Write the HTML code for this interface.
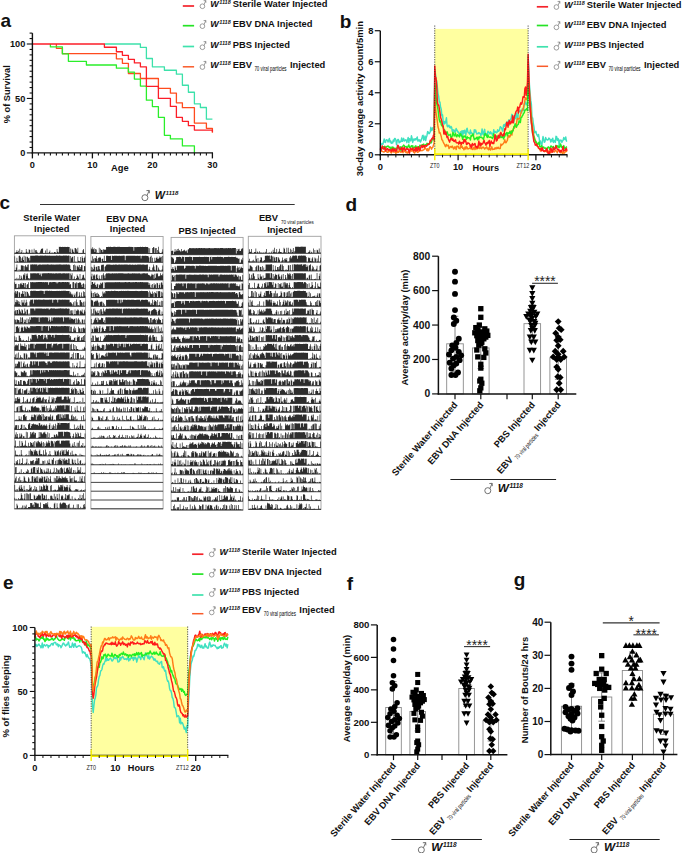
<!DOCTYPE html><html><head><meta charset="utf-8"><style>html,body{margin:0;padding:0;background:#fff;overflow:hidden;}svg{display:block;}text{font-family:"Liberation Sans",sans-serif;}</style></head><body><svg width="685" height="853" viewBox="0 0 685 853" font-family='"Liberation Sans", sans-serif'>
<rect x="0" y="0" width="685" height="853" fill="#fff" stroke="none" stroke-width="1"/>
<text x="0.6" y="26.7" font-size="19" text-anchor="start" font-weight="bold" font-style="normal" fill="#111">a</text>
<polyline fill="none" stroke="#ff4b1e" stroke-width="1.3" stroke-linejoin="round" points="56.4,44 56.4,44 56.4,48.36 62.4,48.36 62.4,53.58 116.4,53.58 116.4,58.81 122.4,58.81 122.4,63.28 128.4,63.28 128.4,73.51 140.4,73.51 140.4,78.52 158.4,78.52 158.4,88.32 170.4,88.32 170.4,93.11 176.4,93.11 176.4,102.81 182.4,102.81 182.4,107.71 194.4,107.71 194.4,123.06 206.4,123.06 206.4,128.29 212.4,128.29 212.4,132.75" stroke-linejoin="miter"/>
<polyline fill="none" stroke="#3ce1aa" stroke-width="1.3" stroke-linejoin="round" points="104.4,44 140.4,44 140.4,47.38 146.4,47.38 146.4,58.48 152.4,58.48 152.4,66.87 164.4,66.87 164.4,70.24 176.4,70.24 176.4,74.17 182.4,74.17 182.4,85.27 188.4,85.27 188.4,92.24 194.4,92.24 194.4,103.79 200.4,103.79 200.4,107.49 206.4,107.49 206.4,119.14 212.4,119.14" stroke-linejoin="miter"/>
<polyline fill="none" stroke="#2aee2a" stroke-width="1.3" stroke-linejoin="round" points="50.4,44 50.4,44 50.4,46.94 62.4,46.94 62.4,53.91 68.4,53.91 68.4,61.32 86.4,61.32 86.4,65.02 116.4,65.02 116.4,68.18 128.4,68.18 128.4,72.1 134.4,72.1 134.4,79.07 140.4,79.07 140.4,86.04 146.4,86.04 146.4,100.19 152.4,100.19 152.4,106.62 158.4,106.62 158.4,117.29 164.4,117.29 164.4,135.37 170.4,135.37 170.4,138.96 182.4,138.96 182.4,145.93 194.4,145.93 194.4,152.9" stroke-linejoin="miter"/>
<polyline fill="none" stroke="#fc1e28" stroke-width="1.3" stroke-linejoin="round" points="32.4,44 104.4,44 104.4,47.27 116.4,47.27 116.4,51.73 122.4,51.73 122.4,55.33 128.4,55.33 128.4,59.35 134.4,59.35 134.4,62.95 140.4,62.95 140.4,66.87 146.4,66.87 146.4,86.47 158.4,86.47 158.4,98.45 170.4,98.45 170.4,106.4 176.4,106.4 176.4,117.4 182.4,117.4 182.4,121.32 188.4,121.32 188.4,125.68 194.4,125.68 194.4,130.03 212.4,130.03 212.4,131.66" stroke-linejoin="miter"/>
<line x1="32.4" y1="33.11" x2="32.4" y2="153.6" stroke="#111" stroke-width="1.4"/>
<line x1="31.7" y1="152.9" x2="213" y2="152.9" stroke="#111" stroke-width="1.4"/>
<line x1="26.8" y1="152.9" x2="32.4" y2="152.9" stroke="#111" stroke-width="1.1"/>
<line x1="29.6" y1="147.46" x2="32.4" y2="147.46" stroke="#111" stroke-width="1.1"/>
<line x1="29.6" y1="142.01" x2="32.4" y2="142.01" stroke="#111" stroke-width="1.1"/>
<line x1="29.6" y1="136.56" x2="32.4" y2="136.56" stroke="#111" stroke-width="1.1"/>
<line x1="29.6" y1="131.12" x2="32.4" y2="131.12" stroke="#111" stroke-width="1.1"/>
<line x1="29.6" y1="125.68" x2="32.4" y2="125.68" stroke="#111" stroke-width="1.1"/>
<line x1="29.6" y1="120.23" x2="32.4" y2="120.23" stroke="#111" stroke-width="1.1"/>
<line x1="29.6" y1="114.78" x2="32.4" y2="114.78" stroke="#111" stroke-width="1.1"/>
<line x1="29.6" y1="109.34" x2="32.4" y2="109.34" stroke="#111" stroke-width="1.1"/>
<line x1="29.6" y1="103.9" x2="32.4" y2="103.9" stroke="#111" stroke-width="1.1"/>
<line x1="26.8" y1="98.45" x2="32.4" y2="98.45" stroke="#111" stroke-width="1.1"/>
<line x1="29.6" y1="93.01" x2="32.4" y2="93.01" stroke="#111" stroke-width="1.1"/>
<line x1="29.6" y1="87.56" x2="32.4" y2="87.56" stroke="#111" stroke-width="1.1"/>
<line x1="29.6" y1="82.12" x2="32.4" y2="82.12" stroke="#111" stroke-width="1.1"/>
<line x1="29.6" y1="76.67" x2="32.4" y2="76.67" stroke="#111" stroke-width="1.1"/>
<line x1="29.6" y1="71.23" x2="32.4" y2="71.23" stroke="#111" stroke-width="1.1"/>
<line x1="29.6" y1="65.78" x2="32.4" y2="65.78" stroke="#111" stroke-width="1.1"/>
<line x1="29.6" y1="60.34" x2="32.4" y2="60.34" stroke="#111" stroke-width="1.1"/>
<line x1="29.6" y1="54.89" x2="32.4" y2="54.89" stroke="#111" stroke-width="1.1"/>
<line x1="29.6" y1="49.45" x2="32.4" y2="49.45" stroke="#111" stroke-width="1.1"/>
<line x1="26.8" y1="44" x2="32.4" y2="44" stroke="#111" stroke-width="1.1"/>
<line x1="29.6" y1="38.56" x2="32.4" y2="38.56" stroke="#111" stroke-width="1.1"/>
<line x1="29.6" y1="33.11" x2="32.4" y2="33.11" stroke="#111" stroke-width="1.1"/>
<line x1="32.4" y1="152.9" x2="32.4" y2="158.4" stroke="#111" stroke-width="1.3"/>
<line x1="38.4" y1="152.9" x2="38.4" y2="155.5" stroke="#111" stroke-width="1.1"/>
<line x1="44.4" y1="152.9" x2="44.4" y2="155.5" stroke="#111" stroke-width="1.1"/>
<line x1="50.4" y1="152.9" x2="50.4" y2="155.5" stroke="#111" stroke-width="1.1"/>
<line x1="56.4" y1="152.9" x2="56.4" y2="155.5" stroke="#111" stroke-width="1.1"/>
<line x1="62.4" y1="152.9" x2="62.4" y2="155.5" stroke="#111" stroke-width="1.1"/>
<line x1="68.4" y1="152.9" x2="68.4" y2="155.5" stroke="#111" stroke-width="1.1"/>
<line x1="74.4" y1="152.9" x2="74.4" y2="155.5" stroke="#111" stroke-width="1.1"/>
<line x1="80.4" y1="152.9" x2="80.4" y2="155.5" stroke="#111" stroke-width="1.1"/>
<line x1="86.4" y1="152.9" x2="86.4" y2="155.5" stroke="#111" stroke-width="1.1"/>
<line x1="92.4" y1="152.9" x2="92.4" y2="158.4" stroke="#111" stroke-width="1.3"/>
<line x1="98.4" y1="152.9" x2="98.4" y2="155.5" stroke="#111" stroke-width="1.1"/>
<line x1="104.4" y1="152.9" x2="104.4" y2="155.5" stroke="#111" stroke-width="1.1"/>
<line x1="110.4" y1="152.9" x2="110.4" y2="155.5" stroke="#111" stroke-width="1.1"/>
<line x1="116.4" y1="152.9" x2="116.4" y2="155.5" stroke="#111" stroke-width="1.1"/>
<line x1="122.4" y1="152.9" x2="122.4" y2="155.5" stroke="#111" stroke-width="1.1"/>
<line x1="128.4" y1="152.9" x2="128.4" y2="155.5" stroke="#111" stroke-width="1.1"/>
<line x1="134.4" y1="152.9" x2="134.4" y2="155.5" stroke="#111" stroke-width="1.1"/>
<line x1="140.4" y1="152.9" x2="140.4" y2="155.5" stroke="#111" stroke-width="1.1"/>
<line x1="146.4" y1="152.9" x2="146.4" y2="155.5" stroke="#111" stroke-width="1.1"/>
<line x1="152.4" y1="152.9" x2="152.4" y2="158.4" stroke="#111" stroke-width="1.3"/>
<line x1="158.4" y1="152.9" x2="158.4" y2="155.5" stroke="#111" stroke-width="1.1"/>
<line x1="164.4" y1="152.9" x2="164.4" y2="155.5" stroke="#111" stroke-width="1.1"/>
<line x1="170.4" y1="152.9" x2="170.4" y2="155.5" stroke="#111" stroke-width="1.1"/>
<line x1="176.4" y1="152.9" x2="176.4" y2="155.5" stroke="#111" stroke-width="1.1"/>
<line x1="182.4" y1="152.9" x2="182.4" y2="155.5" stroke="#111" stroke-width="1.1"/>
<line x1="188.4" y1="152.9" x2="188.4" y2="155.5" stroke="#111" stroke-width="1.1"/>
<line x1="194.4" y1="152.9" x2="194.4" y2="155.5" stroke="#111" stroke-width="1.1"/>
<line x1="200.4" y1="152.9" x2="200.4" y2="155.5" stroke="#111" stroke-width="1.1"/>
<line x1="206.4" y1="152.9" x2="206.4" y2="155.5" stroke="#111" stroke-width="1.1"/>
<line x1="212.4" y1="152.9" x2="212.4" y2="158.4" stroke="#111" stroke-width="1.3"/>
<text x="25.3" y="156.1" font-size="9.2" text-anchor="end" font-weight="bold" font-style="normal" fill="#111">0</text>
<text x="25.3" y="101.65" font-size="9.2" text-anchor="end" font-weight="bold" font-style="normal" fill="#111">50</text>
<text x="25.3" y="47.2" font-size="9.2" text-anchor="end" font-weight="bold" font-style="normal" fill="#111">100</text>
<text x="32.4" y="167.8" font-size="9.2" text-anchor="middle" font-weight="bold" font-style="normal" fill="#111">0</text>
<text x="92.4" y="167.8" font-size="9.2" text-anchor="middle" font-weight="bold" font-style="normal" fill="#111">10</text>
<text x="152.4" y="167.8" font-size="9.2" text-anchor="middle" font-weight="bold" font-style="normal" fill="#111">20</text>
<text x="212.4" y="167.8" font-size="9.2" text-anchor="middle" font-weight="bold" font-style="normal" fill="#111">30</text>
<text x="119.8" y="171.2" font-size="9.35" text-anchor="middle" font-weight="bold" font-style="normal" fill="#111">Age</text>
<text x="9.9" y="94.25" font-size="9.25" text-anchor="middle" font-weight="bold" font-style="normal" fill="#111" transform="rotate(-90 9.9 94.25)">% of Survival</text>
<line x1="182.8" y1="6" x2="194.1" y2="6" stroke="#f4232b" stroke-width="1.7"/>
<g fill="none" stroke="#777" stroke-width="0.71">
<circle cx="202.42" cy="6.25" r="2.35"/>
<path d="M204.08 4.59L205.78 0.54M203.6 0.7L205.78 0.54L205.95 2.72"/>
</g>
<text x="210.3" y="6.9" font-size="9" text-anchor="start" font-weight="bold" font-style="italic" fill="#111">W</text>
<text x="219.3" y="4.1" font-size="5.5" text-anchor="start" font-weight="bold" font-style="italic" fill="#111">1118</text>
<text x="232.8" y="6.9" font-size="9.35" text-anchor="start" font-weight="bold" font-style="normal" fill="#111">Sterile Water Injected</text>
<line x1="182.8" y1="25.7" x2="194.1" y2="25.7" stroke="#25e325" stroke-width="1.7"/>
<g fill="none" stroke="#777" stroke-width="0.71">
<circle cx="202.42" cy="26.15" r="2.35"/>
<path d="M204.08 24.49L205.78 20.44M203.6 20.6L205.78 20.44L205.95 22.62"/>
</g>
<text x="210.3" y="26.8" font-size="9" text-anchor="start" font-weight="bold" font-style="italic" fill="#111">W</text>
<text x="219.3" y="24" font-size="5.5" text-anchor="start" font-weight="bold" font-style="italic" fill="#111">1118</text>
<text x="232.8" y="26.8" font-size="9.35" text-anchor="start" font-weight="bold" font-style="normal" fill="#111">EBV DNA Injected</text>
<line x1="182.8" y1="46.5" x2="194.1" y2="46.5" stroke="#3fe2ad" stroke-width="1.7"/>
<g fill="none" stroke="#777" stroke-width="0.71">
<circle cx="202.42" cy="47.25" r="2.35"/>
<path d="M204.08 45.59L205.78 41.54M203.6 41.7L205.78 41.54L205.95 43.72"/>
</g>
<text x="210.3" y="47.9" font-size="9" text-anchor="start" font-weight="bold" font-style="italic" fill="#111">W</text>
<text x="219.3" y="45.1" font-size="5.5" text-anchor="start" font-weight="bold" font-style="italic" fill="#111">1118</text>
<text x="232.8" y="47.9" font-size="9.35" text-anchor="start" font-weight="bold" font-style="normal" fill="#111">PBS Injected</text>
<line x1="182.8" y1="66.8" x2="194.1" y2="66.8" stroke="#f95b2a" stroke-width="1.5"/>
<g fill="none" stroke="#777" stroke-width="0.71">
<circle cx="202.42" cy="67.05" r="2.35"/>
<path d="M204.08 65.39L205.78 61.34M203.6 61.5L205.78 61.34L205.95 63.52"/>
</g>
<text x="210.3" y="67.7" font-size="9" text-anchor="start" font-weight="bold" font-style="italic" fill="#111">W</text>
<text x="219.3" y="64.9" font-size="5.5" text-anchor="start" font-weight="bold" font-style="italic" fill="#111">1118</text>
<text x="232.8" y="67.7" font-size="9.35" text-anchor="start" font-weight="bold" font-style="normal" fill="#111">EBV</text>
<text x="254.4" y="70.7" font-size="6.3" text-anchor="start" font-weight="normal" font-style="normal" fill="#000" textLength="32.2" lengthAdjust="spacingAndGlyphs">70 viral particles</text>
<text x="290" y="67.7" font-size="9.35" text-anchor="start" font-weight="bold" font-style="normal" fill="#111">Injected</text>
<text x="339.8" y="27.5" font-size="19" text-anchor="start" font-weight="bold" font-style="normal" fill="#111">b</text>
<rect x="434.76" y="28.9" width="93.36" height="125.9" fill="#ffffa0" stroke="none" stroke-width="1"/>
<polyline fill="none" stroke="#40e0c0" stroke-width="1.45" stroke-linejoin="round" points="380.3,142.63 380.95,143.62 381.6,144.67 382.25,143.82 382.89,144.29 383.54,141.66 384.19,138.93 384.84,142.2 385.49,142.41 386.13,139.87 386.78,139.67 387.43,140.25 388.08,142.03 388.73,139.93 389.38,138.42 390.03,142.13 390.67,140.9 391.32,143.38 391.97,142.35 392.62,143.03 393.27,140.04 393.92,141.52 394.56,138.57 395.21,138.58 395.86,140.08 396.51,144.76 397.16,141.06 397.81,139.51 398.45,139.56 399.1,142.86 399.75,141.25 400.4,142.08 401.05,141.44 401.69,137.97 402.34,141.35 402.99,140.03 403.64,138.34 404.29,141.11 404.94,140.43 405.59,139.84 406.23,140.23 406.88,142.65 407.53,139.87 408.18,137.55 408.83,142.78 409.48,138.61 410.12,139.75 410.77,140.87 411.42,135.76 412.07,138.22 412.72,142.41 413.37,140.07 414.01,138.86 414.66,140.13 415.31,138.67 415.96,139.85 416.61,138.27 417.25,136.99 417.9,141.07 418.55,139.94 419.2,140.97 419.85,139.85 420.5,141.98 421.14,140.53 421.79,138.86 422.44,135.9 423.09,135.33 423.74,140.18 424.39,138.92 425.04,135.91 425.68,140.6 426.33,137.43 426.98,135.41 427.63,131.6 428.28,132.01 428.93,133.75 429.57,133.34 430.22,131.78 430.87,127.35 431.52,130.64 432.17,129.96 432.81,127.71 433.46,127.9 434.11,127.74 434.76,69.46 435.41,73.31 436.06,79.87 436.71,80.79 437.35,87.11 438,93.62 438.65,96.23 439.3,102.03 439.95,102.02 440.6,107.22 441.24,109.19 441.89,115.86 442.54,114.8 443.19,121.61 443.84,124.22 444.49,121.46 445.13,123.4 445.78,121.38 446.43,117.82 447.08,125.81 447.73,126.83 448.38,125.38 449.02,125.3 449.67,127.48 450.32,128.02 450.97,126.36 451.62,127.44 452.26,131.35 452.91,129.83 453.56,129.91 454.21,132.36 454.86,130.13 455.51,132.08 456.16,128.5 456.8,130.01 457.45,130.85 458.1,132.49 458.75,132.26 459.4,136.41 460.05,134.58 460.69,131.63 461.34,136.26 461.99,130.83 462.64,135.38 463.29,130.79 463.94,133.39 464.58,130.29 465.23,131.87 465.88,135.18 466.53,129.12 467.18,128.33 467.83,131.89 468.47,132.81 469.12,132.87 469.77,134.15 470.42,130.04 471.07,133.14 471.72,132.7 472.36,134.26 473.01,134.28 473.66,135.03 474.31,129.71 474.96,131.95 475.61,130.03 476.25,132.15 476.9,133.98 477.55,133.4 478.2,133.67 478.85,132.53 479.5,133.24 480.14,133.5 480.79,135.83 481.44,134.09 482.09,128.86 482.74,133.69 483.38,134.85 484.03,131.41 484.68,129.34 485.33,135.35 485.98,133.4 486.63,134.35 487.28,136.39 487.92,131.11 488.57,132.12 489.22,132.36 489.87,133.91 490.52,131.62 491.17,133.47 491.81,133.12 492.46,135.29 493.11,135.08 493.76,129.63 494.41,132.85 495.06,131.46 495.7,131.91 496.35,132.77 497,132.46 497.65,129.79 498.3,131.31 498.95,130.86 499.59,129.71 500.24,126.67 500.89,127.2 501.54,127.94 502.19,130.13 502.84,131.26 503.48,125.36 504.13,124.45 504.78,126.44 505.43,124.5 506.08,123.14 506.73,122.35 507.37,121.96 508.02,124.18 508.67,119.91 509.32,125 509.97,120 510.62,119.49 511.26,117.64 511.91,114.35 512.56,115.19 513.21,121.65 513.86,122.42 514.5,115.88 515.15,118.83 515.8,115.74 516.45,113.18 517.1,118.96 517.75,119.49 518.39,112.5 519.04,111.55 519.69,111.5 520.34,110.28 520.99,112.05 521.64,112.86 522.29,108.74 522.93,109.89 523.58,110.43 524.23,103.86 524.88,103.61 525.53,102.04 526.17,104.83 526.82,103.55 527.47,103.43 528.12,55.9 528.77,68.96 529.42,84.55 530.07,92.25 530.71,100.14 531.36,103.88 532.01,117.72 532.66,117.86 533.31,123.46 533.96,127.13 534.6,132.79 535.25,132.5 535.9,131.3 536.55,134.18 537.2,135.25 537.85,136.52 538.49,134.46 539.14,137.86 539.79,143.03 540.44,141.04 541.09,144.06 541.74,146.69 542.38,140.83 543.03,136.59 543.68,139.33 544.33,142.35 544.98,141.71 545.62,137.53 546.27,139.15 546.92,139.73 547.57,139.99 548.22,139.64 548.87,138.07 549.51,138.52 550.16,139.66 550.81,142.04 551.46,139.39 552.11,141.06 552.76,138.22 553.4,142.5 554.05,140.68 554.7,140.45 555.35,142.43 556,136.34 556.65,136.6 557.3,140.45 557.94,138.43 558.59,139.74 559.24,145.48 559.89,140.24 560.54,140.1 561.19,140.19 561.83,142.42 562.48,140.98 563.13,140.2 563.78,137.48 564.43,139.03 565.08,139.58 565.72,136.95 566.37,140.95 567.02,141.53"/>
<polyline fill="none" stroke="#ff7d18" stroke-width="1.45" stroke-linejoin="round" points="380.3,150.37 380.95,150.53 381.6,150.87 382.25,151.47 382.89,151.49 383.54,151.96 384.19,151.94 384.84,151.47 385.49,150.04 386.13,150.93 386.78,151.76 387.43,152.39 388.08,152.23 388.73,150.04 389.38,150.95 390.03,151.61 390.67,152.19 391.32,152.91 391.97,151.8 392.62,150.85 393.27,152.02 393.92,152.01 394.56,151.94 395.21,151.82 395.86,153.38 396.51,152.26 397.16,152.5 397.81,150.99 398.45,152.31 399.1,151 399.75,150.07 400.4,151.9 401.05,152.34 401.69,151.58 402.34,151.8 402.99,152.67 403.64,151.08 404.29,149.57 404.94,151.73 405.59,152.08 406.23,152.77 406.88,151.66 407.53,153.1 408.18,152.85 408.83,150.63 409.48,152.33 410.12,150.49 410.77,149.93 411.42,151.16 412.07,150.83 412.72,149.6 413.37,151.68 414.01,152.44 414.66,153.07 415.31,151.47 415.96,149.78 416.61,150.31 417.25,152.29 417.9,152.32 418.55,151.73 419.2,150.79 419.85,151.04 420.5,150.52 421.14,150.31 421.79,150.76 422.44,150.37 423.09,149.94 423.74,149.96 424.39,148.98 425.04,147.35 425.68,148.45 426.33,149.26 426.98,150.79 427.63,148.78 428.28,150.84 428.93,149.99 429.57,147.06 430.22,146.75 430.87,147.71 431.52,149.19 432.17,147.59 432.81,147.26 433.46,145.16 434.11,142.97 434.76,95.12 435.41,105.43 436.06,112.77 436.71,116.68 437.35,121.67 438,127.03 438.65,128.96 439.3,133.09 439.95,132.56 440.6,134.37 441.24,136.43 441.89,139.88 442.54,140.21 443.19,142.02 443.84,143.35 444.49,144.25 445.13,146.11 445.78,146.62 446.43,144.51 447.08,145.71 447.73,145.58 448.38,145.28 449.02,148.53 449.67,147.86 450.32,146.72 450.97,146.58 451.62,147.37 452.26,146.06 452.91,147.11 453.56,148.94 454.21,148.62 454.86,146.65 455.51,147.19 456.16,149.56 456.8,146.26 457.45,146.58 458.1,146.09 458.75,148.01 459.4,148.29 460.05,148.73 460.69,144.99 461.34,147.37 461.99,146.05 462.64,148.28 463.29,147.93 463.94,149.77 464.58,148.34 465.23,146.89 465.88,148.96 466.53,146.69 467.18,147.41 467.83,149.05 468.47,148.61 469.12,148.43 469.77,148.02 470.42,148.57 471.07,148.9 471.72,148.44 472.36,149.24 473.01,149.47 473.66,147.93 474.31,147.02 474.96,149.47 475.61,148.13 476.25,148.72 476.9,148.93 477.55,147.04 478.2,148.08 478.85,146.27 479.5,148.45 480.14,147.52 480.79,148.14 481.44,148.64 482.09,147.27 482.74,147.83 483.38,147.15 484.03,147.95 484.68,149.1 485.33,148.09 485.98,147.64 486.63,146.83 487.28,148.74 487.92,148.25 488.57,149.73 489.22,147.47 489.87,149.25 490.52,150.09 491.17,147.99 491.81,146.77 492.46,149.59 493.11,149.41 493.76,149.01 494.41,149.19 495.06,147.66 495.7,148.81 496.35,148.69 497,147.36 497.65,148.44 498.3,147.24 498.95,148.45 499.59,148.67 500.24,148.49 500.89,143.98 501.54,145.43 502.19,144.53 502.84,144.12 503.48,143.27 504.13,142.36 504.78,139.7 505.43,142.5 506.08,142.76 506.73,141.33 507.37,140.44 508.02,136.72 508.67,135.58 509.32,137.12 509.97,136.83 510.62,134.07 511.26,131.03 511.91,135.1 512.56,130.11 513.21,130.29 513.86,126.59 514.5,128.01 515.15,126.17 515.8,126.52 516.45,124.16 517.1,119.06 517.75,118.33 518.39,119.1 519.04,118.9 519.69,118.93 520.34,115.11 520.99,112.69 521.64,111.17 522.29,109.86 522.93,109.83 523.58,106.61 524.23,104.4 524.88,100.24 525.53,97.65 526.17,99.56 526.82,99.28 527.47,96.52 528.12,63.24 528.77,78.55 529.42,90.02 530.07,101.72 530.71,107.85 531.36,115.87 532.01,121.54 532.66,127.23 533.31,132.28 533.96,135.97 534.6,137.9 535.25,140.43 535.9,141.46 536.55,143.5 537.2,146.35 537.85,146.14 538.49,148.43 539.14,148.5 539.79,148.92 540.44,151.12 541.09,149.35 541.74,149.39 542.38,150.08 543.03,150.66 543.68,150.93 544.33,151.66 544.98,151.16 545.62,151.4 546.27,151.02 546.92,152.21 547.57,150.93 548.22,150.93 548.87,151.34 549.51,151.6 550.16,150.92 550.81,152.88 551.46,150.97 552.11,150.94 552.76,150.93 553.4,150.97 554.05,152.01 554.7,151.62 555.35,150.66 556,150.79 556.65,151.29 557.3,152.87 557.94,150.85 558.59,149.94 559.24,150.13 559.89,151.2 560.54,152.87 561.19,150.61 561.83,151.75 562.48,154.02 563.13,151.52 563.78,153.08 564.43,153.03 565.08,152.06 565.72,150.18 566.37,151.57 567.02,150.92"/>
<polyline fill="none" stroke="#22ee22" stroke-width="1.45" stroke-linejoin="round" points="380.3,147.28 380.95,147.85 381.6,149.02 382.25,148.32 382.89,146.89 383.54,146.8 384.19,147.01 384.84,146.25 385.49,148.15 386.13,147.43 386.78,146.39 387.43,146.38 388.08,145.91 388.73,146.76 389.38,147.61 390.03,147.12 390.67,148.76 391.32,149.4 391.97,146.91 392.62,147.29 393.27,147.25 393.92,149.42 394.56,148.14 395.21,148.27 395.86,148.83 396.51,150.26 397.16,147.97 397.81,146.26 398.45,146.85 399.1,148.03 399.75,147.35 400.4,146.86 401.05,150.6 401.69,147.84 402.34,146.61 402.99,146.19 403.64,145.02 404.29,145.68 404.94,146.76 405.59,146.82 406.23,146.44 406.88,147.89 407.53,147.35 408.18,145.97 408.83,144.88 409.48,147.26 410.12,147.41 410.77,146.92 411.42,145.71 412.07,146.96 412.72,145.71 413.37,148.28 414.01,147.67 414.66,147.36 415.31,146.07 415.96,145.92 416.61,148.81 417.25,148.2 417.9,146.62 418.55,147.66 419.2,148.36 419.85,145.28 420.5,145.41 421.14,145.48 421.79,146.27 422.44,144.56 423.09,145.5 423.74,144.13 424.39,146.22 425.04,146.07 425.68,144.62 426.33,145.14 426.98,143.32 427.63,143.54 428.28,144.7 428.93,143.37 429.57,143.24 430.22,141.58 430.87,143.05 431.52,142.44 432.17,139.68 432.81,137.69 433.46,137.77 434.11,140 434.76,82.61 435.41,87.38 436.06,96.54 436.71,103.49 437.35,106.17 438,109.6 438.65,115.4 439.3,119.99 439.95,121.94 440.6,120.99 441.24,124.74 441.89,125.68 442.54,126.43 443.19,127.23 443.84,129.61 444.49,129.78 445.13,132.48 445.78,132.82 446.43,133.95 447.08,131.66 447.73,133.6 448.38,135.22 449.02,135.13 449.67,135.03 450.32,134.37 450.97,137.67 451.62,137.37 452.26,135.98 452.91,132.13 453.56,134.21 454.21,136 454.86,134.88 455.51,133.31 456.16,136.45 456.8,136.84 457.45,134.8 458.1,135.56 458.75,135.7 459.4,136.95 460.05,133.78 460.69,133.88 461.34,135.55 461.99,136.09 462.64,139.47 463.29,136.33 463.94,136.95 464.58,136.17 465.23,135.9 465.88,137.56 466.53,139.3 467.18,136.82 467.83,137.96 468.47,137.63 469.12,137.91 469.77,137.94 470.42,140.06 471.07,135.58 471.72,136.17 472.36,134.97 473.01,133.94 473.66,136.89 474.31,139.66 474.96,138.76 475.61,138.91 476.25,137.87 476.9,137.29 477.55,139.72 478.2,137.1 478.85,138.99 479.5,136.83 480.14,137.12 480.79,137.44 481.44,137.22 482.09,137.85 482.74,138.22 483.38,139.46 484.03,136.98 484.68,134 485.33,133.59 485.98,134.61 486.63,135.85 487.28,137.54 487.92,135.05 488.57,136.8 489.22,137.12 489.87,137.37 490.52,136.96 491.17,137.58 491.81,137.35 492.46,138.58 493.11,137.28 493.76,133.81 494.41,136.7 495.06,137.22 495.7,136.13 496.35,136.06 497,138.45 497.65,137.29 498.3,135.65 498.95,136.4 499.59,136.47 500.24,134.86 500.89,137.63 501.54,136.98 502.19,137.19 502.84,134.84 503.48,138.9 504.13,137.37 504.78,136.38 505.43,134.27 506.08,133.58 506.73,132.53 507.37,135.83 508.02,132.66 508.67,133.31 509.32,133.28 509.97,131.24 510.62,132.82 511.26,133.9 511.91,131.1 512.56,131.66 513.21,129.68 513.86,127.22 514.5,126.11 515.15,123.69 515.8,125.73 516.45,127.25 517.1,125.48 517.75,124.81 518.39,124.13 519.04,120.82 519.69,121.62 520.34,122.58 520.99,117.63 521.64,117.35 522.29,115.8 522.93,115 523.58,113.26 524.23,112.86 524.88,110.02 525.53,110.09 526.17,109.23 526.82,108.5 527.47,110.41 528.12,73.39 528.77,87.76 529.42,99.02 530.07,110.49 530.71,113.57 531.36,121.92 532.01,129.28 532.66,133.87 533.31,134.9 533.96,137.01 534.6,139.73 535.25,140.48 535.9,142.44 536.55,142.24 537.2,144.45 537.85,144.28 538.49,143.17 539.14,142.02 539.79,146.54 540.44,146.76 541.09,147.11 541.74,145.64 542.38,147.81 543.03,147.34 543.68,146.92 544.33,148.08 544.98,148.19 545.62,147.89 546.27,149.74 546.92,149.06 547.57,147.64 548.22,146.87 548.87,147.45 549.51,149.25 550.16,147.72 550.81,146.02 551.46,146.23 552.11,147.17 552.76,148.02 553.4,146.49 554.05,147.82 554.7,148.67 555.35,147.97 556,145.36 556.65,146.38 557.3,145.67 557.94,147.31 558.59,146.07 559.24,147.66 559.89,146.95 560.54,143.93 561.19,145.81 561.83,147.55 562.48,147.17 563.13,146.48 563.78,145.6 564.43,147.72 565.08,149.28 565.72,147.65 566.37,147.05 567.02,146.71"/>
<polyline fill="none" stroke="#ff1a1a" stroke-width="1.45" stroke-linejoin="round" points="380.3,148.49 380.95,151.16 381.6,148.03 382.25,145.85 382.89,147.91 383.54,149.07 384.19,149 384.84,146.87 385.49,150.88 386.13,149.96 386.78,148.78 387.43,148.44 388.08,150.19 388.73,149.32 389.38,150.06 390.03,149.57 390.67,150.11 391.32,151.61 391.97,149.77 392.62,148.43 393.27,151.16 393.92,150.15 394.56,148.85 395.21,151.29 395.86,149.82 396.51,151.17 397.16,147.53 397.81,145.18 398.45,145.88 399.1,149.47 399.75,148.47 400.4,149.31 401.05,149.16 401.69,147.36 402.34,151.34 402.99,148.21 403.64,149.25 404.29,147.31 404.94,149.22 405.59,150.7 406.23,149.21 406.88,148.39 407.53,149.37 408.18,148.97 408.83,150.89 409.48,153.15 410.12,148.48 410.77,148.3 411.42,149.28 412.07,149.31 412.72,148 413.37,150.3 414.01,150.86 414.66,149.68 415.31,147.71 415.96,151.09 416.61,147.55 417.25,150.05 417.9,150.56 418.55,146.74 419.2,148.62 419.85,150.57 420.5,148.7 421.14,145.94 421.79,145.27 422.44,147.59 423.09,146.1 423.74,145.35 424.39,147.15 425.04,145.39 425.68,145.61 426.33,146.23 426.98,145.74 427.63,144.28 428.28,143.92 428.93,144.56 429.57,143.61 430.22,140.35 430.87,141.03 431.52,139.33 432.17,138.14 432.81,138.27 433.46,135.25 434.11,140.01 434.76,65.88 435.41,76.39 436.06,78.06 436.71,85.89 437.35,101.75 438,104.93 438.65,104.9 439.3,108.27 439.95,112.37 440.6,117.52 441.24,119.35 441.89,121.56 442.54,125.19 443.19,125.86 443.84,133.91 444.49,130.45 445.13,134.18 445.78,131.92 446.43,135.22 447.08,137.57 447.73,136.33 448.38,139.43 449.02,140.61 449.67,142.14 450.32,139.61 450.97,138.54 451.62,138.09 452.26,140.36 452.91,138.91 453.56,140.97 454.21,141.54 454.86,140.4 455.51,139.85 456.16,142.61 456.8,142.9 457.45,142.81 458.1,142.69 458.75,144.16 459.4,141.16 460.05,143.31 460.69,142.4 461.34,144.43 461.99,142.54 462.64,142.45 463.29,143.46 463.94,139.46 464.58,141.71 465.23,139.67 465.88,141.31 466.53,144.53 467.18,144.21 467.83,142.71 468.47,143.25 469.12,143.45 469.77,144.47 470.42,147.06 471.07,144.91 471.72,147.7 472.36,143.55 473.01,145.02 473.66,145.14 474.31,144.1 474.96,143.46 475.61,146.64 476.25,147.48 476.9,146.5 477.55,147.93 478.2,145.54 478.85,141.09 479.5,145.08 480.14,142.96 480.79,145.98 481.44,143.45 482.09,144.17 482.74,143.68 483.38,142.15 484.03,140.14 484.68,142.82 485.33,143.57 485.98,145.29 486.63,142.82 487.28,143.76 487.92,142.11 488.57,142.98 489.22,140.51 489.87,146.53 490.52,143.66 491.17,140.99 491.81,142.83 492.46,143.48 493.11,142.43 493.76,143.69 494.41,139.98 495.06,134.81 495.7,136.82 496.35,141.06 497,140.47 497.65,138.51 498.3,135.33 498.95,138.06 499.59,137.19 500.24,133.16 500.89,132.38 501.54,134.48 502.19,135.78 502.84,135.94 503.48,133.84 504.13,135.36 504.78,128.74 505.43,129.82 506.08,126.44 506.73,122.25 507.37,123.16 508.02,127.2 508.67,122.15 509.32,120.45 509.97,123.92 510.62,123.74 511.26,121.22 511.91,122.62 512.56,115.73 513.21,122.82 513.86,119.5 514.5,115.92 515.15,114.31 515.8,112.14 516.45,110.75 517.1,110.35 517.75,106.89 518.39,113.06 519.04,107.59 519.69,107.26 520.34,103.99 520.99,102.59 521.64,104.24 522.29,102.13 522.93,96.99 523.58,96.74 524.23,97.45 524.88,88.82 525.53,87.03 526.17,95.51 526.82,89.7 527.47,81.99 528.12,54.25 528.77,76.54 529.42,93.52 530.07,106.54 530.71,115.41 531.36,123.23 532.01,126.62 532.66,133.49 533.31,137.74 533.96,141.85 534.6,142.22 535.25,145.17 535.9,145.15 536.55,144.04 537.2,145.86 537.85,146.51 538.49,147.36 539.14,148.38 539.79,149.15 540.44,149.53 541.09,148.38 541.74,150.9 542.38,147.64 543.03,149.58 543.68,151.18 544.33,151.01 544.98,151.14 545.62,150.02 546.27,150.94 546.92,148.48 547.57,151.59 548.22,154.02 548.87,152.18 549.51,153.57 550.16,150.38 550.81,148.26 551.46,149.12 552.11,152.35 552.76,151.3 553.4,147.31 554.05,149.25 554.7,149.85 555.35,147.9 556,145.63 556.65,147.48 557.3,149.58 557.94,149.41 558.59,149.19 559.24,151.24 559.89,152 560.54,150.47 561.19,151.7 561.83,150.42 562.48,149.52 563.13,146.46 563.78,151.09 564.43,150.56 565.08,150.35 565.72,149.25 566.37,148.44 567.02,150.91"/>
<line x1="434.76" y1="25.5" x2="434.76" y2="154.8" stroke="#222" stroke-width="0.8" stroke-dasharray="1.2,1.2"/>
<line x1="528.12" y1="25.5" x2="528.12" y2="154.8" stroke="#222" stroke-width="0.8" stroke-dasharray="1.2,1.2"/>
<line x1="380.3" y1="30.72" x2="380.3" y2="155.5" stroke="#111" stroke-width="1.4"/>
<line x1="374.8" y1="154.8" x2="380.3" y2="154.8" stroke="#111" stroke-width="1.2"/>
<text x="373.5" y="157.9" font-size="9.3" text-anchor="end" font-weight="bold" font-style="normal" fill="#111">0</text>
<line x1="374.8" y1="123.78" x2="380.3" y2="123.78" stroke="#111" stroke-width="1.2"/>
<text x="373.5" y="126.88" font-size="9.3" text-anchor="end" font-weight="bold" font-style="normal" fill="#111">2</text>
<line x1="374.8" y1="92.76" x2="380.3" y2="92.76" stroke="#111" stroke-width="1.2"/>
<text x="373.5" y="95.86" font-size="9.3" text-anchor="end" font-weight="bold" font-style="normal" fill="#111">4</text>
<line x1="374.8" y1="61.74" x2="380.3" y2="61.74" stroke="#111" stroke-width="1.2"/>
<text x="373.5" y="64.84" font-size="9.3" text-anchor="end" font-weight="bold" font-style="normal" fill="#111">6</text>
<line x1="374.8" y1="30.72" x2="380.3" y2="30.72" stroke="#111" stroke-width="1.2"/>
<text x="373.5" y="33.82" font-size="9.3" text-anchor="end" font-weight="bold" font-style="normal" fill="#111">8</text>
<line x1="379.6" y1="154.8" x2="567.52" y2="154.8" stroke="#111" stroke-width="1.4"/>
<line x1="434.76" y1="154.1" x2="528.12" y2="154.1" stroke="#f8f000" stroke-width="1.7"/>
<line x1="380.3" y1="154.8" x2="380.3" y2="160.3" stroke="#111" stroke-width="1.3"/>
<line x1="388.08" y1="154.8" x2="388.08" y2="157.4" stroke="#111" stroke-width="1"/>
<line x1="395.86" y1="154.8" x2="395.86" y2="157.4" stroke="#111" stroke-width="1"/>
<line x1="403.64" y1="154.8" x2="403.64" y2="157.4" stroke="#111" stroke-width="1"/>
<line x1="411.42" y1="154.8" x2="411.42" y2="157.4" stroke="#111" stroke-width="1"/>
<line x1="419.2" y1="154.8" x2="419.2" y2="157.4" stroke="#111" stroke-width="1"/>
<line x1="426.98" y1="154.8" x2="426.98" y2="157.4" stroke="#111" stroke-width="1"/>
<line x1="442.54" y1="154.8" x2="442.54" y2="157.4" stroke="#111" stroke-width="1"/>
<line x1="450.32" y1="154.8" x2="450.32" y2="157.4" stroke="#111" stroke-width="1"/>
<line x1="458.1" y1="154.8" x2="458.1" y2="160.3" stroke="#111" stroke-width="1.3"/>
<line x1="465.88" y1="154.8" x2="465.88" y2="157.4" stroke="#111" stroke-width="1"/>
<line x1="473.66" y1="154.8" x2="473.66" y2="157.4" stroke="#111" stroke-width="1"/>
<line x1="481.44" y1="154.8" x2="481.44" y2="157.4" stroke="#111" stroke-width="1"/>
<line x1="489.22" y1="154.8" x2="489.22" y2="157.4" stroke="#111" stroke-width="1"/>
<line x1="497" y1="154.8" x2="497" y2="157.4" stroke="#111" stroke-width="1"/>
<line x1="504.78" y1="154.8" x2="504.78" y2="157.4" stroke="#111" stroke-width="1"/>
<line x1="512.56" y1="154.8" x2="512.56" y2="157.4" stroke="#111" stroke-width="1"/>
<line x1="520.34" y1="154.8" x2="520.34" y2="157.4" stroke="#111" stroke-width="1"/>
<line x1="535.9" y1="154.8" x2="535.9" y2="160.3" stroke="#111" stroke-width="1.3"/>
<line x1="543.68" y1="154.8" x2="543.68" y2="157.4" stroke="#111" stroke-width="1"/>
<line x1="551.46" y1="154.8" x2="551.46" y2="157.4" stroke="#111" stroke-width="1"/>
<line x1="559.24" y1="154.8" x2="559.24" y2="157.4" stroke="#111" stroke-width="1"/>
<line x1="567.02" y1="154.8" x2="567.02" y2="157.4" stroke="#111" stroke-width="1"/>
<line x1="434.76" y1="148.8" x2="434.76" y2="160.3" stroke="#f8f000" stroke-width="1.4"/>
<line x1="528.12" y1="148.8" x2="528.12" y2="160.3" stroke="#f8f000" stroke-width="1.4"/>
<text x="380.3" y="169.6" font-size="9.3" text-anchor="middle" font-weight="bold" font-style="normal" fill="#111">0</text>
<text x="458.1" y="169.6" font-size="9.3" text-anchor="middle" font-weight="bold" font-style="normal" fill="#111">10</text>
<text x="535.9" y="169.6" font-size="9.3" text-anchor="middle" font-weight="bold" font-style="normal" fill="#111">20</text>
<text x="434.76" y="168.1" font-size="6.6" text-anchor="middle" font-weight="normal" font-style="normal" fill="#222" textLength="9.6" lengthAdjust="spacingAndGlyphs">ZT0</text>
<text x="529.32" y="168.1" font-size="6.6" text-anchor="end" font-weight="normal" font-style="normal" fill="#222" textLength="12.8" lengthAdjust="spacingAndGlyphs">ZT12</text>
<text x="485.8" y="170.7" font-size="9.2" text-anchor="middle" font-weight="bold" font-style="normal" fill="#111">Hours</text>
<text x="363" y="98.65" font-size="9.37" text-anchor="middle" font-weight="bold" font-style="normal" fill="#111" transform="rotate(-90 363 98.65)">30-day average activity count/5min</text>
<line x1="536.8" y1="6.8" x2="548.1" y2="6.8" stroke="#f4232b" stroke-width="1.7"/>
<g fill="none" stroke="#777" stroke-width="0.71">
<circle cx="556.42" cy="7.05" r="2.35"/>
<path d="M558.08 5.39L559.78 1.34M557.6 1.5L559.78 1.34L559.95 3.52"/>
</g>
<text x="564.3" y="7.7" font-size="9" text-anchor="start" font-weight="bold" font-style="italic" fill="#111">W</text>
<text x="573.3" y="4.9" font-size="5.5" text-anchor="start" font-weight="bold" font-style="italic" fill="#111">1118</text>
<text x="586.8" y="7.7" font-size="9.35" text-anchor="start" font-weight="bold" font-style="normal" fill="#111">Sterile Water Injected</text>
<line x1="536.8" y1="25.5" x2="548.1" y2="25.5" stroke="#25e325" stroke-width="1.7"/>
<g fill="none" stroke="#777" stroke-width="0.71">
<circle cx="556.42" cy="27.35" r="2.35"/>
<path d="M558.08 25.69L559.78 21.64M557.6 21.8L559.78 21.64L559.95 23.82"/>
</g>
<text x="564.3" y="28" font-size="9" text-anchor="start" font-weight="bold" font-style="italic" fill="#111">W</text>
<text x="573.3" y="25.2" font-size="5.5" text-anchor="start" font-weight="bold" font-style="italic" fill="#111">1118</text>
<text x="586.8" y="28" font-size="9.35" text-anchor="start" font-weight="bold" font-style="normal" fill="#111">EBV DNA Injected</text>
<line x1="536.8" y1="46.8" x2="548.1" y2="46.8" stroke="#3fe2ad" stroke-width="1.7"/>
<g fill="none" stroke="#777" stroke-width="0.71">
<circle cx="556.42" cy="47.75" r="2.35"/>
<path d="M558.08 46.09L559.78 42.04M557.6 42.2L559.78 42.04L559.95 44.22"/>
</g>
<text x="564.3" y="48.4" font-size="9" text-anchor="start" font-weight="bold" font-style="italic" fill="#111">W</text>
<text x="573.3" y="45.6" font-size="5.5" text-anchor="start" font-weight="bold" font-style="italic" fill="#111">1118</text>
<text x="586.8" y="48.4" font-size="9.35" text-anchor="start" font-weight="bold" font-style="normal" fill="#111">PBS Injected</text>
<line x1="536.8" y1="66.3" x2="548.1" y2="66.3" stroke="#f95b2a" stroke-width="1.5"/>
<g fill="none" stroke="#777" stroke-width="0.71">
<circle cx="556.42" cy="67.05" r="2.35"/>
<path d="M558.08 65.39L559.78 61.34M557.6 61.5L559.78 61.34L559.95 63.52"/>
</g>
<text x="564.3" y="67.7" font-size="9" text-anchor="start" font-weight="bold" font-style="italic" fill="#111">W</text>
<text x="573.3" y="64.9" font-size="5.5" text-anchor="start" font-weight="bold" font-style="italic" fill="#111">1118</text>
<text x="586.8" y="67.7" font-size="9.35" text-anchor="start" font-weight="bold" font-style="normal" fill="#111">EBV</text>
<text x="608.4" y="70.7" font-size="6.3" text-anchor="start" font-weight="normal" font-style="normal" fill="#000" textLength="32.2" lengthAdjust="spacingAndGlyphs">70 viral particles</text>
<text x="644" y="67.7" font-size="9.35" text-anchor="start" font-weight="bold" font-style="normal" fill="#111">Injected</text>
<text x="-0.6" y="209" font-size="19" text-anchor="start" font-weight="bold" font-style="normal" fill="#111">c</text>
<line x1="40" y1="204.5" x2="294.7" y2="204.5" stroke="#333" stroke-width="1"/>
<g fill="none" stroke="#666" stroke-width="0.91">
<circle cx="144.91" cy="197.7" r="3"/>
<path d="M147.03 195.59L149.19 190.43M146.41 190.64L149.19 190.43L149.4 193.21"/>
</g>
<text x="154.8" y="198.9" font-size="10.8" text-anchor="start" font-weight="bold" font-style="italic" fill="#111">W</text>
<text x="165.6" y="194.9" font-size="6.2" text-anchor="start" font-weight="bold" font-style="italic" fill="#111">1118</text>
<text x="51.75" y="221.4" font-size="9.35" text-anchor="middle" font-weight="bold" font-style="normal" fill="#111">Sterile Water</text>
<text x="51.75" y="231.8" font-size="9.35" text-anchor="middle" font-weight="bold" font-style="normal" fill="#111">Injected</text>
<text x="127.3" y="222.1" font-size="9.35" text-anchor="middle" font-weight="bold" font-style="normal" fill="#111">EBV DNA</text>
<text x="127.5" y="232.4" font-size="9.35" text-anchor="middle" font-weight="bold" font-style="normal" fill="#111">Injected</text>
<text x="207.1" y="234.2" font-size="9.35" text-anchor="middle" font-weight="bold" font-style="normal" fill="#111">PBS Injected</text>
<text x="258.9" y="221.4" font-size="9.35" text-anchor="start" font-weight="bold" font-style="normal" fill="#111">EBV</text>
<text x="281" y="223.7" font-size="5.2" text-anchor="start" font-weight="normal" font-style="normal" fill="#111" textLength="32.7" lengthAdjust="spacingAndGlyphs">70 viral particles</text>
<text x="284.9" y="232.6" font-size="9.35" text-anchor="middle" font-weight="bold" font-style="normal" fill="#111">Injected</text>
<rect x="14.4" y="235.8" width="71" height="273" fill="none" stroke="#a0a0a0" stroke-width="0.9"/>
<path d="M14.4 253.4H85.4M14.4 262.21H85.4M14.4 271.01H85.4M14.4 279.82H85.4M14.4 288.63H85.4M14.4 297.43H85.4M14.4 306.24H85.4M14.4 315.05H85.4M14.4 323.86H85.4M14.4 332.66H85.4M14.4 341.47H85.4M14.4 350.28H85.4M14.4 359.08H85.4M14.4 367.89H85.4M14.4 376.7H85.4M14.4 385.5H85.4M14.4 394.31H85.4M14.4 403.12H85.4M14.4 411.92H85.4M14.4 420.73H85.4M14.4 429.54H85.4M14.4 438.34H85.4M14.4 447.15H85.4M14.4 455.96H85.4M14.4 464.77H85.4M14.4 473.57H85.4M14.4 482.38H85.4M14.4 491.19H85.4M14.4 499.99H85.4M14.4 508.8H85.4" stroke="#444" stroke-width="1.0" fill="none"/>
<path d="M14.4 253.4V252.68H15.12V252.82H15.83V252.08H16.55V250.2H17.27V252.04H17.99V250.74H18.7V253.4ZM19.42 253.4V248.85H20.14V252.85H20.85V252.17H21.57V249.93H22.29V253.4ZM23.01 253.4V252.8H23.72V252.66H24.44V253.4ZM25.16 253.4V252.74H25.87V249.01H26.59V251.77H27.31V252.63H28.03V252.82H28.74V249.25H29.46V249.9H30.18V252.88H30.89V253.05H31.61V249.5H32.33V252.67H33.05V252.65H33.76V248.76H34.48V253.4ZM35.2 253.4V250.32H35.92V250.08H36.63V251.87H37.35V252.66H38.07V253.4ZM39.5 253.4V252.53H40.22V250.38H40.94V249H41.65V248.53H42.37V248.55H43.09V252.98H43.8V253.19H44.52V253.4ZM45.24 253.4V250.52H45.96V253.4ZM46.67 253.4V248.81H47.39V253.2H48.11V253.4ZM48.82 253.4V252.04H49.54V250.54H50.26V253.4ZM51.69 253.4V252.18H52.41V253.4ZM53.84 253.4V251.89H54.56V252.05H55.28V252.55H56V253.4ZM56.71 253.4V249.1H57.43V251.66H58.15V252.56H58.86V246.79H59.58V246.89H60.3V246.83H61.02V246.88H61.73V247.03H62.45V246.86H63.17V246.94H63.88V247.02H64.6V246.86H65.32V246.94H66.04V247H66.75V246.97H67.47V246.71H68.19V246.89H68.91V246.9H69.62V252.2H70.34V248.56H71.06V253.4ZM71.77 253.4V248.85H72.49V249.81H73.21V251.7H73.93V252.63H74.64V247.98H75.36V248.24H76.08V249.37H76.79V251.8H77.51V247.75H78.23V253.4ZM78.95 253.4V253.03H79.66V253.4ZM80.38 253.4V252.9H81.1V252.99H81.81V252.93H82.53V250.17H83.25V249.1H83.97V253.12H84.68V253.04H85.4V253.4ZM14.4 262.21V256.23H15.12V262.21ZM16.55 262.21V257.78H17.27V261.14H17.99V262.21ZM18.7 262.21V255.97H19.42V255.6H20.14V256.69H20.85V260.96H21.57V258.27H22.29V256.73H23.01V259.98H23.72V255.75H24.44V261.93H25.16V256.53H25.87V262.21ZM26.59 262.21V256.8H27.31V256.8H28.03V258.18H28.74V257.77H29.46V260.45H30.18V255.75H30.89V255.78H31.61V255.72H32.33V255.64H33.05V255.72H33.76V255.81H34.48V255.72H35.2V255.59H35.92V255.62H36.63V255.56H37.35V255.61H38.07V255.83H38.78V255.84H39.5V255.67H40.22V255.58H40.94V255.57H41.65V255.63H42.37V255.61H43.09V255.71H43.8V255.68H44.52V255.62H45.24V255.54H45.96V255.72H46.67V255.52H47.39V255.77H48.11V255.76H48.82V255.56H49.54V255.79H50.26V255.68H50.98V255.63H51.69V255.79H52.41V255.7H53.13V255.74H53.84V255.82H54.56V255.65H55.28V255.79H56V255.59H56.71V255.57H57.43V255.74H58.15V255.83H58.86V255.54H59.58V255.6H60.3V255.78H61.02V255.7H61.73V255.78H62.45V255.63H63.17V255.54H63.88V255.51H64.6V255.64H65.32V255.58H66.04V255.55H66.75V255.7H67.47V255.64H68.19V255.54H68.91V255.63H69.62V262.21ZM70.34 262.21V255.99H71.06V258.29H71.77V257.11H72.49V256.53H73.21V262.21ZM73.93 262.21V256.1H74.64V262.21ZM75.36 262.21V261.83H76.08V262.21ZM77.51 262.21V256.65H78.23V260.81H78.95V261.09H79.66V261.62H80.38V257.11H81.1V262.21ZM81.81 262.21V256.35H82.53V258H83.25V261.53H83.97V257.86H84.68V256.53H85.4V262.21ZM14.4 271.01V270.36H15.12V269.98H15.83V267.49H16.55V264.39H17.27V271.01ZM18.7 271.01V269.34H19.42V271.01ZM20.14 271.01V269.86H20.85V265.21H21.57V265.42H22.29V265.46H23.01V265.71H23.72V270.72H24.44V266.29H25.16V265.1H25.87V266.4H26.59V267.32H27.31V264.8H28.03V264.49H28.74V270.59H29.46V270.76H30.18V264.62H30.89V264.44H31.61V264.41H32.33V264.32H33.05V264.61H33.76V264.44H34.48V264.35H35.2V264.45H35.92V264.54H36.63V264.33H37.35V265.5H38.07V264.63H38.78V264.53H39.5V264.61H40.22V264.46H40.94V264.65H41.65V264.47H42.37V264.53H43.09V264.49H43.8V264.48H44.52V264.38H45.24V264.42H45.96V264.4H46.67V264.52H47.39V264.35H48.11V264.52H48.82V264.46H49.54V264.63H50.26V264.39H50.98V264.61H51.69V264.35H52.41V264.64H53.13V264.56H53.84V264.42H54.56V264.65H55.28V264.38H56V264.49H56.71V264.54H57.43V264.42H58.15V264.41H58.86V264.49H59.58V264.32H60.3V264.45H61.02V264.55H61.73V264.63H62.45V264.42H63.17V264.54H63.88V264.46H64.6V264.49H65.32V264.57H66.04V264.34H66.75V264.64H67.47V264.62H68.19V264.49H68.91V264.42H69.62V265.34H70.34V268.89H71.06V270.5H71.77V270.5H72.49V270.53H73.21V265.09H73.93V264.59H74.64V270.29H75.36V265.41H76.08V270.3H76.79V266.61H77.51V265.51H78.23V267.34H78.95V264.88H79.66V268.98H80.38V266.93H81.1V265.05H81.81V265.23H82.53V271.01ZM83.97 271.01V266H84.68V266.14H85.4V271.01ZM14.4 279.82V279.4H15.12V278.85H15.83V279.82ZM16.55 279.82V277.65H17.27V279.42H17.99V278.44H18.7V279.82ZM19.42 279.82V274.98H20.14V278.91H20.85V275.67H21.57V277.73H22.29V279.82ZM23.01 279.82V274.47H23.72V275.29H24.44V273.17H25.16V279.82ZM25.87 279.82V273.72H26.59V275.7H27.31V273.61H28.03V277.98H28.74V279.49H29.46V278.2H30.18V273.32H30.89V273.29H31.61V273.39H32.33V273.37H33.05V273.14H33.76V273.29H34.48V273.13H35.2V273.24H35.92V273.41H36.63V273.14H37.35V273.14H38.07V273.29H38.78V273.25H39.5V274.89H40.22V273.42H40.94V276.26H41.65V273.26H42.37V273.45H43.09V273.2H43.8V273.34H44.52V273.35H45.24V273.19H45.96V273.3H46.67V273.25H47.39V273.31H48.11V273.12H48.82V273.32H49.54V273.17H50.26V273.16H50.98V273.33H51.69V273.15H52.41V273.4H53.13V273.27H53.84V273.45H54.56V273.42H55.28V273.36H56V273.32H56.71V273.26H57.43V273.4H58.15V273.27H58.86V273.26H59.58V273.17H60.3V273.26H61.02V273.38H61.73V273.38H62.45V273.15H63.17V273.19H63.88V273.27H64.6V273.37H65.32V273.4H66.04V273.3H66.75V273.45H67.47V273.33H68.19V273.19H68.91V273.23H69.62V279.06H70.34V273.6H71.06V275.25H71.77V273.25H72.49V279.18H73.21V278.72H73.93V276.42H74.64V278.88H75.36V279.16H76.08V277.98H76.79V274.48H77.51V276.02H78.23V277.59H78.95V279.82ZM79.66 279.82V274.12H80.38V279.82ZM81.1 279.82V279.3H81.81V277.83H82.53V275.26H83.25V274.64H83.97V277.71H84.68V278.78H85.4V279.82ZM14.4 288.63V282.18H15.12V284.02H15.83V283.86H16.55V287.88H17.27V287.76H17.99V283.95H18.7V287.54H19.42V284.25H20.14V283.21H20.85V284.27H21.57V282.8H22.29V285.09H23.01V283.09H23.72V283.24H24.44V287.15H25.16V283.06H25.87V288.1H26.59V284.82H27.31V283.89H28.03V282.34H28.74V288H29.46V288.4H30.18V281.95H30.89V282.16H31.61V282.16H32.33V282.04H33.05V282.14H33.76V282.24H34.48V282.17H35.2V282.26H35.92V281.98H36.63V282.14H37.35V282.07H38.07V282.09H38.78V282.07H39.5V281.95H40.22V282.01H40.94V282H41.65V282.02H42.37V282.25H43.09V282.11H43.8V282.25H44.52V282.15H45.24V281.97H45.96V282.15H46.67V281.95H47.39V282.19H48.11V284.73H48.82V282.25H49.54V282.24H50.26V282.11H50.98V282.25H51.69V282.23H52.41V281.94H53.13V282.09H53.84V281.97H54.56V282.04H55.28V282.14H56V282.24H56.71V283.56H57.43V282.13H58.15V282.25H58.86V281.94H59.58V282.06H60.3V282.14H61.02V282.15H61.73V282.12H62.45V282.07H63.17V282.11H63.88V282.19H64.6V282.06H65.32V281.93H66.04V282.2H66.75V282.12H67.47V282.1H68.19V282.13H68.91V282.23H69.62V284.81H70.34V283.92H71.06V288.32H71.77V288.63ZM72.49 288.63V282.14H73.21V282.08H73.93V288.63ZM74.64 288.63V282.73H75.36V283.51H76.08V282.36H76.79V288.38H77.51V282.84H78.23V283.08H78.95V282.49H79.66V282.32H80.38V282.65H81.1V284.68H81.81V287.08H82.53V283.96H83.25V283.21H83.97V288.63ZM84.68 288.63V284.31H85.4V288.63ZM14.4 297.43V292.62H15.12V291.04H15.83V293.79H16.55V291.41H17.27V290.99H17.99V297.43ZM18.7 297.43V292.36H19.42V292.5H20.14V297.43ZM20.85 297.43V293.95H21.57V293.58H22.29V291.12H23.01V294.04H23.72V290.92H24.44V296.51H25.16V291.78H25.87V296.45H26.59V291.61H27.31V292.04H28.03V293.41H28.74V295.51H29.46V295.91H30.18V290.96H30.89V290.77H31.61V290.84H32.33V290.96H33.05V290.85H33.76V290.77H34.48V290.86H35.2V290.74H35.92V290.92H36.63V290.88H37.35V290.92H38.07V290.88H38.78V290.94H39.5V290.75H40.22V290.74H40.94V290.85H41.65V290.85H42.37V290.91H43.09V290.93H43.8V293.89H44.52V290.91H45.24V290.87H45.96V290.78H46.67V290.78H47.39V290.75H48.11V291.04H48.82V290.87H49.54V290.84H50.26V291.06H50.98V290.82H51.69V290.93H52.41V290.91H53.13V290.97H53.84V290.95H54.56V290.9H55.28V291.01H56V290.93H56.71V290.83H57.43V290.95H58.15V290.91H58.86V290.85H59.58V290.94H60.3V290.95H61.02V290.87H61.73V291.04H62.45V290.75H63.17V290.86H63.88V290.87H64.6V290.86H65.32V290.83H66.04V290.98H66.75V291H67.47V290.91H68.19V290.96H68.91V290.89H69.62V293.59H70.34V291.67H71.06V293.7H71.77V295.22H72.49V293.64H73.21V297.1H73.93V295.25H74.64V293.47H75.36V296.89H76.08V291.87H76.79V291.49H77.51V297.17H78.23V296.55H78.95V292.37H79.66V295.47H80.38V297.43ZM81.1 297.43V292.43H81.81V296.3H82.53V296.97H83.25V291.15H83.97V291.96H84.68V295.82H85.4V297.43ZM14.4 306.24V304.55H15.12V302.07H15.83V299.81H16.55V302.13H17.27V300.31H17.99V301.36H18.7V304.04H19.42V301.73H20.14V304.99H20.85V306.03H21.57V299.99H22.29V302.41H23.01V302.39H23.72V299.71H24.44V304.73H25.16V302.8H25.87V299.68H26.59V302.34H27.31V306.24ZM28.03 306.24V305.79H28.74V306.24ZM29.46 306.24V301.47H30.18V299.73H30.89V299.83H31.61V299.65H32.33V299.61H33.05V303.59H33.76V299.76H34.48V299.58H35.2V299.75H35.92V299.62H36.63V299.68H37.35V299.69H38.07V299.62H38.78V299.75H39.5V299.6H40.22V299.84H40.94V299.68H41.65V299.71H42.37V299.78H43.09V299.61H43.8V299.56H44.52V299.7H45.24V299.82H45.96V299.67H46.67V299.64H47.39V299.76H48.11V299.8H48.82V299.86H49.54V299.62H50.26V299.72H50.98V299.62H51.69V299.82H52.41V302.79H53.13V299.76H53.84V299.73H54.56V299.68H55.28V299.55H56V299.78H56.71V299.67H57.43V302.49H58.15V299.77H58.86V299.58H59.58V299.64H60.3V299.7H61.02V299.81H61.73V299.67H62.45V299.61H63.17V299.79H63.88V299.63H64.6V299.56H65.32V299.69H66.04V299.81H66.75V299.77H67.47V299.82H68.19V299.7H68.91V299.82H69.62V302.4H70.34V302.01H71.06V302.85H71.77V303.98H72.49V305.72H73.21V302.22H73.93V306.04H74.64V301.17H75.36V306.03H76.08V299.58H76.79V302.15H77.51V305.45H78.23V305.18H78.95V305.72H79.66V300.02H80.38V300.13H81.1V301.99H81.81V302.68H82.53V306.24ZM83.25 306.24V301.81H83.97V306.24ZM84.68 306.24V301.61H85.4V306.24ZM14.4 315.05V311.19H15.12V310.34H15.83V313.72H16.55V310.02H17.27V309.94H17.99V313.78H18.7V308.83H19.42V309.97H20.14V311.61H20.85V313.27H21.57V309.32H22.29V310.19H23.01V313.45H23.72V313.18H24.44V308.53H25.16V311.41H25.87V314.58H26.59V309.65H27.31V309.57H28.03V314.82H28.74V313.2H29.46V315.05ZM30.18 315.05V308.61H30.89V308.43H31.61V308.43H32.33V308.47H33.05V308.48H33.76V308.67H34.48V310.61H35.2V308.59H35.92V308.4H36.63V308.5H37.35V308.4H38.07V308.49H38.78V308.61H39.5V308.59H40.22V308.39H40.94V308.61H41.65V308.6H42.37V308.68H43.09V308.65H43.8V308.43H44.52V308.66H45.24V308.65H45.96V308.39H46.67V308.51H47.39V308.47H48.11V308.51H48.82V309.67H49.54V308.64H50.26V308.56H50.98V308.37H51.69V308.45H52.41V308.54H53.13V308.57H53.84V308.36H54.56V308.64H55.28V308.63H56V308.66H56.71V308.49H57.43V308.63H58.15V308.45H58.86V308.48H59.58V308.5H60.3V308.37H61.02V308.51H61.73V308.57H62.45V308.6H63.17V308.6H63.88V308.66H64.6V308.55H65.32V308.47H66.04V308.35H66.75V308.64H67.47V308.65H68.19V308.58H68.91V308.68H69.62V314.32H70.34V310.6H71.06V310.17H71.77V313.39H72.49V310.27H73.21V315.05ZM73.93 315.05V314.02H74.64V309.39H75.36V314.33H76.08V310.76H76.79V310.38H77.51V309.29H78.23V310.25H78.95V314.79H79.66V311.35H80.38V310.2H81.1V311.44H81.81V309.54H82.53V312.8H83.25V313.87H83.97V309.68H84.68V311.62H85.4V315.05ZM14.4 323.86V319.17H15.12V319.78H15.83V322.55H16.55V319.59H17.27V319.62H17.99V320H18.7V320.37H19.42V322.5H20.14V317.3H20.85V321.89H21.57V317.68H22.29V317.19H23.01V323.86ZM23.72 323.86V319.39H24.44V322.06H25.16V319.87H25.87V323.37H26.59V318.5H27.31V323.38H28.03V319.18H28.74V322.25H29.46V317.3H30.18V319.69H30.89V317.35H31.61V317.28H32.33V317.47H33.05V317.33H33.76V317.29H34.48V317.27H35.2V317.28H35.92V317.46H36.63V317.16H37.35V317.48H38.07V317.36H38.78V321.98H39.5V317.32H40.22V317.45H40.94V317.48H41.65V317.22H42.37V317.34H43.09V317.26H43.8V317.43H44.52V317.2H45.24V317.16H45.96V317.26H46.67V317.43H47.39V317.44H48.11V321.16H48.82V317.33H49.54V319.85H50.26V321.84H50.98V317.32H51.69V320.67H52.41V317.44H53.13V317.41H53.84V317.23H54.56V317.28H55.28V317.42H56V317.36H56.71V317.48H57.43V317.24H58.15V317.35H58.86V317.47H59.58V317.33H60.3V317.44H61.02V317.35H61.73V317.36H62.45V317.38H63.17V321.6H63.88V317.21H64.6V317.25H65.32V317.47H66.04V317.39H66.75V317.3H67.47V317.46H68.19V317.17H68.91V317.45H69.62V319.42H70.34V317.5H71.06V318.43H71.77V318.68H72.49V318.87H73.21V319.79H73.93V319.1H74.64V318.51H75.36V323.22H76.08V318.34H76.79V322.83H77.51V319.57H78.23V318.18H78.95V319.81H79.66V323.86ZM80.38 323.86V321.8H81.1V323.86ZM81.81 323.86V319.23H82.53V319.85H83.25V323.44H83.97V319.57H84.68V323.49H85.4V323.86ZM15.12 332.66V332.39H15.83V326.39H16.55V326.64H17.27V326.12H17.99V328.36H18.7V326.74H19.42V332.66ZM20.14 332.66V331.6H20.85V327.77H21.57V326.61H22.29V327.41H23.01V331.12H23.72V327.23H24.44V326.37H25.16V327.54H25.87V328.67H26.59V326.38H27.31V326.66H28.03V327.98H28.74V327.18H29.46V328.24H30.18V326.02H30.89V326.15H31.61V326H32.33V326.2H33.05V326.29H33.76V326.23H34.48V326.28H35.2V326.16H35.92V326.01H36.63V326.08H37.35V326.02H38.07V326.02H38.78V326.11H39.5V326H40.22V326.17H40.94V325.99H41.65V330.72H42.37V326.28H43.09V326.14H43.8V326.03H44.52V325.98H45.24V326.14H45.96V326.3H46.67V326.22H47.39V326.01H48.11V330.72H48.82V326.29H49.54V326.16H50.26V328.34H50.98V326.06H51.69V326.1H52.41V326.03H53.13V326.26H53.84V326.07H54.56V326.15H55.28V326.24H56V325.97H56.71V326.15H57.43V326.28H58.15V326.23H58.86V326.14H59.58V326.26H60.3V326.19H61.02V326.04H61.73V326.25H62.45V326.01H63.17V326.13H63.88V326.03H64.6V326.12H65.32V326.04H66.04V326.27H66.75V326.09H67.47V326.15H68.19V326.21H68.91V326.1H69.62V331.4H70.34V326.87H71.06V326.8H71.77V331.79H72.49V331.9H73.21V328.55H73.93V326.54H74.64V330.42H75.36V328.29H76.08V332.66ZM78.23 332.66V326.83H78.95V328.23H79.66V328.6H80.38V331.84H81.1V328.22H81.81V331.97H82.53V328.02H83.25V327.5H83.97V328.64H84.68V327.8H85.4V332.66ZM14.4 341.47V336.34H15.12V340.35H15.83V337.23H16.55V340.22H17.27V341.47ZM17.99 341.47V341.05H18.7V335.39H19.42V335.75H20.14V337.97H20.85V339.84H21.57V341.14H22.29V340.13H23.01V339.75H23.72V340.63H24.44V341.08H25.16V341.47ZM25.87 341.47V339.98H26.59V340.6H27.31V341.47ZM28.03 341.47V336.47H28.74V341.47ZM29.46 341.47V341.19H30.18V338.53H30.89V339.59H31.61V334.78H32.33V335.05H33.05V335.1H33.76V334.9H34.48V334.78H35.2V334.87H35.92V334.78H36.63V336.33H37.35V338.6H38.07V335.05H38.78V334.92H39.5V335.04H40.22V336.11H40.94V334.93H41.65V334.95H42.37V334.87H43.09V339.23H43.8V335H44.52V337.77H45.24V334.94H45.96V337.61H46.67V339.35H47.39V334.84H48.11V334.99H48.82V334.8H49.54V334.81H50.26V334.97H50.98V336.76H51.69V334.96H52.41V334.95H53.13V334.95H53.84V337.74H54.56V334.94H55.28V334.87H56V334.78H56.71V335.06H57.43V335.07H58.15V334.94H58.86V335.07H59.58V335.09H60.3V334.91H61.02V335.01H61.73V334.98H62.45V334.82H63.17V334.95H63.88V335.1H64.6V334.89H65.32V335H66.04V334.9H66.75V335H67.47V334.98H68.19V334.82H68.91V334.95H69.62V337.66H70.34V336.05H71.06V339.78H71.77V340.16H72.49V339.58H73.21V340.08H73.93V337.91H74.64V337.25H75.36V341.09H76.08V341H76.79V337.62H77.51V335.27H78.23V336.93H78.95V336.37H79.66V341.03H80.38V340.17H81.1V337.71H81.81V336.99H82.53V340.04H83.25V335.97H83.97V334.95H84.68V341.21H85.4V341.47ZM14.4 350.28V346.53H15.12V345.24H15.83V344.61H16.55V345.41H17.27V345.17H17.99V343.86H18.7V349.92H19.42V349.88H20.14V343.6H20.85V346.05H21.57V344.49H22.29V345.96H23.01V346.1H23.72V346.61H24.44V343.62H25.16V346.84H25.87V344.89H26.59V349.78H27.31V350.28ZM28.03 350.28V344.32H28.74V348.25H29.46V344.4H30.18V343.86H30.89V343.67H31.61V343.7H32.33V343.77H33.05V343.68H33.76V348.53H34.48V343.86H35.2V344.67H35.92V343.63H36.63V343.79H37.35V343.77H38.07V343.84H38.78V343.74H39.5V343.72H40.22V343.86H40.94V343.85H41.65V343.82H42.37V343.76H43.09V343.79H43.8V343.83H44.52V343.6H45.24V343.59H45.96V348.58H46.67V343.89H47.39V343.68H48.11V343.8H48.82V343.67H49.54V343.88H50.26V343.86H50.98V343.59H51.69V347.52H52.41V345.38H53.13V343.84H53.84V343.75H54.56V343.81H55.28V343.71H56V343.6H56.71V343.85H57.43V345.25H58.15V343.9H58.86V343.88H59.58V343.84H60.3V343.76H61.02V343.68H61.73V343.74H62.45V348.45H63.17V343.81H63.88V343.77H64.6V343.88H65.32V343.86H66.04V343.76H66.75V343.81H67.47V343.77H68.19V343.71H68.91V343.74H69.62V350.28ZM70.34 350.28V344.54H71.06V343.84H71.77V349.02H72.49V350.28ZM73.21 350.28V343.96H73.93V349.07H74.64V345.09H75.36V350.28ZM76.08 350.28V346.25H76.79V348.91H77.51V349H78.23V350.28ZM78.95 350.28V349.9H79.66V350.28ZM81.1 350.28V349.93H81.81V350.28ZM82.53 350.28V348.57H83.25V349.54H83.97V346.7H84.68V348.02H85.4V350.28ZM14.4 359.08V356.88H15.12V354.39H15.83V358.23H16.55V353.6H17.27V357.66H17.99V352.59H18.7V358.84H19.42V357.79H20.14V355.23H20.85V357.06H21.57V358.57H22.29V357.85H23.01V359.08ZM23.72 359.08V353.2H24.44V353.38H25.16V359.08ZM25.87 359.08V353.19H26.59V354.5H27.31V359.08ZM28.03 359.08V357.24H28.74V358.29H29.46V357.34H30.18V352.62H30.89V352.52H31.61V352.5H32.33V352.54H33.05V352.53H33.76V352.63H34.48V354.16H35.2V352.45H35.92V357.16H36.63V352.66H37.35V352.63H38.07V352.67H38.78V352.48H39.5V352.57H40.22V352.49H40.94V352.53H41.65V352.46H42.37V352.55H43.09V352.58H43.8V352.6H44.52V353.64H45.24V352.45H45.96V352.65H46.67V355.91H47.39V352.52H48.11V355.96H48.82V352.67H49.54V352.51H50.26V352.44H50.98V352.54H51.69V352.62H52.41V352.71H53.13V352.7H53.84V352.48H54.56V352.47H55.28V352.39H56V352.46H56.71V352.48H57.43V352.62H58.15V352.57H58.86V352.69H59.58V352.43H60.3V352.39H61.02V352.56H61.73V352.53H62.45V352.42H63.17V352.47H63.88V352.62H64.6V352.58H65.32V352.63H66.04V352.39H66.75V352.55H67.47V352.56H68.19V352.43H68.91V352.59H69.62V359.08ZM70.34 359.08V357.39H71.06V356.88H71.77V353.93H72.49V358.73H73.21V352.62H73.93V359.08ZM75.36 359.08V353.11H76.08V359.08ZM76.79 359.08V353.03H77.51V353.07H78.23V353.06H78.95V359.08ZM79.66 359.08V358.8H80.38V354.8H81.1V358.2H81.81V356.97H82.53V358.86H83.25V355.39H83.97V359.08ZM84.68 359.08V358.56H85.4V359.08ZM15.12 367.89V363.82H15.83V366.2H16.55V363.77H17.27V363.77H17.99V361.28H18.7V362.15H19.42V361.44H20.14V367.89ZM20.85 367.89V361.41H21.57V367.41H22.29V366.85H23.01V363.31H23.72V361.38H24.44V366.22H25.16V364.4H25.87V367.14H26.59V364.22H27.31V363.43H28.03V366.64H28.74V367.62H29.46V364.37H30.18V361.23H30.89V361.26H31.61V361.45H32.33V365.28H33.05V361.23H33.76V361.21H34.48V364.52H35.2V361.24H35.92V361.44H36.63V361.47H37.35V361.34H38.07V365.87H38.78V361.47H39.5V361.4H40.22V361.51H40.94V361.5H41.65V361.25H42.37V361.45H43.09V361.35H43.8V361.45H44.52V361.52H45.24V362.66H45.96V363.07H46.67V364.75H47.39V361.45H48.11V361.41H48.82V361.2H49.54V361.5H50.26V362.72H50.98V362.95H51.69V361.43H52.41V361.5H53.13V361.35H53.84V361.27H54.56V361.32H55.28V361.43H56V361.36H56.71V361.29H57.43V361.44H58.15V361.38H58.86V361.4H59.58V361.22H60.3V361.38H61.02V361.42H61.73V361.52H62.45V361.48H63.17V361.23H63.88V361.51H64.6V361.46H65.32V361.37H66.04V361.4H66.75V361.45H67.47V361.3H68.19V361.27H68.91V361.42H69.62V366.42H70.34V367.89ZM72.49 367.89V363.02H73.21V367.89ZM73.93 367.89V365.57H74.64V367.89ZM76.08 367.89V365.89H76.79V362.76H77.51V367.42H78.23V367.89ZM78.95 367.89V366.66H79.66V361.37H80.38V367.68H81.1V367.62H81.81V367.22H82.53V367.26H83.25V366.96H83.97V366.74H84.68V363.77H85.4V367.89ZM14.4 376.7V371.25H15.12V371.23H15.83V372.68H16.55V372.5H17.27V376.7ZM17.99 376.7V374.99H18.7V376.48H19.42V375.43H20.14V376.13H20.85V371.18H21.57V372.3H22.29V372.19H23.01V372.59H23.72V370.72H24.44V370.78H25.16V372.39H25.87V372.26H26.59V376.25H27.31V375.71H28.03V376.7ZM29.46 376.7V375.47H30.18V370.25H30.89V370.27H31.61V374.54H32.33V370.28H33.05V370.12H33.76V370.32H34.48V370.15H35.2V370.32H35.92V370.31H36.63V370.26H37.35V370.04H38.07V370.25H38.78V370.15H39.5V370.02H40.22V373.44H40.94V370.32H41.65V370.06H42.37V372.43H43.09V370.2H43.8V370.1H44.52V372.3H45.24V370.02H45.96V370.05H46.67V370.27H47.39V370.23H48.11V371.79H48.82V370H49.54V370.05H50.26V370.33H50.98V370.07H51.69V370.31H52.41V370.23H53.13V370.08H53.84V370.14H54.56V370.24H55.28V370.08H56V370.19H56.71V370.24H57.43V370.11H58.15V370.26H58.86V370.14H59.58V370.07H60.3V370.14H61.02V370.29H61.73V370.19H62.45V370.18H63.17V370.29H63.88V370.12H64.6V370.01H65.32V370.1H66.04V370.12H66.75V370.27H67.47V370.22H68.19V370.29H68.91V370.07H69.62V374.85H70.34V375.14H71.06V374.91H71.77V375.61H72.49V375.69H73.21V371.68H73.93V375.57H74.64V375.63H75.36V374.46H76.08V376.49H76.79V376.7ZM77.51 376.7V373.07H78.23V376.7ZM78.95 376.7V375.84H79.66V376.41H80.38V376.7ZM81.1 376.7V375.23H81.81V375.42H82.53V374.79H83.25V374.49H83.97V372.64H84.68V376.7ZM14.4 385.5V379.46H15.12V384.09H15.83V380.14H16.55V384.42H17.27V384.68H17.99V381.06H18.7V381.63H19.42V384.31H20.14V379.91H20.85V379.94H21.57V384.42H22.29V385.5ZM23.01 385.5V380.88H23.72V380.47H24.44V381.02H25.16V381.85H25.87V384.26H26.59V383.77H27.31V380.77H28.03V379.22H28.74V378.91H29.46V385.5ZM30.18 385.5V379.1H30.89V379.01H31.61V382.44H32.33V378.82H33.05V379.03H33.76V378.87H34.48V379.14H35.2V378.9H35.92V382.69H36.63V379.11H37.35V379.03H38.07V380.83H38.78V379.1H39.5V378.83H40.22V379.08H40.94V378.9H41.65V378.97H42.37V378.9H43.09V379.11H43.8V380.82H44.52V378.83H45.24V379.06H45.96V383.26H46.67V378.92H47.39V379.02H48.11V379.04H48.82V378.87H49.54V378.87H50.26V379.95H50.98V379.11H51.69V378.88H52.41V379.89H53.13V379.13H53.84V379.06H54.56V378.92H55.28V379.13H56V379.11H56.71V378.96H57.43V379.13H58.15V378.99H58.86V378.86H59.58V378.93H60.3V378.91H61.02V379.06H61.73V378.99H62.45V378.82H63.17V381.64H63.88V379.09H64.6V378.98H65.32V379.06H66.04V379.12H66.75V379.14H67.47V378.86H68.19V379H68.91V378.99H69.62V384.58H70.34V379.21H71.06V384.71H71.77V383.69H72.49V385.04H73.21V382.05H73.93V380.6H74.64V384.52H75.36V384.53H76.08V378.95H76.79V383.41H77.51V381.22H78.23V381.1H78.95V381.97H79.66V385.5ZM80.38 385.5V384.06H81.1V379.05H81.81V385.5ZM82.53 385.5V383.9H83.25V384.74H83.97V378.86H84.68V379.85H85.4V385.5ZM14.4 394.31V387.84H15.12V388.04H15.83V394.1H16.55V387.8H17.27V393.84H17.99V390.28H18.7V388.77H19.42V389.16H20.14V388.62H20.85V392.83H21.57V394.31ZM22.29 394.31V389.09H23.01V394.31ZM23.72 394.31V390.44H24.44V390.25H25.16V390.28H25.87V389.57H26.59V388.58H27.31V393.72H28.03V393.05H28.74V390.51H29.46V393.74H30.18V387.79H30.89V387.74H31.61V391.36H32.33V387.69H33.05V387.79H33.76V387.71H34.48V387.65H35.2V388.81H35.92V387.94H36.63V392.35H37.35V387.75H38.07V388.87H38.78V387.9H39.5V387.78H40.22V391.42H40.94V387.91H41.65V387.74H42.37V392.23H43.09V387.79H43.8V387.82H44.52V388.83H45.24V387.62H45.96V392.11H46.67V387.67H47.39V392.62H48.11V387.87H48.82V387.91H49.54V387.94H50.26V387.62H50.98V387.91H51.69V387.84H52.41V387.79H53.13V387.88H53.84V387.9H54.56V387.7H55.28V387.77H56V387.81H56.71V387.75H57.43V387.86H58.15V387.88H58.86V387.7H59.58V387.81H60.3V387.91H61.02V387.71H61.73V387.87H62.45V387.69H63.17V387.87H63.88V387.71H64.6V387.94H65.32V387.75H66.04V387.72H66.75V387.93H67.47V387.79H68.19V387.72H68.91V387.93H69.62V393.43H70.34V392.93H71.06V388.9H71.77V387.71H72.49V390.36H73.21V389.11H73.93V394H74.64V387.71H75.36V388.69H76.08V389.09H76.79V394.31ZM77.51 394.31V390.66H78.23V393.06H78.95V394.31ZM79.66 394.31V388.69H80.38V389.9H81.1V392.24H81.81V392.17H82.53V387.97H83.25V390.93H83.97V394.31ZM84.68 394.31V394.03H85.4V394.31ZM14.4 403.12V401.16H15.12V398.13H15.83V400.97H16.55V398.31H17.27V396.96H17.99V399.01H18.7V397.35H19.42V398.72H20.14V403.12ZM20.85 403.12V402.88H21.57V402.91H22.29V402.11H23.01V397.04H23.72V401.76H24.44V403.12ZM25.16 403.12V401.22H25.87V402.43H26.59V399.74H27.31V398.78H28.03V402.44H28.74V401.86H29.46V401.72H30.18V398.39H30.89V403.12ZM31.61 403.12V402.07H32.33V398.43H33.05V397.9H33.76V397H34.48V402.8H35.2V401.54H35.92V399.05H36.63V396.55H37.35V398.03H38.07V397.61H38.78V397.71H39.5V396.79H40.22V397.71H40.94V400.87H41.65V399.48H42.37V397.72H43.09V397.13H43.8V402.44H44.52V398.95H45.24V399.65H45.96V399.03H46.67V402.27H47.39V403.12ZM48.11 403.12V399.67H48.82V396.59H49.54V402.27H50.26V402.74H50.98V401.76H51.69V397.35H52.41V399.25H53.13V397.56H53.84V403.12ZM54.56 403.12V398.09H55.28V400.83H56V397.72H56.71V396.64H57.43V396.45H58.15V396.65H58.86V396.68H59.58V396.67H60.3V396.49H61.02V396.49H61.73V399.69H62.45V399.86H63.17V399.19H63.88V396.68H64.6V396.43H65.32V396.62H66.04V396.7H66.75V399.8H67.47V396.47H68.19V396.56H68.91V399.26H69.62V397.89H70.34V403.12ZM71.06 403.12V402.71H71.77V401.79H72.49V403.12ZM73.21 403.12V402.02H73.93V397.13H74.64V403.12ZM76.08 403.12V402.22H76.79V402.09H77.51V401.84H78.23V402.82H78.95V402.87H79.66V400.92H80.38V403.12ZM81.1 403.12V402.54H81.81V403.12ZM82.53 403.12V397.68H83.25V402.7H83.97V402.08H84.68V403.12ZM14.4 411.92V411.26H15.12V411.92ZM15.83 411.92V411.63H16.55V407.39H17.27V406.84H17.99V411.92ZM18.7 411.92V405.98H19.42V411.72H20.14V406.08H20.85V405.95H21.57V405.29H22.29V409.87H23.01V410.18H23.72V411.92ZM24.44 411.92V410.37H25.16V407.55H25.87V411.55H26.59V410.94H27.31V409.87H28.03V411.92ZM28.74 411.92V409.83H29.46V410.06H30.18V411.3H30.89V406.06H31.61V407.02H32.33V405.84H33.05V407.6H33.76V406.47H34.48V406.84H35.2V405.89H35.92V407.69H36.63V406.96H37.35V408.07H38.07V407.41H38.78V408.22H39.5V411.53H40.22V410.36H40.94V411.92ZM41.65 411.92V405.47H42.37V406.97H43.09V406.8H43.8V405.35H44.52V407.02H45.24V411.23H45.96V405.67H46.67V411.92ZM47.39 411.92V408.3H48.11V411.05H48.82V407.66H49.54V409.77H50.26V405.31H50.98V408.14H51.69V410.6H52.41V410.62H53.13V409.85H53.84V408.39H54.56V410.78H55.28V406.31H56V408.3H56.71V405.41H57.43V405.55H58.15V405.53H58.86V405.55H59.58V405.43H60.3V405.33H61.02V405.49H61.73V405.44H62.45V405.25H63.17V405.23H63.88V405.27H64.6V409.27H65.32V405.31H66.04V405.23H66.75V405.28H67.47V405.31H68.19V405.41H68.91V405.37H69.62V410.85H70.34V411.92ZM71.06 411.92V406.07H71.77V411.71H72.49V411.92ZM74.64 411.92V407.42H75.36V410.14H76.08V411.92ZM76.79 411.92V405.77H77.51V410.14H78.23V411.1H78.95V411.92ZM79.66 411.92V411.25H80.38V406.44H81.1V411.92ZM81.81 411.92V411.27H82.53V411.43H83.25V407.21H83.97V411.28H84.68V406.38H85.4V411.92ZM15.12 420.73V420.29H15.83V419.26H16.55V420.35H17.27V419.87H17.99V419.63H18.7V416.09H19.42V418.73H20.14V419.58H20.85V416.57H21.57V420H22.29V420.73ZM23.01 420.73V415.08H23.72V415.31H24.44V414.3H25.16V416.81H25.87V415.88H26.59V420.38H27.31V420.38H28.03V420.43H28.74V420.73ZM29.46 420.73V419.46H30.18V420.22H30.89V416.7H31.61V414.81H32.33V416.89H33.05V417.36H33.76V414.45H34.48V414.59H35.2V415.2H35.92V419.81H36.63V414.56H37.35V416.51H38.07V415.18H38.78V414.09H39.5V415.21H40.22V414.99H40.94V416.4H41.65V414.04H42.37V420.33H43.09V414.24H43.8V419.03H44.52V415.84H45.24V417.03H45.96V416.16H46.67V416.25H47.39V420.73ZM48.11 420.73V416.86H48.82V416.17H49.54V417.18H50.26V414.44H50.98V419.5H51.69V416.46H52.41V415.52H53.13V420.4H53.84V419.8H54.56V419.61H55.28V420.73ZM56 420.73V415.54H56.71V415.24H57.43V414.32H58.15V414.36H58.86V414.31H59.58V419.04H60.3V414.27H61.02V417.47H61.73V414.33H62.45V418.33H63.17V415.29H63.88V414.24H64.6V418.06H65.32V414.2H66.04V414.33H66.75V414.24H67.47V414.26H68.19V414.25H68.91V418.75H69.62V419.65H70.34V419.41H71.06V415.46H71.77V414.61H72.49V419.35H73.21V416.32H73.93V417.18H74.64V420.17H75.36V416.31H76.08V419.45H76.79V418.69H77.51V420.73ZM80.38 420.73V420.48H81.1V416.16H81.81V420.73ZM82.53 420.73V420.23H83.25V415.12H83.97V420.48H84.68V418.8H85.4V420.73ZM14.4 429.54V427.52H15.12V425.16H15.83V425.31H16.55V425H17.27V429.54ZM17.99 429.54V425.17H18.7V429.28H19.42V429.12H20.14V428.02H20.85V424.79H21.57V424.41H22.29V428.97H23.01V428.65H23.72V424.97H24.44V428.87H25.16V427.24H25.87V428.02H26.59V429.12H27.31V428.9H28.03V424.56H28.74V423.58H29.46V422.93H30.18V427.92H30.89V425.94H31.61V423.88H32.33V424.37H33.05V423.48H33.76V424.28H34.48V424.59H35.2V424.21H35.92V424.75H36.63V424.84H37.35V424.84H38.07V425.77H38.78V422.9H39.5V423.22H40.22V425.39H40.94V424.7H41.65V424.58H42.37V426.17H43.09V425.17H43.8V424.44H44.52V425.44H45.24V425.63H45.96V424.36H46.67V425.76H47.39V429.54ZM48.11 429.54V429.24H48.82V424.94H49.54V423.24H50.26V429.54ZM50.98 429.54V429.09H51.69V425.45H52.41V427.77H53.13V424.56H53.84V425.89H54.56V429.54ZM55.28 429.54V423.85H56V428.81H56.71V425.17H57.43V422.85H58.15V423.11H58.86V422.85H59.58V424.84H60.3V422.99H61.02V422.99H61.73V422.98H62.45V423H63.17V423.01H63.88V423.12H64.6V422.89H65.32V422.88H66.04V423.12H66.75V423.15H67.47V423.14H68.19V423.03H68.91V422.85H69.62V428.96H70.34V428.57H71.06V429.54ZM71.77 429.54V429.01H72.49V429.54ZM73.93 429.54V424.41H74.64V428.68H75.36V428.75H76.08V427.49H76.79V429.14H77.51V425.66H78.23V427.91H78.95V429.54ZM79.66 429.54V425.39H80.38V423.69H81.1V429.54ZM81.81 429.54V425.6H82.53V425.72H83.25V429.08H83.97V429.1H84.68V429.54ZM14.4 438.34V437.59H15.12V434.46H15.83V432.36H16.55V436.85H17.27V433.99H17.99V438.34ZM18.7 438.34V437.36H19.42V433.48H20.14V436.41H20.85V433.62H21.57V434.74H22.29V438.34ZM23.01 438.34V436.29H23.72V436.18H24.44V438.05H25.16V438.34ZM25.87 438.34V431.75H26.59V438.34ZM27.31 438.34V432.18H28.03V438.34ZM28.74 438.34V438.08H29.46V436.84H30.18V431.96H30.89V434.23H31.61V432.6H32.33V432.62H33.05V431.67H33.76V434.53H34.48V432.53H35.2V433.12H35.92V438.34ZM37.35 438.34V437.95H38.07V437.56H38.78V432.01H39.5V436.97H40.22V432.2H40.94V432.36H41.65V433.39H42.37V434.22H43.09V432.52H43.8V432.44H44.52V431.67H45.24V433.84H45.96V434.36H46.67V438.34ZM47.39 438.34V432.15H48.11V437.59H48.82V433.16H49.54V438.34ZM50.98 438.34V437.25H51.69V437.61H52.41V436.96H53.13V437.43H53.84V434.56H54.56V434.9H55.28V436.75H56V433.98H56.71V434.63H57.43V436.28H58.15V431.87H58.86V431.79H59.58V431.9H60.3V431.79H61.02V431.73H61.73V431.73H62.45V431.74H63.17V436.32H63.88V431.77H64.6V431.86H65.32V431.89H66.04V431.74H66.75V431.76H67.47V431.69H68.19V431.96H68.91V431.95H69.62V432.75H70.34V436.26H71.06V438.34ZM71.77 438.34V437.92H72.49V436.11H73.21V433.81H73.93V438.34ZM74.64 438.34V436.8H75.36V432.6H76.08V433.88H76.79V437.31H77.51V432.61H78.23V433.42H78.95V436.21H79.66V436.37H80.38V432.8H81.1V436.96H81.81V437.04H82.53V437.35H83.25V436.89H83.97V438.34ZM84.68 438.34V433.56H85.4V438.34ZM14.4 447.15V445.85H15.12V440.62H15.83V446.69H16.55V447.15ZM17.27 447.15V446.1H17.99V446.23H18.7V447.15ZM19.42 447.15V440.81H20.14V446.33H20.85V445.97H21.57V441.08H22.29V442.81H23.01V445.82H23.72V446.08H24.44V444.86H25.16V440.6H25.87V446.04H26.59V445.87H27.31V446.77H28.03V442.71H28.74V446.24H29.46V446.28H30.18V441.96H30.89V442.95H31.61V442.65H32.33V444.85H33.05V442.16H33.76V446.81H34.48V440.94H35.2V447.15ZM35.92 447.15V441.7H36.63V443.25H37.35V441.22H38.07V440.84H38.78V441.9H39.5V442.41H40.22V443.78H40.94V441.31H41.65V442.74H42.37V446.38H43.09V441.92H43.8V447.15ZM44.52 447.15V443.26H45.24V446.05H45.96V441.43H46.67V443.56H47.39V442.51H48.11V440.5H48.82V442.93H49.54V441.22H50.26V446.28H50.98V440.81H51.69V441.37H52.41V441.19H53.13V443.41H53.84V447.15ZM54.56 447.15V441.11H55.28V442.34H56V441.1H56.71V440.73H57.43V440.54H58.15V440.69H58.86V440.61H59.58V443.53H60.3V443.83H61.02V440.72H61.73V440.47H62.45V440.77H63.17V440.57H63.88V440.79H64.6V440.67H65.32V440.47H66.04V440.58H66.75V440.62H67.47V440.57H68.19V440.53H68.91V440.57H69.62V443.42H70.34V446.84H71.06V446.92H71.77V445.6H72.49V443.4H73.21V446.16H73.93V442.12H74.64V447.15ZM75.36 447.15V445.65H76.08V446.94H76.79V442.7H77.51V446.89H78.23V442.76H78.95V440.78H79.66V446.91H80.38V446.61H81.1V445.05H81.81V446.03H82.53V443.07H83.25V447.15ZM83.97 447.15V446.25H84.68V445.53H85.4V447.15ZM15.12 455.96V450.55H15.83V454.57H16.55V455H17.27V454.71H17.99V455.72H18.7V455.54H19.42V454.39H20.14V455.76H20.85V449.89H21.57V454.55H22.29V455.96ZM25.16 455.96V455.24H25.87V454.28H26.59V455.96ZM27.31 455.96V455.4H28.03V455.6H28.74V450.85H29.46V455.96ZM30.18 455.96V449.31H30.89V450.84H31.61V450.68H32.33V451.72H33.05V454.44H33.76V449.9H34.48V451.58H35.2V449.45H35.92V450.84H36.63V451.16H37.35V453.66H38.07V455.48H38.78V450.73H39.5V449.47H40.22V454.26H40.94V453.88H41.65V454.26H42.37V455.54H43.09V450.23H43.8V454.49H44.52V454.87H45.24V449.55H45.96V452.39H46.67V455.96ZM47.39 455.96V455.69H48.11V454.31H48.82V455.36H49.54V450.9H50.26V454.4H50.98V455.59H51.69V455.41H52.41V455.64H53.13V455.15H53.84V455.51H54.56V450.36H55.28V451.6H56V454.73H56.71V450.67H57.43V451.48H58.15V450.3H58.86V455.71H59.58V452.53H60.3V450.63H61.02V455.29H61.73V449.87H62.45V451.43H63.17V450.19H63.88V454.3H64.6V449.86H65.32V453.98H66.04V449.52H66.75V451.23H67.47V451.84H68.19V449.99H68.91V455H69.62V455.6H70.34V452.54H71.06V455.36H71.77V450.84H72.49V454.8H73.21V454.49H73.93V455.69H74.64V454.33H75.36V453.78H76.08V454.3H76.79V455.96ZM77.51 455.96V455.72H78.23V455.96ZM79.66 455.96V453.68H80.38V455.96ZM81.1 455.96V454.67H81.81V454.92H82.53V455.62H83.25V455.66H83.97V455.96ZM14.4 464.77V463.12H15.12V464.77ZM15.83 464.77V460.98H16.55V462.61H17.27V460.05H17.99V464.44H18.7V463.33H19.42V459.33H20.14V464.23H20.85V462.88H21.57V463.37H22.29V458.3H23.01V464.09H23.72V464.77ZM24.44 464.77V463.35H25.16V463.81H25.87V462.48H26.59V458.8H27.31V464.77ZM28.03 464.77V463.14H28.74V464.77ZM29.46 464.77V464.46H30.18V460.82H30.89V461.2H31.61V461.05H32.33V460.56H33.05V460.09H33.76V464.03H34.48V462.54H35.2V460.94H35.92V458.12H36.63V460.75H37.35V458.58H38.07V458.07H38.78V458.23H39.5V464.53H40.22V463.79H40.94V463.63H41.65V464.03H42.37V460.78H43.09V460.89H43.8V464.77ZM44.52 464.77V460.51H45.24V464.77ZM45.96 464.77V463.47H46.67V464.16H47.39V460.39H48.11V462.77H48.82V459.31H49.54V463.11H50.26V464.19H50.98V464.77ZM51.69 464.77V459.4H52.41V459.96H53.13V458.12H53.84V464.77ZM54.56 464.77V463.95H55.28V460.86H56V464.77ZM56.71 464.77V460.08H57.43V463.8H58.15V459.66H58.86V459.42H59.58V458.31H60.3V460.06H61.02V460.94H61.73V458.71H62.45V464.77ZM63.17 464.77V459.53H63.88V458.13H64.6V461.04H65.32V459.8H66.04V459.62H66.75V459.96H67.47V462.97H68.19V458.38H68.91V458.64H69.62V463.56H70.34V464.35H71.06V464.41H71.77V458.78H72.49V459.65H73.21V462.72H73.93V464.4H74.64V459.64H75.36V462.95H76.08V463.69H76.79V464.1H77.51V458.53H78.23V463.3H78.95V464.56H79.66V461.02H80.38V460.03H81.1V464.26H81.81V463.69H82.53V463.37H83.25V464.77ZM83.97 464.77V464.02H84.68V462.66H85.4V464.77ZM15.12 473.57V467.14H15.83V467.05H16.55V473.57ZM17.27 473.57V472.89H17.99V472.76H18.7V473.14H19.42V471.82H20.14V473.57ZM20.85 473.57V469.26H21.57V473.57ZM23.01 473.57V472.1H23.72V473H24.44V472.71H25.16V473.06H25.87V471.35H26.59V472.03H27.31V469.33H28.03V470.13H28.74V473.06H29.46V472.78H30.18V472.77H30.89V468.8H31.61V467.63H32.33V472.58H33.05V467.35H33.76V467.05H34.48V467.02H35.2V472.69H35.92V473.57ZM36.63 473.57V467.76H37.35V469.96H38.07V467.37H38.78V473.57ZM39.5 473.57V472.73H40.22V467.85H40.94V469.03H41.65V469.51H42.37V471.78H43.09V473.35H43.8V469.64H44.52V471.49H45.24V472.46H45.96V471.54H46.67V468.35H47.39V472.3H48.11V468.62H48.82V473H49.54V471.38H50.26V469.14H50.98V473.22H51.69V471.93H52.41V473.27H53.13V471.86H53.84V467.84H54.56V473.57ZM55.28 473.57V471.99H56V467.99H56.71V473.57ZM57.43 473.57V469.29H58.15V470.18H58.86V469.56H59.58V472.78H60.3V468H61.02V467.3H61.73V468.04H62.45V469.24H63.17V473.16H63.88V467.72H64.6V471.59H65.32V471.95H66.04V468.57H66.75V467.74H67.47V467.78H68.19V469.63H68.91V467.1H69.62V471.85H70.34V468.38H71.06V467.4H71.77V473.03H72.49V472.43H73.21V469.94H73.93V472.98H74.64V470.18H75.36V472.62H76.08V472.63H76.79V471.81H77.51V466.94H78.23V470.17H78.95V469.65H79.66V471.73H80.38V467.37H81.1V473.57ZM81.81 473.57V472.43H82.53V472.31H83.25V473.57ZM83.97 473.57V472.79H84.68V472.53H85.4V473.57ZM14.4 482.38V480.44H15.12V478.37H15.83V476.5H16.55V482.38ZM17.27 482.38V481.3H17.99V478.25H18.7V482.04H19.42V476.79H20.14V480.36H20.85V482.13H21.57V480.31H22.29V481.94H23.01V481.6H23.72V476.33H24.44V477.41H25.16V480.76H25.87V481.48H26.59V481.53H27.31V481.88H28.03V477.34H28.74V478.47H29.46V482.1H30.18V481.56H30.89V481.75H31.61V476.4H32.33V475.91H33.05V482.04H33.76V476.71H34.48V478.81H35.2V477.85H35.92V476.45H36.63V481.21H37.35V476.21H38.07V482.38ZM38.78 482.38V477.49H39.5V478.8H40.22V477.67H40.94V478.39H41.65V475.88H42.37V477.15H43.09V482.38ZM43.8 482.38V476.85H44.52V476.39H45.24V480.38H45.96V478.66H46.67V475.88H47.39V481.58H48.11V477.8H48.82V482.38ZM49.54 482.38V478.89H50.26V476.31H50.98V481.38H51.69V482.38ZM53.84 482.38V477.86H54.56V482.38ZM55.28 482.38V478.25H56V476H56.71V480.25H57.43V476.07H58.15V478.52H58.86V476.16H59.58V477.91H60.3V478.2H61.02V478.66H61.73V476.17H62.45V477.59H63.17V478.01H63.88V477.26H64.6V478.34H65.32V476.54H66.04V478.19H66.75V477.98H67.47V480.26H68.19V482.38ZM69.62 482.38V475.99H70.34V478.53H71.06V478.37H71.77V482.38ZM72.49 482.38V477.81H73.21V482.38ZM73.93 482.38V476.23H74.64V480.18H75.36V480.85H76.08V480.32H76.79V481.54H77.51V482.38ZM78.23 482.38V481.33H78.95V481.78H79.66V476.56H80.38V481.6H81.1V478.59H81.81V475.95H82.53V481.09H83.25V482.38ZM83.97 482.38V476.2H84.68V482.38ZM14.4 491.19V485.06H15.12V490.46H15.83V489.19H16.55V490.88H17.27V489.35H17.99V491.19ZM18.7 491.19V487.6H19.42V485.43H20.14V489.11H20.85V484.97H21.57V487.59H22.29V489.09H23.01V490.72H23.72V485.7H24.44V490.12H25.16V491.19ZM25.87 491.19V489.1H26.59V491.19ZM27.31 491.19V489.21H28.03V489.96H28.74V489.16H29.46V484.93H30.18V487.64H30.89V486.81H31.61V491.19ZM32.33 491.19V490.52H33.05V488.9H33.76V491.19ZM34.48 491.19V486H35.2V489.57H35.92V486.98H36.63V489.56H37.35V491.19ZM38.78 491.19V490.84H39.5V485.67H40.22V489.66H40.94V486.07H41.65V486.89H42.37V489.58H43.09V484.5H43.8V486.05H44.52V485.14H45.24V489.06H45.96V484.53H46.67V486.12H47.39V485.52H48.11V490.14H48.82V491.19ZM49.54 491.19V490.94H50.26V485.73H50.98V485.04H51.69V490.53H52.41V491.19ZM53.13 491.19V490.18H53.84V490.49H54.56V489.55H55.28V489.66H56V490.78H56.71V490.23H57.43V489.79H58.15V485.34H58.86V486.82H59.58V487.57H60.3V484.96H61.02V485.02H61.73V486.45H62.45V484.7H63.17V490.58H63.88V486.15H64.6V486.95H65.32V487.47H66.04V486.97H66.75V485.08H67.47V487.35H68.19V491.19ZM68.91 491.19V487.62H69.62V485.07H70.34V489.32H71.06V490.42H71.77V491.19ZM73.93 491.19V490.85H74.64V490.52H75.36V488.92H76.08V489H76.79V489.98H77.51V488.95H78.23V490.89H78.95V491.19ZM79.66 491.19V490.91H80.38V489.89H81.1V489.52H81.81V491.19ZM82.53 491.19V490.57H83.25V489.9H83.97V490.73H84.68V489.28H85.4V491.19ZM14.4 499.99V497.69H15.12V499.99ZM15.83 499.99V498.83H16.55V499.99ZM17.99 499.99V497.89H18.7V499.99ZM19.42 499.99V499.06H20.14V498.43H20.85V493.34H21.57V495.06H22.29V498.5H23.01V499.99ZM23.72 499.99V498.41H24.44V493.87H25.16V499.99ZM25.87 499.99V493.33H26.59V499.99ZM27.31 499.99V493.57H28.03V494.26H28.74V499.99ZM29.46 499.99V493.38H30.18V493.37H30.89V499.09H31.61V498.93H32.33V499.39H33.05V499.99ZM33.76 499.99V494.7H34.48V495.74H35.2V498.88H35.92V497.69H36.63V495.77H37.35V496.3H38.07V494.85H38.78V494.52H39.5V495.38H40.22V495.44H40.94V499.99ZM41.65 499.99V493.63H42.37V493.81H43.09V498.16H43.8V494.96H44.52V495.79H45.24V499.25H45.96V494.77H46.67V499.17H47.39V499.99ZM48.11 499.99V498.72H48.82V499.79H49.54V499.54H50.26V495.65H50.98V495.41H51.69V496.16H52.41V498.47H53.13V499H53.84V493.8H54.56V499.99ZM55.28 499.99V496.45H56V499.99ZM56.71 499.99V494.09H57.43V498.09H58.15V499.99ZM58.86 499.99V493.84H59.58V499.99ZM61.02 499.99V496.3H61.73V494.95H62.45V496.17H63.17V499.31H63.88V499.65H64.6V497.81H65.32V493.91H66.04V498.78H66.75V495.06H67.47V495.69H68.19V494.8H68.91V494.14H69.62V499.99ZM70.34 499.99V498.79H71.06V499.99ZM71.77 499.99V496.17H72.49V499.99ZM74.64 499.99V497.74H75.36V498.96H76.08V499.99ZM76.79 499.99V499.76H77.51V499.72H78.23V497.96H78.95V499.19H79.66V494.83H80.38V499.34H81.1V498.06H81.81V495.04H82.53V499.99ZM83.25 499.99V493.36H83.97V499.36H84.68V498.36H85.4V499.99ZM16.55 508.8V503.66H17.27V505.42H17.99V508.31H18.7V508.8ZM19.42 508.8V507.74H20.14V508.8ZM20.85 508.8V507.42H21.57V508.28H22.29V505.44H23.01V508.8ZM23.72 508.8V505.4H24.44V508.01H25.16V506.58H25.87V504.86H26.59V508H27.31V508.2H28.03V506.96H28.74V506.91H29.46V507.08H30.18V503.07H30.89V502.9H31.61V503.29H32.33V505.33H33.05V504.62H33.76V507.01H34.48V502.11H35.2V502.83H35.92V502.74H36.63V503.62H37.35V503.55H38.07V503.61H38.78V507.31H39.5V507.12H40.22V502.41H40.94V508.3H41.65V508H42.37V508.8ZM43.09 508.8V503.98H43.8V504.09H44.52V504.44H45.24V503.29H45.96V503.01H46.67V504.62H47.39V502.33H48.11V506.66H48.82V508.8ZM49.54 508.8V507.41H50.26V507.57H50.98V507.96H51.69V508.4H52.41V508.17H53.13V508.39H53.84V503.8H54.56V502.71H55.28V508.38H56V508.36H56.71V503.21H57.43V507.6H58.15V508.51H58.86V508.8ZM59.58 508.8V503.47H60.3V502.61H61.02V504.29H61.73V503.44H62.45V502.66H63.17V502.53H63.88V502.66H64.6V502.66H65.32V503.49H66.04V504.94H66.75V508.8ZM67.47 508.8V505.3H68.19V504.6H68.91V503.81H69.62V508.8ZM70.34 508.8V507.75H71.06V508.8ZM71.77 508.8V507.43H72.49V508.8ZM73.21 508.8V504.74H73.93V508.4H74.64V507.78H75.36V508.37H76.08V508.8ZM76.79 508.8V504.19H77.51V508.44H78.23V504.13H78.95V508.26H79.66V508.8ZM80.38 508.8V506.82H81.1V508.42H81.81V508.35H82.53V507.84H83.25V504.76H83.97V503.89H84.68V506.87H85.4V508.8Z" fill="#2d2d2d"/>
<rect x="90.9" y="236.5" width="72.2" height="272.3" fill="none" stroke="#a0a0a0" stroke-width="0.9"/>
<path d="M90.9 253.5H163.1M90.9 262.3H163.1M90.9 271.11H163.1M90.9 279.91H163.1M90.9 288.71H163.1M90.9 297.52H163.1M90.9 306.32H163.1M90.9 315.12H163.1M90.9 323.93H163.1M90.9 332.73H163.1M90.9 341.53H163.1M90.9 350.34H163.1M90.9 359.14H163.1M90.9 367.94H163.1M90.9 376.75H163.1M90.9 385.55H163.1M90.9 394.36H163.1M90.9 403.16H163.1M90.9 411.96H163.1M90.9 420.77H163.1M90.9 429.57H163.1M90.9 438.37H163.1M90.9 447.18H163.1M90.9 455.98H163.1M90.9 464.78H163.1M90.9 473.59H163.1M90.9 482.39H163.1M90.9 491.19H163.1M90.9 500H163.1M90.9 508.8H163.1" stroke="#444" stroke-width="1.0" fill="none"/>
<path d="M90.9 253.5V248.48H91.62V249.34H92.34V247.18H93.07V249.27H93.79V248.19H94.51V252.03H95.23V249.04H95.95V249.57H96.68V253.29H97.4V252.48H98.12V252.92H98.84V247.65H99.56V252.63H100.29V248.83H101.01V250.07H101.73V249.67H102.45V252.37H103.17V249.27H103.9V249.73H104.62V249.51H105.34V249.87H106.06V246.95H106.78V247.04H107.51V247.05H108.23V246.81H108.95V246.91H109.67V246.86H110.39V246.85H111.12V246.89H111.84V246.9H112.56V247.04H113.28V246.86H114V246.85H114.73V246.8H115.45V247.12H116.17V247.06H116.89V246.84H117.61V247.05H118.34V246.86H119.06V246.87H119.78V247.1H120.5V247.01H121.22V247.08H121.95V247.04H122.67V246.89H123.39V246.94H124.11V247.07H124.83V247.09H125.56V246.99H126.28V246.9H127V246.98H127.72V246.92H128.44V246.84H129.17V246.81H129.89V246.99H130.61V246.86H131.33V247.07H132.05V247.04H132.78V246.96H133.5V250.87H134.22V246.96H134.94V246.96H135.66V247.13H136.39V246.96H137.11V247.01H137.83V246.98H138.55V247.11H139.27V247.04H140V246.82H140.72V247.02H141.44V247H142.16V246.86H142.88V246.97H143.61V247.06H144.33V246.9H145.05V246.86H145.77V247.06H146.49V247.12H147.22V247.03H147.94V247.64H148.66V253.2H149.38V248.34H150.1V253.5ZM150.83 253.5V252.88H151.55V253.5ZM152.27 253.5V247.96H152.99V246.98H153.71V247.43H154.44V253.08H155.16V248.23H155.88V248.06H156.6V253.5ZM157.32 253.5V249.91H158.05V246.83H158.77V251.87H159.49V253.06H160.21V253.17H160.93V253.28H161.66V251.79H162.38V249.32H163.1V253.5ZM90.9 262.3V260.43H91.62V261.41H92.34V256.31H93.07V258.68H93.79V262.3ZM94.51 262.3V258.05H95.23V258.3H95.95V256H96.68V258.7H97.4V261.25H98.12V257.64H98.84V257.74H99.56V256.65H100.29V257.87H101.01V262.3ZM101.73 262.3V258.88H102.45V258.38H103.17V260.95H103.9V255.7H104.62V260.9H105.34V261.05H106.06V255.64H106.78V255.7H107.51V255.85H108.23V255.93H108.95V255.91H109.67V255.9H110.39V255.67H111.12V260.02H111.84V255.87H112.56V255.71H113.28V255.91H114V255.83H114.73V255.75H115.45V255.84H116.17V255.66H116.89V255.87H117.61V255.89H118.34V255.74H119.06V255.68H119.78V255.68H120.5V255.93H121.22V255.66H121.95V255.84H122.67V255.77H123.39V255.61H124.11V255.71H124.83V260.37H125.56V255.91H126.28V255.67H127V255.79H127.72V255.75H128.44V255.8H129.17V255.8H129.89V255.82H130.61V255.74H131.33V255.77H132.05V255.85H132.78V255.67H133.5V255.82H134.22V255.84H134.94V255.7H135.66V255.9H136.39V255.87H137.11V255.82H137.83V255.8H138.55V255.89H139.27V255.83H140V255.75H140.72V258.61H141.44V255.93H142.16V255.86H142.88V255.83H143.61V255.89H144.33V255.75H145.05V255.71H145.77V255.72H146.49V255.89H147.22V255.89H147.94V256.17H148.66V257.53H149.38V262.3ZM150.1 262.3V256.68H150.83V255.81H151.55V261.88H152.27V257.78H152.99V262.3ZM154.44 262.3V257.77H155.16V260.81H155.88V257.9H156.6V256.87H157.32V258.68H158.05V258.83H158.77V257.81H159.49V256.36H160.21V257.61H160.93V256.82H161.66V262.3ZM162.38 262.3V255.99H163.1V262.3ZM90.9 271.11V266.76H91.62V270.22H92.34V267.43H93.07V269.21H93.79V264.64H94.51V266.72H95.23V271.11ZM95.95 271.11V266.95H96.68V266.15H97.4V269.63H98.12V266.02H98.84V266.36H99.56V269.19H100.29V270.86H101.01V265.16H101.73V264.57H102.45V265.06H103.17V264.61H103.9V271.11ZM104.62 271.11V266.85H105.34V265.78H106.06V264.67H106.78V264.44H107.51V264.46H108.23V264.62H108.95V264.44H109.67V264.42H110.39V264.67H111.12V264.69H111.84V264.69H112.56V264.64H113.28V264.47H114V264.68H114.73V264.48H115.45V264.59H116.17V264.54H116.89V264.63H117.61V264.67H118.34V264.59H119.06V264.57H119.78V264.48H120.5V264.67H121.22V264.47H121.95V264.54H122.67V264.71H123.39V264.43H124.11V264.54H124.83V264.47H125.56V264.61H126.28V264.58H127V264.62H127.72V264.63H128.44V264.7H129.17V264.52H129.89V264.41H130.61V264.63H131.33V264.74H132.05V264.43H132.78V264.67H133.5V264.72H134.22V264.73H134.94V264.51H135.66V264.65H136.39V264.68H137.11V264.48H137.83V264.58H138.55V264.47H139.27V264.49H140V264.55H140.72V264.62H141.44V264.7H142.16V264.6H142.88V264.51H143.61V264.56H144.33V264.68H145.05V264.68H145.77V264.74H146.49V264.6H147.22V264.44H147.94V270.44H148.66V269.04H149.38V266.77H150.1V270.49H150.83V270.01H151.55V271.11ZM152.27 271.11V267.57H152.99V264.48H153.71V266.59H154.44V269.65H155.16V270.82H155.88V265.09H156.6V265.55H157.32V270.63H158.05V267.61H158.77V269.62H159.49V270.53H160.21V270.72H160.93V270.87H161.66V269.62H162.38V265.58H163.1V271.11ZM90.9 279.91V276.45H91.62V273.73H92.34V278.94H93.07V275.44H93.79V274.2H94.51V275.41H95.23V279.43H95.95V274.64H96.68V274.32H97.4V278.03H98.12V279.43H98.84V275.4H99.56V278.62H100.29V279.54H101.01V275.15H101.73V279.91ZM102.45 279.91V274.66H103.17V273.33H103.9V275.4H104.62V278.27H105.34V274.23H106.06V273.23H106.78V273.41H107.51V273.29H108.23V273.34H108.95V273.31H109.67V273.38H110.39V273.51H111.12V273.4H111.84V273.36H112.56V273.27H113.28V273.48H114V273.32H114.73V273.41H115.45V273.33H116.17V273.32H116.89V273.48H117.61V273.32H118.34V273.22H119.06V273.37H119.78V273.23H120.5V273.36H121.22V273.29H121.95V273.25H122.67V273.32H123.39V273.49H124.11V273.43H124.83V273.42H125.56V273.5H126.28V273.49H127V273.47H127.72V273.34H128.44V273.3H129.17V273.51H129.89V273.51H130.61V273.39H131.33V273.5H132.05V273.23H132.78V273.32H133.5V273.41H134.22V273.32H134.94V273.45H135.66V273.35H136.39V273.49H137.11V273.39H137.83V273.37H138.55V273.51H139.27V273.33H140V273.38H140.72V274.24H141.44V273.37H142.16V273.38H142.88V273.29H143.61V273.22H144.33V273.31H145.05V273.44H145.77V273.24H146.49V273.38H147.22V273.35H147.94V274.7H148.66V275.04H149.38V275.54H150.1V276.38H150.83V275.6H151.55V273.85H152.27V274.82H152.99V274.63H153.71V278.76H154.44V273.75H155.16V277.78H155.88V273.35H156.6V274.13H157.32V273.37H158.05V276.3H158.77V276.27H159.49V275.67H160.21V273.31H160.93V275.06H161.66V275.58H162.38V273.73H163.1V279.91ZM90.9 288.71V284.92H91.62V282.07H92.34V282.03H93.07V284.11H93.79V283.44H94.51V282.3H95.23V284.99H95.95V286.69H96.68V284.48H97.4V283.67H98.12V288.02H98.84V284.48H99.56V285.31H100.29V282.8H101.01V283.86H101.73V282.66H102.45V282.34H103.17V288.71ZM103.9 288.71V288.3H104.62V282.02H105.34V282.83H106.06V282.23H106.78V282.23H107.51V282.17H108.23V282.26H108.95V282.33H109.67V282.21H110.39V282.22H111.12V282.21H111.84V282.15H112.56V282.19H113.28V282.32H114V282.3H114.73V282.34H115.45V282.06H116.17V282.19H116.89V282.33H117.61V282.06H118.34V282.13H119.06V282.08H119.78V282.28H120.5V282.33H121.22V282.33H121.95V282.14H122.67V282.27H123.39V282.21H124.11V282.34H124.83V282.08H125.56V282.1H126.28V282.18H127V282.27H127.72V282.13H128.44V282.09H129.17V282.11H129.89V282.19H130.61V282.15H131.33V282.16H132.05V282.2H132.78V282.03H133.5V282.27H134.22V282.2H134.94V282.06H135.66V282.06H136.39V282.06H137.11V282.15H137.83V282.24H138.55V282.09H139.27V282.13H140V282.08H140.72V282.01H141.44V282.33H142.16V282.02H142.88V282.25H143.61V282.32H144.33V282.13H145.05V282.28H145.77V282.31H146.49V282.22H147.22V282.16H147.94V282.59H148.66V284.88H149.38V283.23H150.1V287.55H150.83V284.73H151.55V287.94H152.27V283.94H152.99V287.8H153.71V283.2H154.44V285.13H155.16V284.14H155.88V288.06H156.6V282.66H157.32V283.32H158.05V287.89H158.77V285.06H159.49V283.26H160.21V287.64H160.93V282.18H161.66V282.81H162.38V284.75H163.1V288.71ZM90.9 297.52V291.36H91.62V293.09H92.34V297.52ZM93.07 297.52V292.98H93.79V297.25H94.51V292.11H95.23V293.83H95.95V293.34H96.68V295.96H97.4V292.76H98.12V293.92H98.84V295.29H99.56V297.52ZM100.29 297.52V296.92H101.01V296.05H101.73V297.15H102.45V291.54H103.17V293.61H103.9V292.32H104.62V293.57H105.34V291.04H106.06V291.04H106.78V291.14H107.51V291.05H108.23V290.95H108.95V290.94H109.67V291.13H110.39V291.07H111.12V290.82H111.84V290.97H112.56V291H113.28V291.06H114V290.85H114.73V290.85H115.45V290.98H116.17V291.06H116.89V291.02H117.61V291.03H118.34V291.14H119.06V291.1H119.78V290.89H120.5V290.97H121.22V290.85H121.95V291.1H122.67V290.98H123.39V290.86H124.11V290.92H124.83V291.05H125.56V290.84H126.28V291.08H127V290.87H127.72V291.04H128.44V290.84H129.17V291.11H129.89V291.09H130.61V290.9H131.33V291.01H132.05V291.09H132.78V290.94H133.5V291.05H134.22V290.92H134.94V290.95H135.66V290.85H136.39V290.92H137.11V291.09H137.83V290.94H138.55V291.14H139.27V291.12H140V291.05H140.72V290.94H141.44V290.86H142.16V290.99H142.88V290.91H143.61V291.07H144.33V291.04H145.05V290.92H145.77V290.98H146.49V291.05H147.22V291.06H147.94V292.3H148.66V297.52ZM149.38 297.52V290.85H150.1V292.47H150.83V293.65H151.55V294.12H152.27V291.54H152.99V293.19H153.71V297.52ZM154.44 297.52V292.01H155.16V293.02H155.88V293.6H156.6V290.9H157.32V297.52ZM158.05 297.52V291.37H158.77V290.98H159.49V291.15H160.21V297.52ZM160.93 297.52V291.68H161.66V296.36H162.38V292.53H163.1V297.52ZM90.9 306.32V299.77H91.62V300.2H92.34V300.52H93.07V305.78H93.79V301.76H94.51V301.65H95.23V300.68H95.95V301.31H96.68V299.82H97.4V300.68H98.12V302.43H98.84V305.95H99.56V302.18H100.29V301.8H101.01V301.38H101.73V301.69H102.45V306.12H103.17V302.84H103.9V304.2H104.62V306.04H105.34V306.32ZM106.06 306.32V299.7H106.78V299.91H107.51V299.66H108.23V299.79H108.95V299.79H109.67V299.74H110.39V299.77H111.12V299.84H111.84V299.65H112.56V299.79H113.28V299.79H114V299.75H114.73V299.78H115.45V299.89H116.17V299.68H116.89V299.89H117.61V303.37H118.34V299.66H119.06V299.86H119.78V299.78H120.5V303.27H121.22V299.68H121.95V302.37H122.67V299.91H123.39V299.62H124.11V299.7H124.83V299.72H125.56V299.71H126.28V299.94H127V299.85H127.72V299.72H128.44V299.65H129.17V299.68H129.89V299.93H130.61V299.87H131.33V299.66H132.05V299.81H132.78V299.69H133.5V299.71H134.22V299.93H134.94V299.88H135.66V299.88H136.39V299.71H137.11V299.84H137.83V299.84H138.55V299.71H139.27V299.69H140V301.31H140.72V299.92H141.44V299.74H142.16V299.66H142.88V299.89H143.61V299.84H144.33V299.91H145.05V299.72H145.77V299.74H146.49V299.74H147.22V299.9H147.94V302.18H148.66V300.9H149.38V302.16H150.1V304.79H150.83V302.93H151.55V304.5H152.27V299.85H152.99V305.06H153.71V301.76H154.44V300.08H155.16V300.96H155.88V301.86H156.6V305.55H157.32V299.93H158.05V305.5H158.77V304.9H159.49V301.81H160.21V305.79H160.93V300.8H161.66V306.32ZM162.38 306.32V301.01H163.1V306.32ZM90.9 315.12V309.28H91.62V315.12ZM92.34 315.12V313.15H93.07V308.67H93.79V315.12ZM94.51 315.12V308.45H95.23V310.58H95.95V311.74H96.68V313.22H97.4V310.47H98.12V313.02H98.84V310.4H99.56V314.91H100.29V309.37H101.01V309.14H101.73V311.58H102.45V314.11H103.17V308.48H103.9V310.81H104.62V311.69H105.34V309.49H106.06V308.59H106.78V308.63H107.51V308.7H108.23V308.67H108.95V308.56H109.67V308.7H110.39V308.42H111.12V308.66H111.84V308.61H112.56V308.58H113.28V308.45H114V308.57H114.73V308.7H115.45V308.42H116.17V308.43H116.89V308.54H117.61V308.61H118.34V308.76H119.06V308.55H119.78V308.71H120.5V308.69H121.22V308.62H121.95V313.13H122.67V308.66H123.39V308.67H124.11V308.57H124.83V308.66H125.56V308.44H126.28V308.55H127V308.72H127.72V308.44H128.44V308.47H129.17V308.54H129.89V308.73H130.61V308.63H131.33V308.6H132.05V308.71H132.78V308.67H133.5V308.59H134.22V308.76H134.94V308.75H135.66V308.46H136.39V308.58H137.11V308.6H137.83V308.52H138.55V308.69H139.27V308.68H140V308.68H140.72V308.72H141.44V308.43H142.16V308.71H142.88V308.5H143.61V308.64H144.33V308.53H145.05V308.63H145.77V308.56H146.49V308.74H147.22V308.64H147.94V311.65H148.66V310.27H149.38V311.12H150.1V314.69H150.83V311.34H151.55V310.35H152.27V309.99H152.99V309.37H153.71V309.28H154.44V308.44H155.16V309.52H155.88V309.93H156.6V311.73H157.32V315.12ZM158.05 315.12V310.71H158.77V308.68H159.49V310.06H160.21V314.7H160.93V315.12ZM161.66 315.12V311.45H162.38V314.08H163.1V315.12ZM90.9 323.93V319.08H91.62V323.93ZM93.07 323.93V322.58H93.79V320.14H94.51V318.69H95.23V317.74H95.95V319.95H96.68V317.54H97.4V322.14H98.12V318.33H98.84V319.97H99.56V319.6H100.29V319.63H101.01V317.75H101.73V318.37H102.45V317.99H103.17V322.04H103.9V320.26H104.62V323.24H105.34V317.44H106.06V317.36H106.78V317.24H107.51V317.55H108.23V317.36H108.95V317.25H109.67V317.38H110.39V317.36H111.12V317.49H111.84V317.45H112.56V317.35H113.28V317.4H114V317.39H114.73V317.24H115.45V317.3H116.17V317.37H116.89V317.52H117.61V317.27H118.34V317.56H119.06V317.23H119.78V317.45H120.5V317.5H121.22V317.46H121.95V317.44H122.67V317.5H123.39V317.42H124.11V317.43H124.83V317.28H125.56V317.56H126.28V317.52H127V317.53H127.72V317.55H128.44V317.52H129.17V317.43H129.89V317.32H130.61V317.5H131.33V317.32H132.05V317.41H132.78V317.5H133.5V317.34H134.22V317.26H134.94V317.33H135.66V317.54H136.39V317.34H137.11V317.48H137.83V317.51H138.55V317.48H139.27V317.24H140V317.34H140.72V317.33H141.44V317.25H142.16V317.53H142.88V317.45H143.61V317.43H144.33V317.4H145.05V317.4H145.77V317.54H146.49V317.45H147.22V317.25H147.94V318.84H148.66V320.18H149.38V322.73H150.1V317.94H150.83V317.88H151.55V322.51H152.27V319.64H152.99V319.59H153.71V319.08H154.44V318.2H155.16V319.98H155.88V323.6H156.6V318.99H157.32V320.36H158.05V317.4H158.77V318.64H159.49V319.67H160.21V320.06H160.93V322.83H161.66V322.73H162.38V319.06H163.1V323.93ZM90.9 332.73V332.49H91.62V328.55H92.34V329.13H93.07V332.14H93.79V326.38H94.51V328.83H95.23V328.29H95.95V326.42H96.68V328.65H97.4V327.43H98.12V331.91H98.84V327.79H99.56V326.07H100.29V332.73ZM101.01 332.73V331.62H101.73V327.91H102.45V326.78H103.17V328.87H103.9V330.92H104.62V331.12H105.34V329.09H106.06V326.27H106.78V326.25H107.51V326.15H108.23V326.34H108.95V326.09H109.67V331H110.39V326.12H111.12V326.1H111.84V326.04H112.56V326.23H113.28V330.31H114V326.26H114.73V326.14H115.45V326.2H116.17V326.31H116.89V326.08H117.61V326.32H118.34V326.27H119.06V326.11H119.78V326.3H120.5V326.06H121.22V326.27H121.95V326.28H122.67V326.19H123.39V326.29H124.11V326.17H124.83V326.34H125.56V326.32H126.28V326.28H127V326.04H127.72V326.11H128.44V327.72H129.17V326.35H129.89V326.12H130.61V326.19H131.33V326.05H132.05V326.07H132.78V326.34H133.5V326.33H134.22V326.26H134.94V326.21H135.66V326.19H136.39V326.18H137.11V326.05H137.83V326.21H138.55V326.24H139.27V326.31H140V326.05H140.72V326.11H141.44V326.13H142.16V326.12H142.88V326.11H143.61V326.32H144.33V326.14H145.05V326.09H145.77V326.22H146.49V326.27H147.22V326.24H147.94V327.58H148.66V328.52H149.38V326.2H150.1V329.11H150.83V328.26H151.55V326.41H152.27V329.31H152.99V328.9H153.71V332.73ZM154.44 332.73V326.45H155.16V328.29H155.88V332.73ZM156.6 332.73V326.59H157.32V332.73ZM158.05 332.73V326.36H158.77V332.16H159.49V328.57H160.21V331.27H160.93V327.5H161.66V332.73ZM162.38 332.73V330.71H163.1V332.73ZM90.9 341.53V337.98H91.62V341.53ZM92.34 341.53V335.49H93.07V335.83H93.79V341.29H94.51V341.53ZM95.23 341.53V335.54H95.95V337.16H96.68V337.99H97.4V337.6H98.12V337.29H98.84V341.32H99.56V340.52H100.29V336.48H101.01V341H101.73V341.53ZM102.45 341.53V340.66H103.17V339.31H103.9V338.08H104.62V334.96H105.34V336.42H106.06V334.92H106.78V335.15H107.51V335H108.23V334.86H108.95V334.92H109.67V335.14H110.39V334.91H111.12V335.04H111.84V335.14H112.56V335.13H113.28V334.94H114V334.97H114.73V335.12H115.45V334.93H116.17V334.97H116.89V335.01H117.61V334.9H118.34V334.84H119.06V335.09H119.78V335.15H120.5V334.93H121.22V334.92H121.95V335.04H122.67V334.95H123.39V334.93H124.11V334.89H124.83V335.12H125.56V337.94H126.28V335.17H127V334.96H127.72V335.17H128.44V335.04H129.17V335.08H129.89V335.08H130.61V335H131.33V334.97H132.05V335.07H132.78V334.9H133.5V334.92H134.22V334.88H134.94V334.99H135.66V335.09H136.39V334.98H137.11V334.93H137.83V335.08H138.55V334.88H139.27V335.12H140V334.84H140.72V334.89H141.44V334.98H142.16V334.95H142.88V334.99H143.61V334.91H144.33V335.14H145.05V334.86H145.77V335.15H146.49V334.91H147.22V335.01H147.94V341.53ZM148.66 341.53V337.18H149.38V335.77H150.1V335.37H150.83V337.43H151.55V341.33H152.27V335.13H152.99V335.09H153.71V337.05H154.44V336.75H155.16V340.46H155.88V336.87H156.6V340.17H157.32V340.56H158.05V341.53ZM159.49 341.53V340.73H160.21V340.78H160.93V335.03H161.66V340.11H162.38V336.58H163.1V341.53ZM91.62 350.34V345.43H92.34V346.96H93.07V344.29H93.79V346.5H94.51V350.34ZM95.23 350.34V345.74H95.95V349.98H96.68V345.75H97.4V343.65H98.12V345.67H98.84V345.53H99.56V346.98H100.29V348.24H101.01V348.06H101.73V345.32H102.45V344.41H103.17V345.09H103.9V350H104.62V345.28H105.34V349.19H106.06V343.76H106.78V343.9H107.51V345.26H108.23V343.93H108.95V344.77H109.67V343.73H110.39V343.86H111.12V343.74H111.84V343.73H112.56V343.94H113.28V346.35H114V343.66H114.73V343.72H115.45V343.93H116.17V343.75H116.89V343.93H117.61V348.12H118.34V343.69H119.06V343.85H119.78V346.15H120.5V343.9H121.22V343.74H121.95V343.83H122.67V343.8H123.39V347.26H124.11V343.67H124.83V347.23H125.56V343.72H126.28V343.75H127V343.91H127.72V343.83H128.44V343.86H129.17V346.15H129.89V343.86H130.61V343.73H131.33V344.87H132.05V343.9H132.78V343.64H133.5V343.8H134.22V343.76H134.94V343.96H135.66V343.8H136.39V343.66H137.11V343.94H137.83V343.77H138.55V343.88H139.27V343.7H140V343.81H140.72V345.92H141.44V343.87H142.16V343.95H142.88V343.71H143.61V343.76H144.33V343.84H145.05V343.94H145.77V343.82H146.49V343.84H147.22V343.89H147.94V349.83H148.66V348.87H149.38V349.05H150.1V349.56H150.83V345.33H151.55V343.78H152.27V349.55H152.99V348.68H153.71V350.34ZM154.44 350.34V350.02H155.16V349.61H155.88V343.66H156.6V346.03H157.32V350.34ZM158.05 350.34V345.38H158.77V343.73H159.49V349.01H160.21V348.11H160.93V343.98H161.66V350.1H162.38V348.84H163.1V350.34ZM90.9 359.14V352.91H91.62V353.59H92.34V354.97H93.07V354.05H93.79V359.14ZM95.95 359.14V352.74H96.68V353.28H97.4V355.26H98.12V358.65H98.84V353.39H99.56V358.32H100.29V357.5H101.01V355.59H101.73V355.47H102.45V355.09H103.17V355.68H103.9V355.7H104.62V356.89H105.34V353.82H106.06V352.73H106.78V356.33H107.51V352.68H108.23V352.54H108.95V352.69H109.67V352.71H110.39V352.71H111.12V352.73H111.84V352.55H112.56V352.77H113.28V352.59H114V352.71H114.73V352.66H115.45V352.51H116.17V355.56H116.89V352.5H117.61V352.45H118.34V352.66H119.06V352.7H119.78V352.55H120.5V352.45H121.22V352.68H121.95V352.46H122.67V352.68H123.39V352.67H124.11V352.73H124.83V352.51H125.56V352.62H126.28V352.53H127V352.47H127.72V352.53H128.44V352.53H129.17V352.51H129.89V355.33H130.61V356.42H131.33V352.63H132.05V352.77H132.78V352.53H133.5V352.75H134.22V352.45H134.94V352.7H135.66V352.61H136.39V352.52H137.11V352.54H137.83V352.51H138.55V352.61H139.27V352.53H140V352.51H140.72V352.49H141.44V352.55H142.16V352.77H142.88V352.75H143.61V352.48H144.33V352.49H145.05V352.61H145.77V352.76H146.49V352.45H147.22V352.64H147.94V357.77H148.66V352.87H149.38V357.15H150.1V357.7H150.83V358.11H151.55V357.52H152.27V359.14ZM152.99 359.14V355.2H153.71V354.15H154.44V359.14ZM155.16 359.14V354.54H155.88V355.52H156.6V357.3H157.32V355.05H158.05V359.14ZM158.77 359.14V357.78H159.49V358.71H160.21V359.14ZM160.93 359.14V358.07H161.66V353.1H162.38V353.54H163.1V359.14ZM90.9 367.94V367.06H91.62V367.31H92.34V367.49H93.07V367.4H93.79V366.41H94.51V363.61H95.23V367.94ZM95.95 367.94V362.43H96.68V367.94ZM97.4 367.94V367.12H98.12V363.89H98.84V362.65H99.56V363.15H100.29V366.92H101.01V366.38H101.73V363.54H102.45V362.95H103.17V367.18H103.9V363.81H104.62V367.94ZM105.34 367.94V367.45H106.06V361.26H106.78V361.46H107.51V361.48H108.23V361.39H108.95V363.55H109.67V361.49H110.39V361.52H111.12V361.43H111.84V361.34H112.56V361.32H113.28V361.52H114V361.31H114.73V361.31H115.45V361.52H116.17V361.3H116.89V361.35H117.61V364.53H118.34V361.3H119.06V361.4H119.78V361.39H120.5V361.31H121.22V361.51H121.95V361.51H122.67V361.31H123.39V361.34H124.11V361.26H124.83V361.44H125.56V361.39H126.28V361.25H127V361.3H127.72V361.54H128.44V361.45H129.17V361.5H129.89V361.41H130.61V361.56H131.33V361.43H132.05V361.48H132.78V361.49H133.5V361.53H134.22V361.35H134.94V361.27H135.66V361.35H136.39V361.27H137.11V361.48H137.83V361.38H138.55V361.48H139.27V361.39H140V361.52H140.72V361.54H141.44V361.35H142.16V361.28H142.88V361.38H143.61V361.4H144.33V361.4H145.05V361.25H145.77V361.33H146.49V361.31H147.22V365.68H147.94V366.19H148.66V362.23H149.38V367.5H150.1V364.55H150.83V361.56H151.55V364.55H152.27V362.45H152.99V367.48H153.71V362.55H154.44V363.26H155.16V367.56H155.88V361.26H156.6V362.67H157.32V361.42H158.05V367.58H158.77V363.72H159.49V362.41H160.21V367.94ZM160.93 367.94V363.35H161.66V361.7H162.38V363.88H163.1V367.94ZM90.9 376.75V371.16H91.62V374.58H92.34V371.28H93.07V372.34H93.79V372.62H94.51V371.07H95.23V375.94H95.95V374.95H96.68V375.93H97.4V371.03H98.12V371.86H98.84V372.7H99.56V376.34H100.29V375.96H101.01V372.71H101.73V376.75ZM102.45 376.75V371.29H103.17V372.14H103.9V373.32H104.62V370.33H105.34V370.72H106.06V373.05H106.78V370.07H107.51V370.14H108.23V370.1H108.95V370.37H109.67V372.22H110.39V374.33H111.12V370.33H111.84V373.67H112.56V370.2H113.28V370.17H114V372.42H114.73V371.82H115.45V370.38H116.17V371.75H116.89V374.1H117.61V370.31H118.34V370.11H119.06V374.65H119.78V370.26H120.5V370.3H121.22V373.01H121.95V370.28H122.67V370.06H123.39V370.23H124.11V370.36H124.83V370.12H125.56V370.17H126.28V374.09H127V373.88H127.72V372.34H128.44V370.38H129.17V370.25H129.89V373.26H130.61V370.08H131.33V370.17H132.05V370.37H132.78V370.21H133.5V370.27H134.22V370.15H134.94V370.1H135.66V370.21H136.39V370.27H137.11V370.36H137.83V370.14H138.55V370.1H139.27V370.05H140V375.01H140.72V370.15H141.44V370.28H142.16V370.08H142.88V370.2H143.61V370.13H144.33V370.26H145.05V370.22H145.77V370.15H146.49V370.31H147.22V370.2H147.94V371.44H148.66V370.61H149.38V370.83H150.1V372.2H150.83V376.25H151.55V372.89H152.27V375.38H152.99V376.04H153.71V376.75ZM154.44 376.75V373.34H155.16V376.42H155.88V371.94H156.6V371.78H157.32V370.6H158.05V375.23H158.77V372.58H159.49V370.16H160.21V376.08H160.93V371H161.66V374.6H162.38V372.78H163.1V376.75ZM90.9 385.55V384.56H91.62V385.55ZM92.34 385.55V382.51H93.07V385.55ZM93.79 385.55V384.7H94.51V385.55ZM95.23 385.55V383.61H95.95V384.78H96.68V384.77H97.4V381.38H98.12V385.31H98.84V383.88H99.56V385.55ZM100.29 385.55V384.57H101.01V380.93H101.73V383.87H102.45V381.01H103.17V380.79H103.9V385.03H104.62V385.55ZM105.34 385.55V384.75H106.06V381.23H106.78V384.22H107.51V383.75H108.23V384.97H108.95V380.29H109.67V381.67H110.39V380.1H111.12V380.27H111.84V380.99H112.56V384.53H113.28V379.33H114V381.24H114.73V379.01H115.45V380.81H116.17V380.43H116.89V379.78H117.61V384.47H118.34V385.08H119.06V379.43H119.78V379.82H120.5V381.97H121.22V382.14H121.95V379.28H122.67V379.15H123.39V381.9H124.11V380.48H124.83V379.9H125.56V385.55ZM126.28 385.55V379.64H127V381.2H127.72V385H128.44V381.9H129.17V380.87H129.89V385.25H130.61V381.71H131.33V385.55ZM132.05 385.55V384.64H132.78V379.18H133.5V379.55H134.22V380.74H134.94V384.54H135.66V381.13H136.39V382.1H137.11V378.94H137.83V379.01H138.55V379.04H139.27V378.89H140V379.02H140.72V378.93H141.44V378.99H142.16V378.87H142.88V379.07H143.61V378.91H144.33V379.11H145.05V379.15H145.77V379.09H146.49V379.18H147.22V379H147.94V378.91H148.66V380.16H149.38V381.71H150.1V385.55ZM150.83 385.55V383.7H151.55V380.94H152.27V384.69H152.99V382.55H153.71V380.13H154.44V382.68H155.16V384.38H155.88V382.36H156.6V384.33H157.32V385.29H158.05V384.19H158.77V384.83H159.49V385.55ZM160.21 385.55V380.23H160.93V381.43H161.66V385.55ZM162.38 385.55V385.14H163.1V385.55ZM90.9 394.36V389.65H91.62V390.02H92.34V393.89H93.07V390.98H93.79V389.74H94.51V393.74H95.23V390.75H95.95V394.36ZM97.4 394.36V393.57H98.12V394.36ZM98.84 394.36V393.99H99.56V389.64H100.29V390.75H101.01V394.36ZM101.73 394.36V393.95H102.45V390.34H103.17V394.36ZM103.9 394.36V393.82H104.62V393.74H105.34V393.64H106.06V393.7H106.78V393.58H107.51V388.35H108.23V394.36ZM108.95 394.36V392.66H109.67V393.4H110.39V390.79H111.12V388.28H111.84V390.19H112.56V390.35H113.28V390.01H114V393.58H114.73V393.88H115.45V394.36ZM117.61 394.36V390.81H118.34V389.87H119.06V394.36ZM119.78 394.36V388.78H120.5V388.15H121.22V394.36ZM121.95 394.36V389.4H122.67V393.99H123.39V394.36ZM124.11 394.36V388.78H124.83V387.83H125.56V389.93H126.28V390.31H127V389.98H127.72V390.58H128.44V394.36ZM129.17 394.36V388.84H129.89V390.01H130.61V390.18H131.33V393.73H132.05V390.56H132.78V390.18H133.5V388.19H134.22V390.34H134.94V390.22H135.66V389.76H136.39V389.83H137.11V389.43H137.83V387.86H138.55V387.92H139.27V387.81H140V387.81H140.72V387.78H141.44V387.92H142.16V389.45H142.88V387.7H143.61V387.97H144.33V387.79H145.05V387.68H145.77V387.89H146.49V387.99H147.22V387.8H147.94V387.81H148.66V394.36ZM149.38 394.36V393.32H150.1V393.89H150.83V393.94H151.55V393.3H152.27V394.36ZM152.99 394.36V390.23H153.71V394.36ZM155.16 394.36V389.62H155.88V393.79H156.6V391.37H157.32V394.36ZM158.77 394.36V388.78H159.49V391.23H160.21V394.1H160.93V394.36ZM162.38 394.36V390.39H163.1V394.36ZM90.9 403.16V402.68H91.62V402.62H92.34V402.24H93.07V399.92H93.79V402.78H94.51V402.47H95.23V401.49H95.95V400.22H96.68V402.84H97.4V401.78H98.12V401.84H98.84V402.38H99.56V402.9H100.29V397.87H101.01V397.65H101.73V398H102.45V397.99H103.17V402.43H103.9V403.16ZM104.62 403.16V397.61H105.34V399.63H106.06V397.47H106.78V400.17H107.51V402.17H108.23V401.99H108.95V397.02H109.67V403.16ZM111.12 403.16V401H111.84V401.99H112.56V396.48H113.28V401.84H114V397.77H114.73V397.79H115.45V402.02H116.17V399.14H116.89V398.61H117.61V397.86H118.34V397.68H119.06V398.01H119.78V399.04H120.5V397.57H121.22V396.91H121.95V398.53H122.67V398.68H123.39V397.3H124.11V402.03H124.83V396.48H125.56V399.58H126.28V402.18H127V396.85H127.72V398.47H128.44V398.93H129.17V403.16ZM129.89 403.16V401.47H130.61V397.51H131.33V397.06H132.05V402.55H132.78V398.33H133.5V403.16ZM134.22 403.16V398.73H134.94V403.16ZM136.39 403.16V396.55H137.11V400.08H137.83V396.69H138.55V396.53H139.27V396.73H140V396.53H140.72V396.56H141.44V400.32H142.16V396.64H142.88V396.5H143.61V396.48H144.33V396.79H145.05V396.52H145.77V396.62H146.49V397.62H147.22V396.73H147.94V396.63H148.66V403.16ZM149.38 403.16V402.33H150.1V400.42H150.83V402.6H151.55V403.16ZM152.27 403.16V399.33H152.99V402.77H153.71V402.41H154.44V401.79H155.16V398.71H155.88V403.16ZM156.6 403.16V402.54H157.32V402.15H158.05V402.47H158.77V403.16ZM159.49 403.16V402.56H160.21V402.53H160.93V402.28H161.66V402.84H162.38V401.68H163.1V403.16ZM90.9 411.96V411.54H91.62V411.96ZM92.34 411.96V407.78H93.07V408.51H93.79V411.72H94.51V409.31H95.23V411.26H95.95V411.96ZM96.68 411.96V408.73H97.4V409.05H98.12V410.79H98.84V411.04H99.56V411.38H100.29V410.87H101.01V410.88H101.73V411.35H102.45V411.41H103.17V409.45H103.9V407.9H104.62V411.73H105.34V411.96ZM106.06 411.96V411.57H106.78V411.65H107.51V411.43H108.23V411.48H108.95V410.99H109.67V408.77H110.39V410.33H111.12V411.96ZM111.84 411.96V411.64H112.56V408.14H113.28V406.99H114V411.73H114.73V411.46H115.45V411.96ZM116.17 411.96V406.68H116.89V407.86H117.61V411.96ZM118.34 411.96V408.54H119.06V407.49H119.78V411.39H120.5V409.26H121.22V408.75H121.95V411.76H122.67V411.96ZM123.39 411.96V407.56H124.11V411.39H124.83V407.63H125.56V411.96ZM127 411.96V407.17H127.72V411.5H128.44V411.96ZM129.17 411.96V408.97H129.89V411.09H130.61V407H131.33V406.95H132.05V411.96ZM132.78 411.96V408.53H133.5V407.79H134.22V411.24H134.94V411.96ZM135.66 411.96V407H136.39V407.97H137.11V408.04H137.83V406.97H138.55V407.38H139.27V411.96ZM140 411.96V407.25H140.72V411.75H141.44V411.47H142.16V407.93H142.88V408.94H143.61V408.13H144.33V406.7H145.05V406.47H145.77V407.04H146.49V407.18H147.22V406.88H147.94V410.51H148.66V410.66H149.38V408.11H150.1V411.96ZM150.83 411.96V411.03H151.55V411.96ZM152.99 411.96V411.73H153.71V411.74H154.44V411.69H155.16V411.96ZM155.88 411.96V408.22H156.6V411.14H157.32V411.96ZM159.49 411.96V410.72H160.21V411.19H160.93V409H161.66V411.74H162.38V411.96ZM91.62 420.77V416.85H92.34V418.07H93.07V420.08H93.79V420.77ZM94.51 420.77V420.52H95.23V420.77ZM96.68 420.77V419.79H97.4V420.77ZM98.12 420.77V416.32H98.84V416.14H99.56V417.54H100.29V420.3H101.01V417.97H101.73V419.74H102.45V416.34H103.17V420.28H103.9V420.77ZM104.62 420.77V419.77H105.34V419.27H106.06V416.86H106.78V416.18H107.51V420.77ZM108.23 420.77V419.57H108.95V420.77ZM109.67 420.77V420.43H110.39V420.77ZM111.12 420.77V420.43H111.84V420.29H112.56V415.45H113.28V419.48H114V417.14H114.73V420.05H115.45V420.77ZM116.17 420.77V419.74H116.89V416.69H117.61V420.77ZM118.34 420.77V419.06H119.06V417.75H119.78V419.48H120.5V420.77ZM121.95 420.77V415.84H122.67V420.77ZM123.39 420.77V419.48H124.11V420.07H124.83V420.18H125.56V420.77ZM126.28 420.77V415.79H127V419.62H127.72V419.52H128.44V419.32H129.17V420.21H129.89V416.86H130.61V416.01H131.33V419.8H132.05V420.77ZM132.78 420.77V420.31H133.5V419.33H134.22V420.77ZM135.66 420.77V419.75H136.39V420.77ZM137.11 420.77V415.21H137.83V419.16H138.55V418.82H139.27V415.34H140V415.94H140.72V416.76H141.44V414.75H142.16V420.77ZM142.88 420.77V418.94H143.61V417.13H144.33V415.58H145.05V416.24H145.77V415.64H146.49V420.77ZM147.22 420.77V417.22H147.94V420.77ZM148.66 420.77V420.1H149.38V420.22H150.1V420.21H150.83V420.77ZM151.55 420.77V419.62H152.27V417.14H152.99V420.77ZM153.71 420.77V416.54H154.44V420.29H155.16V419.41H155.88V420.41H156.6V419.64H157.32V419.95H158.05V418.26H158.77V420.77ZM160.21 420.77V419.7H160.93V420.41H161.66V419.68H162.38V419.82H163.1V420.77ZM90.9 429.57V428.8H91.62V428.63H92.34V427.67H93.07V429.57ZM93.79 429.57V429.31H94.51V429.2H95.23V429.31H95.95V429.32H96.68V429.57ZM97.4 429.57V427.15H98.12V426.49H98.84V429.57ZM99.56 429.57V427.87H100.29V429.57ZM101.01 429.57V429.29H101.73V429.04H102.45V429.57ZM103.17 429.57V428.92H103.9V428.98H104.62V429.35H105.34V426.88H106.06V429.57ZM106.78 429.57V428.51H107.51V426.87H108.23V428.98H108.95V426.51H109.67V429.08H110.39V429.57ZM111.84 429.57V426.09H112.56V426.31H113.28V426.43H114V429.27H114.73V429.28H115.45V428.58H116.17V425.73H116.89V429.31H117.61V429.57ZM118.34 429.57V426.91H119.06V428.96H119.78V429.57ZM121.22 429.57V426.46H121.95V429.57ZM123.39 429.57V429.08H124.11V429.3H124.83V429.57ZM125.56 429.57V428.64H126.28V429.57ZM127 429.57V429.04H127.72V428.63H128.44V429.57ZM129.17 429.57V429.28H129.89V425.66H130.61V429.11H131.33V429.16H132.05V426.48H132.78V427.02H133.5V428.26H134.22V428.69H134.94V429.57ZM135.66 429.57V428.74H136.39V429.57ZM137.83 429.57V424.92H138.55V429.34H139.27V428.39H140V429.3H140.72V425.13H141.44V429.57ZM142.16 429.57V428.5H142.88V424.94H143.61V429.57ZM144.33 429.57V426.67H145.05V426.48H145.77V429.09H146.49V429.57ZM147.94 429.57V428.78H148.66V428.87H149.38V429.57ZM150.1 429.57V429.22H150.83V428.9H151.55V428.77H152.27V429.16H152.99V428.85H153.71V429.57ZM154.44 429.57V427.21H155.16V429.57ZM155.88 429.57V428.97H156.6V429.57ZM157.32 429.57V429.09H158.05V429.57ZM158.77 429.57V428.74H159.49V428.6H160.21V429.32H160.93V429.23H161.66V428.57H162.38V427.78H163.1V429.57ZM91.62 438.37V437.89H92.34V438.37ZM93.07 438.37V437.45H93.79V438.37ZM94.51 438.37V437.21H95.23V438.37ZM96.68 438.37V437.89H97.4V437.72H98.12V437.44H98.84V437.7H99.56V435.84H100.29V437.52H101.01V435.45H101.73V438.11H102.45V435.88H103.17V435.87H103.9V436.54H104.62V438.03H105.34V438.37ZM106.06 438.37V437.85H106.78V437.69H107.51V436.29H108.23V438.37ZM108.95 438.37V434.94H109.67V438.16H110.39V436.98H111.12V438.37ZM112.56 438.37V437.15H113.28V434.94H114V435.91H114.73V435.26H115.45V438.37ZM116.17 438.37V437.54H116.89V437.78H117.61V438.09H118.34V436.02H119.06V434.66H119.78V438.37ZM120.5 438.37V437.48H121.22V436.97H121.95V434.74H122.67V437.81H123.39V437.03H124.11V438.02H124.83V437.49H125.56V435.1H126.28V438.37ZM127 438.37V435.15H127.72V438.37ZM129.17 438.37V436.16H129.89V437.75H130.61V438.08H131.33V435.13H132.05V436.36H132.78V437.65H133.5V435.43H134.22V437.71H134.94V438.11H135.66V437.72H136.39V437.25H137.11V436.84H137.83V433.86H138.55V438.37ZM139.27 438.37V437.11H140V435.31H140.72V433.8H141.44V435.87H142.16V437.88H142.88V438.37ZM143.61 438.37V435.43H144.33V435.81H145.05V434.16H145.77V437.52H146.49V437.71H147.22V436.94H147.94V434.61H148.66V438.05H149.38V437.91H150.1V437.36H150.83V438.37ZM152.27 438.37V438.17H152.99V437.6H153.71V438.37ZM154.44 438.37V438.15H155.16V435.64H155.88V437.61H156.6V437.54H157.32V437.92H158.05V438.37ZM158.77 438.37V437.93H159.49V437.52H160.21V438.01H160.93V438.15H161.66V438.37ZM162.38 438.37V438.12H163.1V438.37ZM90.9 447.18V446.71H91.62V446.93H92.34V445.79H93.07V446.52H93.79V447.18ZM94.51 447.18V446.97H95.23V446.43H95.95V446.42H96.68V447.18ZM97.4 447.18V446.96H98.12V446.56H98.84V446.96H99.56V446.64H100.29V446.79H101.01V446.75H101.73V447.18ZM105.34 447.18V446.76H106.06V445.56H106.78V445.27H107.51V447.18ZM108.23 447.18V445.89H108.95V447.18ZM111.12 447.18V446.44H111.84V447.18ZM114 447.18V445.63H114.73V446.85H115.45V445H116.17V446.88H116.89V445.46H117.61V446.65H118.34V447.18ZM119.78 447.18V446.47H120.5V445.91H121.22V446.58H121.95V445.12H122.67V446.39H123.39V447.18ZM124.11 447.18V445.44H124.83V445.58H125.56V446.74H126.28V446.6H127V446.64H127.72V447.18ZM128.44 447.18V445.49H129.17V446.77H129.89V445.25H130.61V446.72H131.33V447.18ZM133.5 447.18V446.83H134.22V447.18ZM134.94 447.18V446.97H135.66V446.71H136.39V446.37H137.11V447.18ZM140 447.18V446.78H140.72V446.43H141.44V444.93H142.16V446.82H142.88V446.65H143.61V447.18ZM144.33 447.18V445.8H145.05V447.18ZM146.49 447.18V446.74H147.22V445.23H147.94V445.22H148.66V446.63H149.38V447.18ZM150.1 447.18V445.63H150.83V447.18ZM151.55 447.18V444.93H152.27V446.92H152.99V446.61H153.71V446.57H154.44V445.43H155.16V446.89H155.88V446.84H156.6V447.18ZM158.05 447.18V445.42H158.77V446.42H159.49V446.66H160.21V447.18ZM160.93 447.18V445.38H161.66V446.97H162.38V447.18ZM90.9 455.98V454.38H91.62V455.98ZM92.34 455.98V455.61H93.07V455.98ZM93.79 455.98V455.61H94.51V455.98ZM95.23 455.98V455.41H95.95V455.98ZM96.68 455.98V454.24H97.4V455.45H98.12V455.26H98.84V455.98ZM99.56 455.98V454.76H100.29V453.68H101.01V455.65H101.73V455.24H102.45V455.26H103.17V455.62H103.9V455.3H104.62V454.68H105.34V455.72H106.06V454.49H106.78V455.29H107.51V455.28H108.23V454.66H108.95V454.02H109.67V455.98ZM111.84 455.98V455.39H112.56V455.59H113.28V455.55H114V454.76H114.73V453.98H115.45V455.49H116.17V455.98ZM116.89 455.98V453.94H117.61V455.98ZM118.34 455.98V453.73H119.06V455.98ZM120.5 455.98V454.31H121.22V455.98ZM121.95 455.98V453.65H122.67V455.98ZM123.39 455.98V455.54H124.11V455.98ZM124.83 455.98V455.73H125.56V455.98ZM126.28 455.98V454.04H127V453.96H127.72V453.8H128.44V454.08H129.17V455.5H129.89V455.57H130.61V453.86H131.33V454.17H132.05V455.98ZM132.78 455.98V454.25H133.5V454.45H134.22V455.69H134.94V455.75H135.66V455.98ZM136.39 455.98V455.33H137.11V454.25H137.83V455.4H138.55V454.01H139.27V455.43H140V454.54H140.72V454.79H141.44V455.64H142.16V455.98ZM142.88 455.98V455.33H143.61V454.64H144.33V455.98ZM145.05 455.98V455.39H145.77V455.98ZM147.22 455.98V455.6H147.94V455.44H148.66V455.77H149.38V455.98ZM150.1 455.98V455.74H150.83V455.59H151.55V454.51H152.27V454.07H152.99V455.72H153.71V455.98ZM154.44 455.98V455.73H155.16V455.98ZM155.88 455.98V455.71H156.6V453.83H157.32V455.75H158.05V455.37H158.77V454.56H159.49V453.83H160.21V455.52H160.93V455.37H161.66V455.98ZM90.9 464.78V463.56H91.62V464.78ZM92.34 464.78V463.45H93.07V464.34H93.79V464.78ZM94.51 464.78V464.42H95.23V464.78ZM96.68 464.78V464.57H97.4V464.78ZM98.84 464.78V464.35H99.56V464.47H100.29V464.01H101.01V464.78ZM101.73 464.78V463.66H102.45V464.78ZM103.17 464.78V464.01H103.9V464.78ZM104.62 464.78V464.44H105.34V463.4H106.06V464.78ZM106.78 464.78V464.46H107.51V464.78ZM108.23 464.78V464.53H108.95V464.36H109.67V464.78ZM110.39 464.78V464.02H111.12V464.32H111.84V464.44H112.56V463.8H113.28V463.94H114V464.54H114.73V464.56H115.45V464.78ZM117.61 464.78V464.54H118.34V463.52H119.06V464.78ZM121.22 464.78V464.31H121.95V464.78ZM123.39 464.78V464.48H124.11V464.78ZM124.83 464.78V464.3H125.56V464.78ZM129.17 464.78V464.54H129.89V464.78ZM130.61 464.78V464.36H131.33V464.78ZM132.05 464.78V464.47H132.78V464.78ZM134.22 464.78V463.38H134.94V463.38H135.66V464.78ZM141.44 464.78V463.48H142.16V464.58H142.88V464.78ZM144.33 464.78V464.52H145.05V464.78ZM145.77 464.78V464.54H146.49V464.58H147.22V463.98H147.94V464.78ZM148.66 464.78V464.45H149.38V464.31H150.1V463.94H150.83V464.78ZM153.71 464.78V463.69H154.44V464.78ZM155.16 464.78V464.53H155.88V464.55H156.6V464.78ZM158.05 464.78V463.85H158.77V464.78ZM159.49 464.78V464.4H160.21V463.46H160.93V464.78ZM161.66 464.78V464.43H162.38V464.78ZM93.79 473.59V472.19H94.51V473.59ZM98.12 473.59V473.17H98.84V473.2H99.56V473.19H100.29V473.59ZM101.01 473.59V472.2H101.73V473.16H102.45V473.14H103.17V472.32H103.9V473.59ZM104.62 473.59V472.8H105.34V473.35H106.06V473.13H106.78V473.17H107.51V473.59ZM108.95 473.59V472.26H109.67V473.09H110.39V472.29H111.12V473.33H111.84V473.29H112.56V473.09H113.28V473.59ZM114.73 473.59V472.7H115.45V473.59ZM116.89 473.59V473.28H117.61V472.38H118.34V473.59ZM119.06 473.59V473.36H119.78V473.33H120.5V473.59ZM121.22 473.59V472.29H121.95V473.32H122.67V472.32H123.39V472.4H124.11V472.21H124.83V473.17H125.56V473.59ZM127 473.59V473.31H127.72V473.59ZM132.05 473.59V473.28H132.78V472.68H133.5V473.12H134.22V473.35H134.94V473.59ZM138.55 473.59V472.21H139.27V473.19H140V473.1H140.72V472.45H141.44V473.59ZM143.61 473.59V473.1H144.33V473.31H145.05V473.59ZM145.77 473.59V473.33H146.49V473.59ZM147.22 473.59V473.18H147.94V472.39H148.66V472.43H149.38V473.22H150.1V473.33H150.83V473.59ZM151.55 473.59V472.3H152.27V473.59ZM152.99 473.59V472.52H153.71V473.59ZM154.44 473.59V473.19H155.16V473.59ZM155.88 473.59V472.16H156.6V473.33H157.32V473.59ZM158.77 473.59V473.23H159.49V473.59ZM160.21 473.59V473.2H160.93V473.59ZM161.66 473.59V473.21H162.38V473.59Z" fill="#2d2d2d"/>
<rect x="171.1" y="237.4" width="72" height="272.6" fill="none" stroke="#a0a0a0" stroke-width="0.9"/>
<path d="M171.1 254.7H243.1M171.1 263.5H243.1M171.1 272.31H243.1M171.1 281.11H243.1M171.1 289.91H243.1M171.1 298.72H243.1M171.1 307.52H243.1M171.1 316.32H243.1M171.1 325.13H243.1M171.1 333.93H243.1M171.1 342.73H243.1M171.1 351.54H243.1M171.1 360.34H243.1M171.1 369.14H243.1M171.1 377.95H243.1M171.1 386.75H243.1M171.1 395.56H243.1M171.1 404.36H243.1M171.1 413.16H243.1M171.1 421.97H243.1M171.1 430.77H243.1M171.1 439.57H243.1M171.1 448.38H243.1M171.1 457.18H243.1M171.1 465.98H243.1M171.1 474.79H243.1M171.1 483.59H243.1M171.1 492.39H243.1M171.1 501.2H243.1M171.1 510H243.1" stroke="#444" stroke-width="1.0" fill="none"/>
<path d="M171.1 254.7V250.94H171.82V250.63H172.54V250.67H173.26V254.37H173.98V251.67H174.7V248.95H175.42V251.62H176.14V250.52H176.86V248.99H177.58V251.11H178.3V248.77H179.02V250.24H179.74V250.79H180.46V251.68H181.18V248.91H181.9V251.22H182.62V251.08H183.34V250.37H184.06V249.63H184.78V250.67H185.5V251.4H186.22V250.5H186.94V252.84H187.66V249.76H188.38V249.05H189.1V248.08H189.82V248.12H190.54V248.18H191.26V248.2H191.98V248.21H192.7V248.02H193.42V248.28H194.14V248.31H194.86V248.15H195.58V248.23H196.3V248.04H197.02V248.15H197.74V248.23H198.46V248.01H199.18V248.1H199.9V248.3H200.62V248.1H201.34V248.11H202.06V248.16H202.78V248.05H203.5V248.28H204.22V248.03H204.94V248.19H205.66V248.33H206.38V248.18H207.1V248.16H207.82V248.21H208.54V248.02H209.26V248.06H209.98V248.14H210.7V248.15H211.42V248.21H212.14V248.23H212.86V248.22H213.58V248.29H214.3V248.05H215.02V248.08H215.74V248.17H216.46V248.03H217.18V248.19H217.9V248.07H218.62V248.13H219.34V248.18H220.06V248.11H220.78V248.04H221.5V248.05H222.22V248H222.94V248.32H223.66V248.19H224.38V248.32H225.1V248.13H225.82V248.05H226.54V248.32H227.26V248.23H227.98V248.06H228.7V248.12H229.42V248.21H230.14V248.12H230.86V248.28H231.58V248.18H232.3V248.07H233.02V248.07H233.74V248.04H234.46V248.06H235.18V248.06H235.9V253.47H236.62V248.94H237.34V251.09H238.06V249.27H238.78V248.84H239.5V250.92H240.22V251.05H240.94V249.28H241.66V248.44H242.38V248.29H243.1V254.7ZM171.1 263.5V256.93H171.82V257.6H172.54V257.44H173.26V258.72H173.98V263.5ZM174.7 263.5V261.87H175.42V260.15H176.14V256.99H176.86V257.02H177.58V257.06H178.3V256.95H179.02V256.81H179.74V257.06H180.46V257.12H181.18V258.62H181.9V256.83H182.62V256.84H183.34V256.9H184.06V261.53H184.78V257.01H185.5V257.05H186.22V257.11H186.94V256.96H187.66V256.93H188.38V256.9H189.1V256.85H189.82V256.82H190.54V257.1H191.26V256.94H191.98V260.33H192.7V256.97H193.42V257.11H194.14V256.94H194.86V256.96H195.58V256.94H196.3V257.01H197.02V256.98H197.74V256.95H198.46V256.89H199.18V256.82H199.9V257.08H200.62V257.06H201.34V256.94H202.06V257.09H202.78V257.07H203.5V256.93H204.22V256.87H204.94V256.9H205.66V256.84H206.38V256.91H207.1V257.08H207.82V256.9H208.54V256.9H209.26V261.38H209.98V256.9H210.7V256.81H211.42V259.43H212.14V256.98H212.86V256.97H213.58V257.1H214.3V257.11H215.02V256.94H215.74V256.95H216.46V256.96H217.18V256.81H217.9V257H218.62V256.82H219.34V256.92H220.06V256.83H220.78V256.91H221.5V257.02H222.22V257.05H222.94V258.33H223.66V256.99H224.38V257.08H225.1V257.09H225.82V257.03H226.54V256.99H227.26V257.09H227.98V256.82H228.7V256.84H229.42V256.91H230.14V257.07H230.86V256.89H231.58V256.84H232.3V256.92H233.02V257.08H233.74V256.94H234.46V257.1H235.18V256.83H235.9V257.8H236.62V257.6H237.34V258.33H238.06V258.67H238.78V258.57H239.5V262.71H240.22V262.53H240.94V259.16H241.66V260.13H242.38V257.77H243.1V263.5ZM171.1 272.31V268.94H171.82V268.77H172.54V266.96H173.26V268.93H173.98V270.42H174.7V266.01H175.42V267.52H176.14V269.9H176.86V265.75H177.58V265.65H178.3V265.69H179.02V265.7H179.74V265.79H180.46V265.81H181.18V265.75H181.9V265.71H182.62V265.86H183.34V265.64H184.06V268.71H184.78V267.88H185.5V265.69H186.22V265.65H186.94V265.87H187.66V265.72H188.38V265.85H189.1V265.8H189.82V265.64H190.54V265.91H191.26V265.7H191.98V265.72H192.7V265.64H193.42V265.72H194.14V265.94H194.86V268.56H195.58V265.74H196.3V265.71H197.02V265.79H197.74V265.88H198.46V265.72H199.18V265.61H199.9V265.61H200.62V265.8H201.34V265.82H202.06V265.71H202.78V265.7H203.5V265.84H204.22V265.94H204.94V265.67H205.66V265.9H206.38V265.88H207.1V265.91H207.82V265.82H208.54V265.72H209.26V265.64H209.98V265.64H210.7V265.73H211.42V265.77H212.14V265.73H212.86V265.69H213.58V265.66H214.3V265.71H215.02V265.81H215.74V265.7H216.46V265.69H217.18V265.9H217.9V265.94H218.62V265.75H219.34V265.94H220.06V265.87H220.78V265.83H221.5V265.68H222.22V265.75H222.94V265.72H223.66V265.75H224.38V265.88H225.1V265.66H225.82V265.93H226.54V265.74H227.26V265.65H227.98V265.73H228.7V265.61H229.42V265.76H230.14V265.89H230.86V270.43H231.58V265.64H232.3V265.64H233.02V265.75H233.74V265.75H234.46V265.72H235.18V265.82H235.9V272.31ZM236.62 272.31V268.26H237.34V266.34H238.06V267.53H238.78V270.01H239.5V266.67H240.22V268.56H240.94V266.63H241.66V268.07H242.38V268H243.1V272.31ZM171.1 281.11V280.74H171.82V275.51H172.54V275.01H173.26V277.11H173.98V275.52H174.7V281.11ZM175.42 281.11V274.98H176.14V274.59H176.86V274.73H177.58V274.49H178.3V274.68H179.02V274.6H179.74V274.61H180.46V274.43H181.18V274.48H181.9V274.55H182.62V274.69H183.34V274.57H184.06V274.6H184.78V274.58H185.5V278.66H186.22V274.66H186.94V274.63H187.66V274.73H188.38V274.72H189.1V274.49H189.82V274.67H190.54V274.54H191.26V274.69H191.98V274.69H192.7V274.69H193.42V274.66H194.14V274.43H194.86V274.63H195.58V274.55H196.3V274.63H197.02V274.7H197.74V274.7H198.46V274.71H199.18V274.57H199.9V274.58H200.62V274.48H201.34V274.72H202.06V274.55H202.78V274.53H203.5V274.54H204.22V274.68H204.94V274.55H205.66V274.71H206.38V274.54H207.1V274.68H207.82V277.19H208.54V274.44H209.26V274.45H209.98V274.65H210.7V274.59H211.42V274.46H212.14V274.67H212.86V274.54H213.58V274.49H214.3V274.44H215.02V274.51H215.74V274.47H216.46V274.61H217.18V274.61H217.9V274.55H218.62V276.5H219.34V274.68H220.06V274.62H220.78V274.57H221.5V274.48H222.22V274.67H222.94V274.63H223.66V274.68H224.38V274.45H225.1V274.65H225.82V274.69H226.54V274.55H227.26V274.67H227.98V274.63H228.7V274.7H229.42V274.56H230.14V274.71H230.86V274.47H231.58V274.43H232.3V274.68H233.02V274.56H233.74V276.83H234.46V274.43H235.18V274.41H235.9V274.74H236.62V275.79H237.34V276.98H238.06V275.56H238.78V279.5H239.5V276.32H240.22V276.47H240.94V279.75H241.66V280.09H242.38V274.89H243.1V281.11ZM171.1 289.91V283.32H171.82V289.91ZM172.54 289.91V289.59H173.26V289.91ZM173.98 289.91V285.91H174.7V286.05H175.42V283.86H176.14V283.25H176.86V283.48H177.58V283.46H178.3V283.37H179.02V283.47H179.74V283.46H180.46V283.51H181.18V283.36H181.9V283.38H182.62V286.18H183.34V283.26H184.06V283.51H184.78V283.34H185.5V283.47H186.22V288.16H186.94V283.48H187.66V283.36H188.38V283.29H189.1V283.51H189.82V283.31H190.54V283.46H191.26V283.29H191.98V283.39H192.7V283.54H193.42V283.38H194.14V283.38H194.86V283.31H195.58V288.22H196.3V283.47H197.02V283.47H197.74V283.51H198.46V283.27H199.18V283.5H199.9V283.48H200.62V283.35H201.34V283.54H202.06V283.33H202.78V283.26H203.5V283.42H204.22V283.49H204.94V284.84H205.66V283.48H206.38V283.32H207.1V283.47H207.82V283.42H208.54V284.38H209.26V283.39H209.98V283.53H210.7V283.22H211.42V283.23H212.14V283.44H212.86V283.26H213.58V283.24H214.3V283.35H215.02V283.54H215.74V283.32H216.46V283.22H217.18V283.44H217.9V283.22H218.62V283.46H219.34V283.49H220.06V283.32H220.78V283.47H221.5V283.34H222.22V283.23H222.94V283.44H223.66V283.3H224.38V283.42H225.1V283.3H225.82V283.5H226.54V283.47H227.26V283.37H227.98V283.25H228.7V287.57H229.42V283.55H230.14V283.5H230.86V283.31H231.58V283.47H232.3V283.52H233.02V283.27H233.74V283.51H234.46V283.47H235.18V283.27H235.9V286.11H236.62V284.17H237.34V285.9H238.06V286.37H238.78V286.34H239.5V284.54H240.22V289.64H240.94V289.91ZM241.66 289.91V283.31H242.38V283.72H243.1V289.91ZM171.1 298.72V292.09H171.82V293.07H172.54V293.55H173.26V297.28H173.98V293.01H174.7V293.83H175.42V298.72ZM176.14 298.72V292.08H176.86V293.55H177.58V292.03H178.3V294.07H179.02V292.15H179.74V292.03H180.46V292.28H181.18V292.31H181.9V292.34H182.62V292.14H183.34V292.26H184.06V293.75H184.78V292.3H185.5V292.25H186.22V292.33H186.94V292.12H187.66V292.27H188.38V292.16H189.1V292.25H189.82V292.02H190.54V292.27H191.26V292.07H191.98V292.24H192.7V292.09H193.42V292.03H194.14V292.33H194.86V296.9H195.58V292.29H196.3V292.29H197.02V292.13H197.74V292.26H198.46V292.22H199.18V292.28H199.9V292.27H200.62V292.05H201.34V292.16H202.06V292.24H202.78V292.12H203.5V292.28H204.22V292.18H204.94V292.16H205.66V292.16H206.38V292.3H207.1V292.11H207.82V292.2H208.54V292.32H209.26V292.06H209.98V292.24H210.7V292.02H211.42V292.03H212.14V292.09H212.86V292.04H213.58V292.2H214.3V292.34H215.02V292.29H215.74V292.06H216.46V292.33H217.18V292.05H217.9V292.34H218.62V292.34H219.34V292.31H220.06V292.04H220.78V292.31H221.5V292.16H222.22V292.13H222.94V292.19H223.66V292.13H224.38V292.34H225.1V292.15H225.82V292.24H226.54V292.26H227.26V292.24H227.98V292.18H228.7V292.05H229.42V292.34H230.14V292.15H230.86V292.33H231.58V292.34H232.3V292.12H233.02V292.28H233.74V292.07H234.46V292.09H235.18V293.82H235.9V292.97H236.62V292.89H237.34V294.59H238.06V297.32H238.78V292.31H239.5V292.09H240.22V294.24H240.94V294.96H241.66V294.32H242.38V293.98H243.1V298.72ZM171.1 307.52V303.59H171.82V303.01H172.54V303.26H173.26V302.81H173.98V307.08H174.7V300.97H175.42V302.01H176.14V300.93H176.86V300.92H177.58V301.1H178.3V300.88H179.02V301.06H179.74V301.15H180.46V301.12H181.18V303.84H181.9V300.91H182.62V302.82H183.34V300.96H184.06V304.4H184.78V300.95H185.5V300.84H186.22V301.1H186.94V301.06H187.66V301H188.38V300.97H189.1V302.8H189.82V301.08H190.54V301.02H191.26V300.94H191.98V301.15H192.7V300.83H193.42V300.92H194.14V301.15H194.86V301.14H195.58V300.96H196.3V301.09H197.02V301.03H197.74V301.04H198.46V300.82H199.18V301.01H199.9V301.13H200.62V302.46H201.34V300.93H202.06V300.83H202.78V301.15H203.5V301H204.22V300.88H204.94V301.14H205.66V300.98H206.38V300.84H207.1V301.09H207.82V302.34H208.54V301.07H209.26V301.09H209.98V301.04H210.7V300.88H211.42V300.91H212.14V301.05H212.86V300.84H213.58V300.91H214.3V300.99H215.02V301.14H215.74V300.93H216.46V301.02H217.18V300.93H217.9V300.84H218.62V301.1H219.34V301.12H220.06V301.01H220.78V300.84H221.5V300.88H222.22V300.91H222.94V300.84H223.66V300.94H224.38V301.03H225.1V303.47H225.82V300.97H226.54V300.95H227.26V301H227.98V300.91H228.7V300.92H229.42V300.93H230.14V301.09H230.86V301H231.58V301.12H232.3V300.82H233.02V301.05H233.74V301.07H234.46V301.15H235.18V300.87H235.9V301.6H236.62V303.67H237.34V303.76H238.06V301.35H238.78V307.52ZM239.5 307.52V305.66H240.22V307.02H240.94V306.09H241.66V303.28H242.38V301.9H243.1V307.52ZM171.1 316.32V311.62H171.82V312.63H172.54V312.64H173.26V316.08H173.98V311.14H174.7V314.38H175.42V311.97H176.14V309.88H176.86V309.92H177.58V309.68H178.3V309.7H179.02V309.66H179.74V309.78H180.46V309.9H181.18V314.19H181.9V309.86H182.62V309.66H183.34V309.74H184.06V309.65H184.78V309.87H185.5V312.81H186.22V309.67H186.94V309.71H187.66V309.88H188.38V309.84H189.1V309.68H189.82V309.96H190.54V309.63H191.26V309.9H191.98V309.72H192.7V309.63H193.42V309.77H194.14V309.66H194.86V309.63H195.58V309.95H196.3V314.09H197.02V309.64H197.74V309.73H198.46V309.72H199.18V309.74H199.9V309.83H200.62V309.63H201.34V309.66H202.06V309.73H202.78V309.82H203.5V309.64H204.22V309.9H204.94V309.7H205.66V309.91H206.38V309.8H207.1V309.65H207.82V309.95H208.54V309.68H209.26V309.79H209.98V309.77H210.7V309.72H211.42V309.82H212.14V309.9H212.86V309.65H213.58V309.88H214.3V309.68H215.02V309.87H215.74V309.85H216.46V309.8H217.18V309.63H217.9V309.65H218.62V309.76H219.34V309.79H220.06V309.77H220.78V309.66H221.5V309.66H222.22V309.73H222.94V309.78H223.66V309.86H224.38V309.72H225.1V309.75H225.82V309.78H226.54V309.79H227.26V309.76H227.98V309.72H228.7V309.92H229.42V309.67H230.14V309.82H230.86V309.76H231.58V309.86H232.3V309.85H233.02V309.89H233.74V309.95H234.46V309.64H235.18V309.95H235.9V310.24H236.62V312.43H237.34V315.48H238.06V316.32ZM238.78 316.32V309.83H239.5V310.03H240.22V310.41H240.94V309.81H241.66V315.92H242.38V314.48H243.1V316.32ZM171.1 325.13V321.74H171.82V318.77H172.54V318.9H173.26V320.78H173.98V321.17H174.7V323.16H175.42V319.49H176.14V318.73H176.86V318.46H177.58V318.44H178.3V318.7H179.02V318.6H179.74V318.62H180.46V318.54H181.18V318.59H181.9V318.52H182.62V318.53H183.34V318.53H184.06V318.59H184.78V318.57H185.5V318.5H186.22V318.5H186.94V318.57H187.66V318.53H188.38V318.67H189.1V322.41H189.82V318.55H190.54V318.55H191.26V318.57H191.98V318.68H192.7V318.66H193.42V318.6H194.14V318.5H194.86V318.57H195.58V318.61H196.3V318.55H197.02V318.5H197.74V318.57H198.46V318.54H199.18V318.6H199.9V318.72H200.62V318.61H201.34V318.55H202.06V318.64H202.78V318.74H203.5V319.51H204.22V318.63H204.94V318.64H205.66V318.49H206.38V318.66H207.1V318.61H207.82V318.65H208.54V318.64H209.26V318.59H209.98V318.71H210.7V318.56H211.42V318.6H212.14V318.59H212.86V318.43H213.58V318.67H214.3V318.73H215.02V318.64H215.74V318.52H216.46V318.53H217.18V318.69H217.9V318.63H218.62V318.6H219.34V318.72H220.06V318.62H220.78V318.75H221.5V318.63H222.22V318.71H222.94V318.6H223.66V318.5H224.38V318.62H225.1V318.61H225.82V318.44H226.54V318.66H227.26V318.51H227.98V318.73H228.7V318.66H229.42V318.76H230.14V318.53H230.86V318.62H231.58V318.64H232.3V318.57H233.02V318.64H233.74V318.71H234.46V318.7H235.18V318.64H235.9V320.05H236.62V318.58H237.34V325.13ZM238.06 325.13V320.34H238.78V324.7H239.5V325.13ZM240.22 325.13V318.92H240.94V321.47H241.66V319.59H242.38V319.14H243.1V325.13ZM171.1 333.93V330.27H171.82V328.68H172.54V329.61H173.26V327.47H173.98V329.28H174.7V329.85H175.42V329.48H176.14V327.27H176.86V327.31H177.58V327.45H178.3V327.49H179.02V327.44H179.74V327.36H180.46V327.24H181.18V327.53H181.9V327.44H182.62V327.38H183.34V328.61H184.06V327.4H184.78V327.43H185.5V329.88H186.22V327.47H186.94V327.47H187.66V327.25H188.38V327.37H189.1V328.84H189.82V327.36H190.54V327.25H191.26V327.43H191.98V327.26H192.7V327.33H193.42V327.49H194.14V327.4H194.86V327.35H195.58V327.34H196.3V327.41H197.02V327.5H197.74V331.06H198.46V327.36H199.18V327.38H199.9V327.49H200.62V327.25H201.34V327.28H202.06V327.43H202.78V327.43H203.5V327.37H204.22V327.28H204.94V327.27H205.66V327.26H206.38V327.32H207.1V327.56H207.82V327.45H208.54V327.48H209.26V327.24H209.98V327.51H210.7V327.3H211.42V327.33H212.14V327.33H212.86V327.56H213.58V327.3H214.3V327.42H215.02V327.25H215.74V327.48H216.46V327.38H217.18V327.52H217.9V327.37H218.62V327.52H219.34V327.56H220.06V327.53H220.78V327.51H221.5V327.43H222.22V327.34H222.94V327.52H223.66V327.42H224.38V327.43H225.1V327.5H225.82V327.43H226.54V327.43H227.26V327.32H227.98V327.54H228.7V327.5H229.42V327.25H230.14V327.43H230.86V327.24H231.58V327.43H232.3V327.48H233.02V327.52H233.74V327.42H234.46V327.32H235.18V327.33H235.9V331.59H236.62V328.71H237.34V328.82H238.06V329.17H238.78V327.76H239.5V327.57H240.22V329.76H240.94V328.68H241.66V328.61H242.38V327.64H243.1V333.93ZM171.1 342.73V337.71H171.82V337.21H172.54V339.18H173.26V337.35H173.98V336.84H174.7V337.11H175.42V339.09H176.14V338.94H176.86V336.9H177.58V336.2H178.3V337.44H179.02V339H179.74V338.82H180.46V341.15H181.18V342.26H181.9V338.21H182.62V337.82H183.34V336.21H184.06V338.07H184.78V339.21H185.5V337.43H186.22V338.64H186.94V338.7H187.66V337.68H188.38V338.92H189.1V338.3H189.82V336.24H190.54V336.37H191.26V336.3H191.98V336.05H192.7V340.13H193.42V336.31H194.14V336.14H194.86V336.22H195.58V336.27H196.3V338.05H197.02V336.1H197.74V336.08H198.46V337.2H199.18V340.09H199.9V336.17H200.62V336.35H201.34V336.18H202.06V336.08H202.78V336.28H203.5V336.24H204.22V336.08H204.94V336.12H205.66V336.05H206.38V340.84H207.1V336.17H207.82V336.35H208.54V336.3H209.26V336.35H209.98V337.96H210.7V336.19H211.42V336.04H212.14V336.32H212.86V336.04H213.58V336.05H214.3V336.27H215.02V336.12H215.74V336.09H216.46V336.28H217.18V336.2H217.9V336.04H218.62V339.07H219.34V336.16H220.06V336.04H220.78V336.33H221.5V336.26H222.22V336.25H222.94V336.15H223.66V336.26H224.38V336.25H225.1V336.29H225.82V336.09H226.54V336.36H227.26V336.23H227.98V336.2H228.7V336.14H229.42V336.25H230.14V336.07H230.86V336.06H231.58V336.37H232.3V336.25H233.02V336.3H233.74V336.26H234.46V336.36H235.18V336.1H235.9V341.87H236.62V338.73H237.34V336.62H238.06V338.7H238.78V337.02H239.5V338.36H240.22V341.51H240.94V338.98H241.66V339.34H242.38V342.73ZM171.1 351.54V344.98H171.82V349.82H172.54V351.21H173.26V348.14H173.98V346.13H174.7V344.88H175.42V350.94H176.14V347.17H176.86V347.79H177.58V345.97H178.3V347.86H179.02V345.69H179.74V344.84H180.46V347.16H181.18V348.08H181.9V345.65H182.62V345.59H183.34V346.69H184.06V347.91H184.78V346.26H185.5V345.26H186.22V347.27H186.94V345.18H187.66V348.1H188.38V347.87H189.1V345.14H189.82V344.96H190.54V344.94H191.26V345.05H191.98V347.99H192.7V344.97H193.42V345.11H194.14V344.96H194.86V345.08H195.58V345.02H196.3V345.06H197.02V344.9H197.74V344.92H198.46V345.17H199.18V347.93H199.9V345.06H200.62V344.93H201.34V344.97H202.06V345.03H202.78V344.91H203.5V345H204.22V344.97H204.94V345.01H205.66V345.05H206.38V344.95H207.1V345.1H207.82V345.01H208.54V347.85H209.26V345.03H209.98V345.14H210.7V344.86H211.42V344.94H212.14V344.97H212.86V345.15H213.58V344.99H214.3V344.94H215.02V344.93H215.74V344.95H216.46V344.87H217.18V344.89H217.9V345.09H218.62V344.89H219.34V345.01H220.06V344.95H220.78V349.13H221.5V345.09H222.22V346.5H222.94V344.87H223.66V344.96H224.38V344.98H225.1V345.04H225.82V344.87H226.54V345.09H227.26V345.04H227.98V345.03H228.7V344.94H229.42V345.11H230.14V344.84H230.86V344.89H231.58V345.04H232.3V344.88H233.02V345.06H233.74V344.96H234.46V345.03H235.18V346.33H235.9V345.63H236.62V350.61H237.34V345.15H238.06V351.12H238.78V346.22H239.5V345.15H240.22V345.12H240.94V346.66H241.66V350.44H242.38V347.1H243.1V351.54ZM171.1 360.34V356.06H171.82V354.99H172.54V356.54H173.26V355.96H173.98V355.49H174.7V354.57H175.42V356.81H176.14V358.1H176.86V356.86H177.58V354.97H178.3V359.77H179.02V356.92H179.74V354.3H180.46V355.89H181.18V359.71H181.9V356.44H182.62V355.21H183.34V356.43H184.06V360.34ZM184.78 360.34V355.3H185.5V354.42H186.22V354.64H186.94V356.16H187.66V360.34ZM188.38 360.34V358.47H189.1V353.75H189.82V353.81H190.54V353.76H191.26V353.67H191.98V353.67H192.7V353.86H193.42V353.74H194.14V353.78H194.86V353.75H195.58V356.71H196.3V353.79H197.02V353.87H197.74V353.73H198.46V353.83H199.18V357.11H199.9V355.4H200.62V353.68H201.34V353.73H202.06V355.86H202.78V353.85H203.5V353.77H204.22V353.68H204.94V353.77H205.66V353.91H206.38V353.72H207.1V353.66H207.82V353.79H208.54V353.94H209.26V353.89H209.98V353.75H210.7V353.76H211.42V353.75H212.14V356.43H212.86V353.93H213.58V353.93H214.3V353.72H215.02V353.71H215.74V353.65H216.46V353.79H217.18V353.96H217.9V353.92H218.62V353.81H219.34V353.79H220.06V353.78H220.78V353.64H221.5V353.7H222.22V353.69H222.94V353.78H223.66V353.92H224.38V355.45H225.1V353.87H225.82V353.9H226.54V353.92H227.26V353.71H227.98V353.71H228.7V353.7H229.42V357.74H230.14V353.83H230.86V358.35H231.58V353.69H232.3V353.78H233.02V353.81H233.74V353.72H234.46V353.82H235.18V353.7H235.9V355.48H236.62V355.67H237.34V355H238.06V355.84H238.78V359.79H239.5V354.15H240.22V354.9H240.94V359.9H241.66V355.57H242.38V359.66H243.1V360.34ZM171.1 369.14V364.24H171.82V363.79H172.54V367.25H173.26V364.36H173.98V363.67H174.7V369.14ZM175.42 369.14V365.56H176.14V365.47H176.86V362.65H177.58V369.14ZM178.3 369.14V363.14H179.02V364.4H179.74V365.33H180.46V367.75H181.18V365.35H181.9V368.81H182.62V364.53H183.34V365.14H184.06V365.22H184.78V364.18H185.5V369.14ZM186.22 369.14V364.58H186.94V364.59H187.66V365.25H188.38V364.74H189.1V362.65H189.82V362.51H190.54V362.57H191.26V362.5H191.98V362.61H192.7V362.76H193.42V362.73H194.14V362.69H194.86V362.55H195.58V362.73H196.3V362.52H197.02V362.61H197.74V366.58H198.46V362.51H199.18V362.62H199.9V362.74H200.62V362.49H201.34V362.75H202.06V362.53H202.78V362.55H203.5V362.65H204.22V362.69H204.94V362.73H205.66V362.45H206.38V362.74H207.1V362.55H207.82V362.57H208.54V362.52H209.26V362.75H209.98V362.77H210.7V366.18H211.42V362.56H212.14V362.54H212.86V362.54H213.58V362.55H214.3V362.53H215.02V362.77H215.74V362.45H216.46V362.75H217.18V362.45H217.9V365.69H218.62V362.67H219.34V362.53H220.06V362.64H220.78V362.45H221.5V362.66H222.22V362.55H222.94V362.59H223.66V362.74H224.38V362.72H225.1V362.45H225.82V362.63H226.54V362.47H227.26V362.51H227.98V366.72H228.7V362.75H229.42V362.63H230.14V362.62H230.86V362.68H231.58V362.7H232.3V362.52H233.02V362.76H233.74V367.37H234.46V362.68H235.18V362.58H235.9V363.05H236.62V362.45H237.34V364.75H238.06V362.81H238.78V365.64H239.5V364.26H240.22V369.14ZM240.94 369.14V365.7H241.66V369.14ZM242.38 369.14V364.58H243.1V369.14ZM171.1 377.95V376.12H171.82V374.23H172.54V377.95ZM173.26 377.95V372.27H173.98V377.95ZM174.7 377.95V374.55H175.42V371.3H176.14V376.67H176.86V372.35H177.58V373.75H178.3V376.45H179.02V377.95ZM179.74 377.95V372.05H180.46V373.17H181.18V372.03H181.9V377.72H182.62V371.29H183.34V371.27H184.06V373.92H184.78V372.85H185.5V377.95ZM186.22 377.95V372.4H186.94V374.31H187.66V373.48H188.38V377.95ZM189.1 377.95V371.45H189.82V371.41H190.54V371.32H191.26V371.29H191.98V371.37H192.7V371.28H193.42V371.45H194.14V371.45H194.86V371.37H195.58V371.52H196.3V371.55H197.02V371.27H197.74V371.49H198.46V371.43H199.18V371.26H199.9V371.44H200.62V371.31H201.34V375H202.06V371.44H202.78V371.41H203.5V371.35H204.22V371.42H204.94V371.53H205.66V371.31H206.38V375.71H207.1V371.51H207.82V371.39H208.54V371.4H209.26V371.28H209.98V371.54H210.7V371.48H211.42V371.37H212.14V371.44H212.86V371.28H213.58V371.58H214.3V371.47H215.02V371.54H215.74V371.28H216.46V372.48H217.18V371.35H217.9V371.57H218.62V371.26H219.34V371.58H220.06V371.53H220.78V371.48H221.5V371.35H222.22V371.52H222.94V371.52H223.66V371.46H224.38V371.42H225.1V373.83H225.82V371.37H226.54V371.27H227.26V371.44H227.98V371.43H228.7V371.54H229.42V372.57H230.14V371.33H230.86V371.41H231.58V375.05H232.3V371.38H233.02V371.42H233.74V371.36H234.46V371.36H235.18V371.47H235.9V374.17H236.62V377.31H237.34V373.88H238.06V372.08H238.78V373.71H239.5V371.59H240.22V373.23H240.94V377.68H241.66V374.28H242.38V374.59H243.1V377.95ZM171.1 386.75V381.66H171.82V386.75ZM172.54 386.75V381.03H173.26V381.24H173.98V381.13H174.7V386.75ZM176.14 386.75V384.51H176.86V385.98H177.58V386.05H178.3V385.15H179.02V385.44H179.74V383.38H180.46V381.74H181.18V384.47H181.9V383.22H182.62V381.9H183.34V380.6H184.06V382.17H184.78V383.28H185.5V382.03H186.22V385.77H186.94V385.2H187.66V382.81H188.38V384.45H189.1V380.14H189.82V382.94H190.54V380.87H191.26V380.3H191.98V380.27H192.7V380.37H193.42V380.19H194.14V380.16H194.86V383.16H195.58V382.61H196.3V383.69H197.02V380.21H197.74V380.28H198.46V380.07H199.18V380.33H199.9V384.79H200.62V380.32H201.34V380.32H202.06V380.29H202.78V380.28H203.5V380.17H204.22V380.23H204.94V380.06H205.66V380.31H206.38V380.14H207.1V380.1H207.82V380.26H208.54V380.1H209.26V380.38H209.98V381.51H210.7V384.4H211.42V380.06H212.14V380.33H212.86V380.09H213.58V380.36H214.3V383.37H215.02V383.36H215.74V380.3H216.46V380.13H217.18V380.19H217.9V380.27H218.62V380.29H219.34V380.29H220.06V380.26H220.78V380.2H221.5V384.36H222.22V380.38H222.94V382.85H223.66V380.17H224.38V380.23H225.1V380.29H225.82V380.28H226.54V380.38H227.26V380.28H227.98V380.22H228.7V380.2H229.42V382.94H230.14V380.22H230.86V380.38H231.58V380.31H232.3V383.25H233.02V386.12H233.74V386.75ZM234.46 386.75V382.42H235.18V382.55H235.9V381.37H236.62V380.85H237.34V380.85H238.06V380.17H238.78V382.04H239.5V385.48H240.22V384.88H240.94V380.14H241.66V384.8H242.38V382.65H243.1V386.75ZM171.1 395.56V392.03H171.82V391.31H172.54V390.63H173.26V389.03H173.98V394.54H174.7V389.77H175.42V389.28H176.14V389.87H176.86V390.53H177.58V394.37H178.3V395.23H179.02V391.74H179.74V390.17H180.46V391.38H181.18V394.92H181.9V389.33H182.62V391.78H183.34V390.38H184.06V395.05H184.78V389.3H185.5V390.81H186.22V390.04H186.94V392.07H187.66V389.87H188.38V393.56H189.1V393.52H189.82V394.28H190.54V391.19H191.26V390.11H191.98V389.06H192.7V388.88H193.42V389.02H194.14V391.78H194.86V388.96H195.58V389.02H196.3V388.94H197.02V388.86H197.74V389.04H198.46V388.98H199.18V389.12H199.9V389.11H200.62V389H201.34V389.07H202.06V388.96H202.78V389.15H203.5V389.01H204.22V389.08H204.94V389.05H205.66V389.04H206.38V388.86H207.1V388.92H207.82V389.02H208.54V388.93H209.26V391.31H209.98V389.11H210.7V389.09H211.42V389.06H212.14V388.95H212.86V389.12H213.58V388.97H214.3V389.03H215.02V390.74H215.74V390.76H216.46V389.1H217.18V388.96H217.9V389.12H218.62V389.11H219.34V389.1H220.06V389.1H220.78V389.04H221.5V389.03H222.22V388.89H222.94V389H223.66V392.48H224.38V391.32H225.1V388.96H225.82V389H226.54V388.86H227.26V389.02H227.98V388.9H228.7V389.09H229.42V392.05H230.14V388.95H230.86V389.17H231.58V388.99H232.3V395.56ZM233.74 395.56V393.48H234.46V391.84H235.18V395.56ZM235.9 395.56V390.28H236.62V391.36H237.34V390.13H238.06V394.4H238.78V395.07H239.5V390.78H240.22V391.53H240.94V390.76H241.66V390.62H242.38V389.32H243.1V395.56ZM171.1 404.36V403.98H171.82V398.7H172.54V400.16H173.26V403.72H173.98V404.36ZM174.7 404.36V404.1H175.42V403.49H176.14V399.07H176.86V399.25H177.58V398.84H178.3V400.99H179.02V400.47H179.74V399.71H180.46V398.84H181.18V397.8H181.9V399.66H182.62V399.03H183.34V399.68H184.06V400.75H184.78V399.69H185.5V399.07H186.22V404.36ZM187.66 404.36V399.61H188.38V399.76H189.1V402.73H189.82V399.8H190.54V398.67H191.26V397.89H191.98V397.9H192.7V397.8H193.42V397.82H194.14V397.69H194.86V397.82H195.58V397.8H196.3V397.85H197.02V397.92H197.74V397.8H198.46V397.96H199.18V397.67H199.9V397.8H200.62V397.67H201.34V397.91H202.06V397.88H202.78V397.83H203.5V397.83H204.22V401.09H204.94V397.88H205.66V397.88H206.38V399.6H207.1V401.91H207.82V397.95H208.54V397.75H209.26V397.68H209.98V397.69H210.7V397.86H211.42V400.99H212.14V397.84H212.86V397.75H213.58V397.89H214.3V397.68H215.02V397.82H215.74V397.9H216.46V397.67H217.18V398.84H217.9V397.86H218.62V397.92H219.34V397.98H220.06V397.75H220.78V401.89H221.5V397.77H222.22V397.7H222.94V397.82H223.66V397.76H224.38V399.51H225.1V397.95H225.82V397.92H226.54V400.6H227.26V397.81H227.98V397.78H228.7V397.76H229.42V397.79H230.14V397.68H230.86V397.73H231.58V397.82H232.3V404.36ZM233.74 404.36V402.78H234.46V404.36ZM235.18 404.36V400.83H235.9V398.03H236.62V399.6H237.34V402.46H238.06V400.79H238.78V400.31H239.5V400.87H240.22V400.8H240.94V402.62H241.66V403.75H242.38V404.36ZM171.1 413.16V407.65H171.82V408.44H172.54V409.07H173.26V409.18H173.98V408.07H174.7V412.51H175.42V408.83H176.14V408.03H176.86V406.54H177.58V412.89H178.3V407.86H179.02V409.19H179.74V409.13H180.46V412.17H181.18V412.73H181.9V407.35H182.62V412.22H183.34V412.81H184.06V407.88H184.78V408.55H185.5V409.3H186.22V407.05H186.94V409.09H187.66V406.98H188.38V413.16ZM189.1 413.16V406.67H189.82V408.89H190.54V409.54H191.26V406.55H191.98V406.52H192.7V411.08H193.42V411.3H194.14V409.21H194.86V406.48H195.58V406.78H196.3V406.57H197.02V406.69H197.74V407.58H198.46V411.39H199.18V406.72H199.9V410.84H200.62V406.54H201.34V406.77H202.06V406.67H202.78V406.61H203.5V406.68H204.22V406.64H204.94V406.67H205.66V406.68H206.38V406.78H207.1V406.66H207.82V406.52H208.54V406.67H209.26V406.54H209.98V410.52H210.7V406.78H211.42V407.9H212.14V406.51H212.86V406.65H213.58V406.54H214.3V406.65H215.02V406.67H215.74V406.5H216.46V406.5H217.18V411.34H217.9V409.78H218.62V406.72H219.34V406.59H220.06V408.82H220.78V406.7H221.5V406.46H222.22V406.52H222.94V406.65H223.66V406.7H224.38V406.75H225.1V406.63H225.82V406.5H226.54V406.75H227.26V406.63H227.98V408.09H228.7V408.03H229.42V410.83H230.14V406.7H230.86V406.49H231.58V406.53H232.3V413.16ZM233.02 413.16V407.91H233.74V409.79H234.46V408.85H235.18V411.92H235.9V408.46H236.62V411.61H237.34V409.38H238.06V408.2H238.78V408.45H239.5V408.27H240.22V408.89H240.94V407.68H241.66V408.38H242.38V409.1H243.1V413.16ZM171.1 421.97V418.36H171.82V416.62H172.54V420.3H173.26V416.1H173.98V421.6H174.7V420.09H175.42V417.01H176.14V415.94H176.86V420.93H177.58V418.3H178.3V415.36H179.02V417.82H179.74V416.72H180.46V416.17H181.18V417.09H181.9V417.78H182.62V421.97ZM183.34 421.97V420.25H184.06V421.36H184.78V415.75H185.5V421.36H186.22V418.47H186.94V419.87H187.66V421.97ZM188.38 421.97V417.07H189.1V417.15H189.82V416.39H190.54V421.69H191.26V415.95H191.98V415.88H192.7V418.18H193.42V418.47H194.14V421.56H194.86V421.97ZM195.58 421.97V416.29H196.3V416.16H197.02V415.3H197.74V421.3H198.46V417.82H199.18V418.32H199.9V416.07H200.62V418.51H201.34V416.16H202.06V417.95H202.78V418.35H203.5V419.94H204.22V416.23H204.94V418.44H205.66V415.29H206.38V421.27H207.1V417.73H207.82V416.37H208.54V415.34H209.26V415.49H209.98V415.4H210.7V417.87H211.42V415.97H212.14V417.79H212.86V418.18H213.58V415.4H214.3V418.34H215.02V418.6H215.74V416.61H216.46V415.58H217.18V417.92H217.9V418.79H218.62V415.34H219.34V415.49H220.06V415.48H220.78V415.56H221.5V415.37H222.22V415.43H222.94V417.13H223.66V418.02H224.38V415.36H225.1V415.41H225.82V415.36H226.54V415.52H227.26V415.57H227.98V415.37H228.7V418.45H229.42V415.59H230.14V415.51H230.86V415.29H231.58V419.27H232.3V417.29H233.02V417H233.74V420.78H234.46V421.6H235.18V421.97ZM235.9 421.97V417.07H236.62V416.34H237.34V421.31H238.06V415.74H238.78V421.5H239.5V421.97ZM240.22 421.97V416.5H240.94V421.22H241.66V415.49H242.38V419.64H243.1V421.97ZM171.82 430.77V427.14H172.54V430.77ZM173.26 430.77V426.83H173.98V426.19H174.7V424.94H175.42V430.77ZM176.14 430.77V426.9H176.86V429.13H177.58V430.18H178.3V424.09H179.02V430.77ZM179.74 430.77V427.29H180.46V426.16H181.18V428.54H181.9V430.37H182.62V427.28H183.34V429.42H184.06V425.75H184.78V427.01H185.5V425.2H186.22V430.07H186.94V425.14H187.66V429.78H188.38V425.83H189.1V430.77ZM189.82 430.77V428.82H190.54V426.41H191.26V425.75H191.98V424.47H192.7V427.28H193.42V424.73H194.14V424.64H194.86V424.29H195.58V425.67H196.3V424.86H197.02V428.82H197.74V425.6H198.46V425.07H199.18V425.5H199.9V426.24H200.62V426.27H201.34V425.67H202.06V426.4H202.78V426.53H203.5V429.62H204.22V426.85H204.94V427.19H205.66V426.18H206.38V430.77ZM207.82 430.77V425.76H208.54V430.36H209.26V424.27H209.98V424.88H210.7V426.31H211.42V427.35H212.14V426.62H212.86V424.58H213.58V430.33H214.3V425.64H215.02V424.43H215.74V425.07H216.46V426.58H217.18V424.73H217.9V424.29H218.62V424.38H219.34V424.19H220.06V424.16H220.78V424.33H221.5V424.2H222.22V424.37H222.94V424.24H223.66V424.14H224.38V428.44H225.1V426.05H225.82V428.08H226.54V424.15H227.26V424.14H227.98V424.1H228.7V427.58H229.42V424.32H230.14V424.32H230.86V424.3H231.58V424.37H232.3V430.17H233.02V426.1H233.74V426.16H234.46V429.48H235.18V426.18H235.9V426.43H236.62V425.77H237.34V424.46H238.06V426.07H238.78V424.17H239.5V425.57H240.22V425.76H240.94V429.68H241.66V425.54H242.38V426.48H243.1V430.77ZM171.1 439.57V435.17H171.82V437.87H172.54V435.35H173.26V434.96H173.98V438.24H174.7V437.78H175.42V439.57ZM176.14 439.57V433.57H176.86V439.28H177.58V438.16H178.3V435.88H179.02V435.14H179.74V432.91H180.46V433.63H181.18V435.58H181.9V433.65H182.62V439.57ZM183.34 439.57V438.36H184.06V438.46H184.78V435.17H185.5V436.06H186.22V437.55H186.94V439.57ZM187.66 439.57V438H188.38V438.62H189.1V439.1H189.82V435.43H190.54V438.9H191.26V434.6H191.98V434.82H192.7V438.79H193.42V434.99H194.14V435.77H194.86V435.75H195.58V434.18H196.3V438.72H197.02V435.96H197.74V434.7H198.46V434.71H199.18V433.4H199.9V433.7H200.62V433.42H201.34V434.21H202.06V433.14H202.78V434.31H203.5V435.86H204.22V434.07H204.94V434.33H205.66V433.64H206.38V434.77H207.1V434.54H207.82V435.14H208.54V435.92H209.26V439H209.98V436.16H210.7V435.3H211.42V433.37H212.14V433.55H212.86V435.99H213.58V433.9H214.3V433.01H215.02V434.46H215.74V434.38H216.46V433.35H217.18V437.31H217.9V433.12H218.62V432.99H219.34V433.06H220.06V436.8H220.78V436.28H221.5V432.99H222.22V433.02H222.94V432.91H223.66V432.93H224.38V433.05H225.1V433.13H225.82V433H226.54V432.91H227.26V432.89H227.98V434.23H228.7V433.14H229.42V432.98H230.14V437.51H230.86V433.09H231.58V432.91H232.3V439.57ZM233.02 439.57V437.61H233.74V439.15H234.46V438.58H235.18V439.16H235.9V439.57ZM236.62 439.57V434.63H237.34V439.57ZM238.06 439.57V435.97H238.78V439.05H239.5V435.29H240.22V438.93H240.94V434.86H241.66V434.99H242.38V439.12H243.1V439.57ZM171.1 448.38V444.41H171.82V446.19H172.54V442.04H173.26V447.3H173.98V447.96H174.7V444.57H175.42V448.38ZM176.14 448.38V442.86H176.86V447H177.58V447.36H178.3V448.38ZM179.02 448.38V447.95H179.74V443.57H180.46V448.38ZM181.18 448.38V447.96H181.9V442.41H182.62V447.03H183.34V446.09H184.06V446.73H184.78V446.87H185.5V447.25H186.22V444.93H186.94V448.02H187.66V444.9H188.38V448.15H189.1V444.15H189.82V442.44H190.54V444H191.26V443.33H191.98V442.44H192.7V442.32H193.42V444.87H194.14V444.26H194.86V443.93H195.58V443.67H196.3V445H197.02V447.96H197.74V443.75H198.46V442.62H199.18V444.77H199.9V443.21H200.62V443.96H201.34V441.76H202.06V441.88H202.78V443.24H203.5V442.28H204.22V444.13H204.94V443.02H205.66V444.44H206.38V443.63H207.1V442.51H207.82V442.21H208.54V442.81H209.26V443.24H209.98V446.72H210.7V445.01H211.42V443.47H212.14V442.4H212.86V444.11H213.58V443.35H214.3V442.06H215.02V444.97H215.74V444.38H216.46V446.98H217.18V443.82H217.9V441.89H218.62V441.96H219.34V442.69H220.06V441.89H220.78V446.01H221.5V443.82H222.22V441.74H222.94V441.87H223.66V441.84H224.38V441.74H225.1V441.69H225.82V441.98H226.54V442.01H227.26V441.87H227.98V441.71H228.7V441.86H229.42V441.81H230.14V441.92H230.86V441.69H231.58V443.9H232.3V444.73H233.02V446.59H233.74V444.18H234.46V442.03H235.18V447.47H235.9V441.74H236.62V442.53H237.34V444.37H238.06V444.13H238.78V444.01H239.5V446.71H240.22V441.74H240.94V448.38ZM241.66 448.38V443.28H242.38V448.38ZM171.1 457.18V451.24H171.82V457.18ZM172.54 457.18V452.69H173.26V456.64H173.98V452.43H174.7V451.05H175.42V456.64H176.14V455.73H176.86V451.68H177.58V453.37H178.3V455.43H179.02V456.51H179.74V456.79H180.46V456.41H181.18V455.62H181.9V456.9H182.62V455.07H183.34V452.74H184.06V450.51H184.78V456.58H185.5V451.28H186.22V457.18ZM187.66 457.18V455.04H188.38V455.4H189.1V456.28H189.82V457.18ZM190.54 457.18V456.86H191.26V452.3H191.98V450.91H192.7V452.74H193.42V451.09H194.14V457.18ZM194.86 457.18V451.79H195.58V451.87H196.3V453.14H197.02V453.22H197.74V457.18ZM198.46 457.18V455.49H199.18V452.93H199.9V455.6H200.62V453.22H201.34V451.18H202.06V456.23H202.78V451.83H203.5V452.6H204.22V453.3H204.94V451.43H205.66V450.97H206.38V456.45H207.1V457.18ZM207.82 457.18V450.76H208.54V456.71H209.26V452.93H209.98V452.45H210.7V451.6H211.42V457.18ZM212.14 457.18V455.91H212.86V453.82H213.58V453.29H214.3V453.08H215.02V456.55H215.74V453.26H216.46V456.95H217.18V456.91H217.9V451.8H218.62V451.5H219.34V451.11H220.06V451.88H220.78V450.54H221.5V452.27H222.22V451.84H222.94V450.5H223.66V451.23H224.38V451.82H225.1V451.85H225.82V451.85H226.54V453.81H227.26V452H227.98V452.56H228.7V453.58H229.42V455.66H230.14V450.52H230.86V451.08H231.58V452H232.3V453.34H233.02V451.41H233.74V456.61H234.46V456.23H235.18V455.68H235.9V453.05H236.62V456.82H237.34V452.64H238.06V453.64H238.78V457.18ZM240.94 457.18V455.72H241.66V456.86H242.38V456.98H243.1V457.18ZM171.1 465.98V463.89H171.82V464H172.54V461.55H173.26V465.3H173.98V462.23H174.7V459.38H175.42V462.61H176.14V465.98ZM176.86 465.98V464.82H177.58V459.76H178.3V464.84H179.02V460.77H179.74V465.35H180.46V460.27H181.18V464.36H181.9V465.65H182.62V462.41H183.34V465.98ZM184.06 465.98V463.75H184.78V464.59H185.5V459.56H186.22V465.98ZM186.94 465.98V465.47H187.66V460.48H188.38V465.5H189.1V465.35H189.82V462.32H190.54V459.91H191.26V461.93H191.98V461.55H192.7V460.36H193.42V465.59H194.14V461.38H194.86V460.1H195.58V462.32H196.3V461.69H197.02V464.45H197.74V461.95H198.46V465.98ZM199.9 465.98V460.74H200.62V464.3H201.34V462.11H202.06V464.66H202.78V459.47H203.5V459.69H204.22V461.56H204.94V464.57H205.66V464.36H206.38V459.59H207.1V462.3H207.82V464.19H208.54V460.85H209.26V465.98ZM209.98 465.98V460.72H210.7V459.83H211.42V464.89H212.14V465.75H212.86V463.98H213.58V464.62H214.3V460.06H215.02V460.36H215.74V465.98ZM216.46 465.98V462.5H217.18V460.49H217.9V462.18H218.62V465.98ZM219.34 465.98V460.88H220.06V465.33H220.78V460.86H221.5V463.7H222.22V460.75H222.94V460.61H223.66V461.07H224.38V459.82H225.1V460.83H225.82V465.98ZM227.26 465.98V464.95H227.98V460.07H228.7V460.52H229.42V459.4H230.14V461.76H230.86V461.18H231.58V461.08H232.3V465.98ZM233.02 465.98V460.98H233.74V465.98ZM234.46 465.98V460.95H235.18V465.21H235.9V460.1H236.62V459.32H237.34V461.85H238.06V461.89H238.78V465.98ZM239.5 465.98V465.33H240.22V460.31H240.94V462.06H241.66V462.08H242.38V464.71H243.1V465.98ZM171.1 474.79V473.37H171.82V472.49H172.54V474.79ZM173.98 474.79V472.54H174.7V468.23H175.42V474.4H176.14V472.5H176.86V474.54H177.58V474.38H178.3V474.58H179.02V474.37H179.74V469.68H180.46V470.03H181.18V470.41H181.9V470.25H182.62V474.79ZM183.34 474.79V471.28H184.06V474.27H184.78V468.14H185.5V470.5H186.22V469.34H186.94V469.98H187.66V470.95H188.38V470.52H189.1V474.3H189.82V468.85H190.54V468.68H191.26V468.12H191.98V474.11H192.7V469.22H193.42V470.1H194.14V471.27H194.86V473.56H195.58V474.79ZM196.3 474.79V470.69H197.02V469.64H197.74V474.54H198.46V468.68H199.18V469.21H199.9V474.79ZM200.62 474.79V469.02H201.34V473.8H202.06V474.5H202.78V469.14H203.5V470.52H204.22V472.89H204.94V470.37H205.66V469.49H206.38V473.14H207.1V474.79ZM207.82 474.79V470.39H208.54V474.06H209.26V474.16H209.98V470.77H210.7V470H211.42V474.79ZM212.14 474.79V470.81H212.86V470.71H213.58V468.15H214.3V468.44H215.02V474.79ZM215.74 474.79V469.23H216.46V468.33H217.18V468.97H217.9V470.75H218.62V468.61H219.34V469.31H220.06V473.12H220.78V470.73H221.5V471.27H222.22V473.42H222.94V471.05H223.66V468.91H224.38V469.03H225.1V469.86H225.82V470.66H226.54V470.76H227.26V469.45H227.98V468.6H228.7V470.4H229.42V468.28H230.14V470.41H230.86V469.34H231.58V471.2H232.3V473.71H233.02V474.79ZM233.74 474.79V470.27H234.46V474.79ZM235.18 474.79V472.74H235.9V468.91H236.62V470.94H237.34V471.35H238.06V473.52H238.78V474.79ZM239.5 474.79V470.06H240.22V471.29H240.94V474.79ZM241.66 474.79V473.68H242.38V473.46H243.1V474.79ZM171.1 483.59V483.31H171.82V482.18H172.54V482.16H173.26V483.59ZM174.7 483.59V479.72H175.42V483.07H176.14V483.59ZM177.58 483.59V478.16H178.3V483.59ZM179.02 483.59V482.19H179.74V483.33H180.46V478.05H181.18V478.28H181.9V482.22H182.62V483.22H183.34V478.81H184.06V483.31H184.78V483.17H185.5V479.53H186.22V483.3H186.94V482.86H187.66V482.77H188.38V480.44H189.1V483.59ZM189.82 483.59V479.78H190.54V481.73H191.26V483.59ZM191.98 483.59V482.7H192.7V483.59ZM194.14 483.59V478.89H194.86V482.76H195.58V477.95H196.3V477.92H197.02V479.29H197.74V481.85H198.46V480.48H199.18V482.87H199.9V479.09H200.62V479.11H201.34V482.94H202.06V481.99H202.78V481.52H203.5V481.88H204.22V482.65H204.94V477.89H205.66V479.31H206.38V479.36H207.1V483.59ZM207.82 483.59V480.49H208.54V479.24H209.26V483.18H209.98V483.06H210.7V483.33H211.42V482.32H212.14V483.34H212.86V483.39H213.58V480.14H214.3V483.59ZM216.46 483.59V477.99H217.18V483.59ZM217.9 483.59V479.76H218.62V477.6H219.34V477.94H220.06V478.59H220.78V477.71H221.5V478.93H222.22V483.59ZM222.94 483.59V479.75H223.66V478.63H224.38V482.28H225.1V477.05H225.82V477.02H226.54V477.73H227.26V477.68H227.98V483.25H228.7V478.68H229.42V479.39H230.14V477.27H230.86V481.89H231.58V477.13H232.3V483.03H233.02V483.59ZM233.74 483.59V478.16H234.46V481.83H235.18V482.4H235.9V478.97H236.62V479.52H237.34V480.19H238.06V483.32H238.78V483.59ZM240.22 483.59V480.55H240.94V483.59ZM171.1 492.39V490.48H171.82V490.55H172.54V492.39ZM173.26 492.39V486.93H173.98V491.18H174.7V491.8H175.42V487.17H176.14V492.39ZM176.86 492.39V488.98H177.58V492.17H178.3V489.17H179.02V488.94H179.74V487.35H180.46V492.19H181.18V492.17H181.9V492.39ZM182.62 492.39V488.1H183.34V492.39ZM184.06 492.39V491.4H184.78V492.39ZM185.5 492.39V491.9H186.22V492.39ZM186.94 492.39V491.51H187.66V492.39ZM188.38 492.39V491.09H189.1V492.39ZM189.82 492.39V490.73H190.54V492.19H191.26V486.68H191.98V491.76H192.7V486.39H193.42V486.37H194.14V488.49H194.86V490.99H195.58V488.36H196.3V487.42H197.02V492.04H197.74V492.39ZM198.46 492.39V490.51H199.18V488.63H199.9V488.7H200.62V486.96H201.34V491.54H202.06V491.3H202.78V491.6H203.5V492.39ZM204.94 492.39V491.95H205.66V490.59H206.38V486.57H207.1V487.59H207.82V491.93H208.54V487.34H209.26V491.33H209.98V491.62H210.7V490.47H211.42V487.49H212.14V488.76H212.86V488.65H213.58V486.92H214.3V489.11H215.02V488.01H215.74V488.16H216.46V487.74H217.18V492.39ZM217.9 492.39V488.95H218.62V491.05H219.34V491.37H220.06V491.87H220.78V492.39ZM222.94 492.39V488.16H223.66V492.15H224.38V487.96H225.1V486.03H225.82V492.39ZM226.54 492.39V487.57H227.26V487.07H227.98V488.59H228.7V487.39H229.42V488.8H230.14V486.7H230.86V487.51H231.58V488H232.3V488.18H233.02V492.39ZM233.74 492.39V491.93H234.46V492.04H235.18V488.51H235.9V487.93H236.62V492.39ZM237.34 492.39V491.72H238.06V492.39ZM238.78 492.39V489.22H239.5V490.52H240.22V492.12H240.94V491.58H241.66V492.07H242.38V492.39ZM171.1 501.2V500.74H171.82V500.44H172.54V499.8H173.26V500.69H173.98V500.55H174.7V499.47H175.42V500.32H176.14V500.69H176.86V497.06H177.58V498.06H178.3V496.88H179.02V500.8H179.74V500.56H180.46V500.21H181.18V500.81H181.9V499.33H182.62V500.8H183.34V497.22H184.06V497.29H184.78V500.89H185.5V499.82H186.22V497.09H186.94V501.2ZM188.38 501.2V495.9H189.1V496.07H189.82V496.23H190.54V501.2ZM191.26 501.2V497.21H191.98V497.95H192.7V499.69H193.42V497.43H194.14V496.03H194.86V496.02H195.58V500.99H196.3V497.2H197.02V496.5H197.74V501.2ZM198.46 501.2V500.17H199.18V498.13H199.9V499.68H200.62V499.52H201.34V499.85H202.06V500.57H202.78V500.89H203.5V496.58H204.22V497.68H204.94V496.13H205.66V497.26H206.38V501.2ZM207.1 501.2V496.7H207.82V496.28H208.54V499.96H209.26V496.25H209.98V496.78H210.7V500.84H211.42V501.2ZM212.14 501.2V499.71H212.86V501.2ZM213.58 501.2V499.15H214.3V499.49H215.02V497.52H215.74V497.19H216.46V499.43H217.18V495.89H217.9V501.2ZM219.34 501.2V495H220.06V500.09H220.78V500.07H221.5V495.41H222.22V499.61H222.94V498.98H223.66V496H224.38V494.96H225.1V497.58H225.82V496.6H226.54V495.78H227.26V496.62H227.98V500.34H228.7V499.66H229.42V499.4H230.14V494.5H230.86V497.15H231.58V496.14H232.3V499.93H233.02V497.73H233.74V495.69H234.46V500.85H235.18V499.41H235.9V500.52H236.62V501.2ZM238.06 501.2V499.89H238.78V500.32H239.5V500.4H240.22V496.33H240.94V501.2ZM242.38 501.2V497.5H243.1V501.2ZM171.1 510V508.88H171.82V510ZM172.54 510V508.9H173.26V506.06H173.98V504.44H174.7V508.94H175.42V508.36H176.14V510ZM176.86 510V507.08H177.58V508.47H178.3V507.1H179.02V510ZM179.74 510V504.33H180.46V509.24H181.18V509.75H181.9V508.92H182.62V508.55H183.34V505.69H184.06V509.14H184.78V510ZM185.5 510V507.09H186.22V508.77H186.94V507.1H187.66V510ZM189.82 510V504.43H190.54V510ZM191.26 510V508.85H191.98V506.33H192.7V509.2H193.42V508.64H194.14V504.8H194.86V506.43H195.58V508.49H196.3V510ZM197.74 510V508.83H198.46V510ZM199.18 510V505.09H199.9V506.26H200.62V505.94H201.34V510ZM202.06 510V504.42H202.78V504.55H203.5V510ZM204.22 510V509.73H204.94V509.52H205.66V504.79H206.38V510ZM207.1 510V506.19H207.82V505.58H208.54V504.85H209.26V508.5H209.98V504.97H210.7V505.51H211.42V505.61H212.14V508.36H212.86V510ZM213.58 510V509.66H214.3V506.63H215.02V509.75H215.74V505.61H216.46V504.8H217.18V508.99H217.9V506.13H218.62V510ZM219.34 510V509.55H220.06V507.72H220.78V509.49H221.5V509.43H222.22V508.12H222.94V505.04H223.66V510ZM224.38 510V504.62H225.1V508.99H225.82V504.93H226.54V505.85H227.26V510ZM227.98 510V509.38H228.7V510ZM229.42 510V505.59H230.14V508.81H230.86V503.99H231.58V510ZM232.3 510V504.88H233.02V509.64H233.74V508.42H234.46V504.9H235.18V510ZM235.9 510V505.19H236.62V509.01H237.34V510ZM238.06 510V505.07H238.78V509.02H239.5V510ZM240.22 510V509.29H240.94V509.66H241.66V510ZM242.38 510V509.76H243.1V510Z" fill="#2d2d2d"/>
<rect x="248.3" y="236.3" width="72.7" height="273.1" fill="none" stroke="#a0a0a0" stroke-width="0.9"/>
<path d="M248.3 253.3H321M248.3 262.13H321M248.3 270.96H321M248.3 279.79H321M248.3 288.62H321M248.3 297.46H321M248.3 306.29H321M248.3 315.12H321M248.3 323.95H321M248.3 332.78H321M248.3 341.61H321M248.3 350.44H321M248.3 359.27H321M248.3 368.1H321M248.3 376.93H321M248.3 385.77H321M248.3 394.6H321M248.3 403.43H321M248.3 412.26H321M248.3 421.09H321M248.3 429.92H321M248.3 438.75H321M248.3 447.58H321M248.3 456.41H321M248.3 465.24H321M248.3 474.08H321M248.3 482.91H321M248.3 491.74H321M248.3 500.57H321M248.3 509.4H321" stroke="#444" stroke-width="1.0" fill="none"/>
<path d="M249.02 253.3V249.2H249.74V252.02H250.46V251.67H251.18V249.03H251.9V253.3ZM252.62 253.3V252.68H253.34V253.3ZM254.06 253.3V251.91H254.78V251.91H255.5V248.45H256.22V253.3ZM256.94 253.3V251.61H257.66V252.15H258.38V253.3ZM259.1 253.3V251.2H259.82V252.82H260.54V252.38H261.26V252.69H261.98V253H262.7V252.57H263.42V252.87H264.14V253.3ZM264.86 253.3V251.69H265.58V252.79H266.3V249.1H267.01V253.3ZM268.45 253.3V252.83H269.17V252.54H269.89V253.3ZM270.61 253.3V252.84H271.33V251.4H272.05V253.3ZM272.77 253.3V249.78H273.49V251.92H274.21V247.74H274.93V252.14H275.65V252.6H276.37V249.09H277.09V253.3ZM277.81 253.3V252.26H278.53V251.58H279.25V248.86H279.97V252.02H280.69V252.07H281.41V252.61H282.13V252.95H282.85V252.51H283.57V247.68H284.29V248.78H285.01V252.27H285.73V253.3ZM286.45 253.3V247.83H287.17V253.3ZM287.89 253.3V247.67H288.61V251.96H289.33V252.85H290.05V248.8H290.77V252.83H291.49V249.69H292.21V252.1H292.93V247.99H293.65V252.84H294.37V251.25H295.09V246.64H295.81V246.83H296.53V246.85H297.25V246.85H297.97V246.82H298.69V246.79H299.41V246.88H300.13V246.69H300.85V246.65H301.57V246.62H302.29V246.67H303V246.72H303.72V246.69H304.44V246.76H305.16V246.65H305.88V253.04H306.6V253.3ZM307.32 253.3V253.06H308.04V252.26H308.76V251.63H309.48V250.27H310.2V252.91H310.92V251.79H311.64V252.47H312.36V253.3ZM313.08 253.3V248.47H313.8V253.3ZM314.52 253.3V250H315.24V253.3ZM316.68 253.3V249.87H317.4V250.34H318.12V252.38H318.84V248.46H319.56V253.3ZM320.28 253.3V252.42H321V253.3ZM248.3 262.13V260.81H249.02V258.76H249.74V261.19H250.46V261.81H251.18V261.59H251.9V260.39H252.62V261.82H253.34V259.85H254.06V261.16H254.78V262.13ZM255.5 262.13V255.6H256.22V258.74H256.94V262.13ZM257.66 262.13V257.9H258.38V261.89H259.1V262.13ZM259.82 262.13V260.07H260.54V257.18H261.26V257.48H261.98V261.82H262.7V260.6H263.42V261.17H264.14V260.06H264.86V256.06H265.58V255.6H266.3V255.75H267.01V255.58H267.73V255.71H268.45V255.73H269.17V255.61H269.89V259.13H270.61V255.63H271.33V255.51H272.05V256.48H272.77V261.38H273.49V256.62H274.21V257.38H274.93V261.12H275.65V257.35H276.37V256.96H277.09V262.13ZM277.81 262.13V256.93H278.53V258.22H279.25V259.81H279.97V262.13ZM280.69 262.13V261.93H281.41V260.78H282.13V257.45H282.85V259.96H283.57V262.13ZM284.29 262.13V258.69H285.01V258.53H285.73V260.01H286.45V257.94H287.17V261.71H287.89V261.71H288.61V261.44H289.33V257.39H290.05V256.11H290.77V258.6H291.49V257.37H292.21V255.81H292.93V255.47H293.65V255.67H294.37V255.71H295.09V255.48H295.81V255.56H296.53V255.7H297.25V258.77H297.97V255.72H298.69V255.72H299.41V255.6H300.13V255.67H300.85V255.5H301.57V255.5H302.29V255.63H303V255.57H303.72V255.76H304.44V255.62H305.16V255.75H305.88V257.06H306.6V262.13ZM308.04 262.13V257.57H308.76V258.33H309.48V257.71H310.2V260.93H310.92V261.29H311.64V258.55H312.36V257.37H313.08V261.46H313.8V262.13ZM314.52 262.13V257.48H315.24V258.58H315.96V262.13ZM316.68 262.13V258.46H317.4V261.45H318.12V255.56H318.84V262.13ZM319.56 262.13V261.65H320.28V257.81H321V262.13ZM248.3 270.96V268.66H249.02V268.86H249.74V265.36H250.46V265.77H251.18V266.53H251.9V267.33H252.62V270.96ZM255.5 270.96V266.94H256.22V265.87H256.94V270.96ZM257.66 270.96V265.2H258.38V265.58H259.1V270.96ZM259.82 270.96V266.64H260.54V266.97H261.26V269.69H261.98V266.05H262.7V270.96ZM263.42 270.96V267.4H264.14V269.95H264.86V269.78H265.58V264.58H266.3V264.53H267.01V264.6H267.73V264.4H268.45V264.5H269.17V264.42H269.89V264.46H270.61V264.35H271.33V264.32H272.05V270.96ZM272.77 270.96V265.07H273.49V269.79H274.21V270.96ZM274.93 270.96V265.79H275.65V269.69H276.37V270.11H277.09V266.98H277.81V267.08H278.53V269.38H279.25V266.32H279.97V264.56H280.69V264.58H281.41V269.92H282.13V264.44H282.85V266.07H283.57V269.99H284.29V270.96ZM285.01 270.96V270.22H285.73V269.16H286.45V270.45H287.17V269.88H287.89V265.28H288.61V265.34H289.33V270.96ZM290.05 270.96V264.92H290.77V270.62H291.49V270.96ZM292.21 270.96V264.5H292.93V270.55H293.65V264.32H294.37V264.28H295.09V264.53H295.81V264.51H296.53V264.45H297.25V264.29H297.97V264.57H298.69V264.47H299.41V264.55H300.13V264.43H300.85V264.37H301.57V264.31H302.29V265.75H303V264.39H303.72V264.38H304.44V264.3H305.16V264.36H305.88V267.12H306.6V264.83H307.32V266.53H308.04V270.96ZM308.76 270.96V265.54H309.48V265.03H310.2V264.3H310.92V270.96ZM311.64 270.96V268.73H312.36V265.67H313.08V267.19H313.8V270.74H314.52V268.99H315.24V270.56H315.96V268.69H316.68V265.84H317.4V270.96ZM319.56 270.96V265.75H320.28V265.03H321V270.96ZM249.02 279.79V273.7H249.74V277.85H250.46V279.79ZM251.18 279.79V274.77H251.9V278.29H252.62V273.61H253.34V273.23H254.06V276.27H254.78V279.29H255.5V279.54H256.22V279.24H256.94V279.79ZM257.66 279.79V274.03H258.38V277.74H259.1V279.27H259.82V274.29H260.54V276.42H261.26V276.4H261.98V279.4H262.7V275.42H263.42V278.45H264.14V278.11H264.86V277.87H265.58V273.19H266.3V273.22H267.01V273.29H267.73V273.24H268.45V273.35H269.17V273.28H269.89V277.63H270.61V273.09H271.33V273.29H272.05V278.56H272.77V274.03H273.49V278.8H274.21V276.24H274.93V273.69H275.65V274.95H276.37V274.73H277.09V279.2H277.81V274.84H278.53V273.83H279.25V276.43H279.97V278.93H280.69V276.41H281.41V274.73H282.13V279.79ZM282.85 279.79V274H283.57V279.79ZM284.29 279.79V279.17H285.01V275.12H285.73V277.46H286.45V279.15H287.17V273.2H287.89V273.78H288.61V274.85H289.33V273.3H290.05V273.68H290.77V275.66H291.49V278.95H292.21V273.98H292.93V279.16H293.65V273.12H294.37V273.18H295.09V273.33H295.81V273.29H296.53V273.18H297.25V273.36H297.97V273.29H298.69V273.24H299.41V273.32H300.13V273.36H300.85V273.33H301.57V273.35H302.29V273.22H303V273.42H303.72V273.29H304.44V273.17H305.16V273.31H305.88V279.79ZM306.6 279.79V277.66H307.32V277.63H308.04V279.79ZM308.76 279.79V275.43H309.48V274.76H310.2V279.79ZM310.92 279.79V274.42H311.64V279.01H312.36V279.79ZM313.8 279.79V278.96H314.52V278.94H315.24V278.73H315.96V279.79ZM316.68 279.79V273.1H317.4V279.79ZM318.84 279.79V276.02H319.56V273.49H320.28V279.79ZM248.3 288.62V284.88H249.02V282.94H249.74V288.39H250.46V287.64H251.18V288.62ZM251.9 288.62V287.21H252.62V288.62ZM253.34 288.62V287.9H254.06V282.85H254.78V288.16H255.5V287.82H256.22V288.62ZM256.94 288.62V286.45H257.66V283.84H258.38V283.53H259.1V286.95H259.82V288.62ZM260.54 288.62V287.73H261.26V286.51H261.98V283.79H262.7V288.29H263.42V287.61H264.14V283.05H264.86V283.54H265.58V282.02H266.3V286.71H267.01V282.2H267.73V285.45H268.45V282.08H269.17V282.07H269.89V282.02H270.61V282.17H271.33V282.16H272.05V284.76H272.77V281.99H273.49V287.61H274.21V287.21H274.93V283.15H275.65V283.99H276.37V288.36H277.09V288.62ZM277.81 288.62V283.1H278.53V288.62ZM279.25 288.62V284H279.97V284.17H280.69V283.04H281.41V286.85H282.13V286.48H282.85V282.6H283.57V288.39H284.29V282.23H285.01V282.46H285.73V284.47H286.45V282.91H287.17V283.35H287.89V287.54H288.61V284.91H289.33V282.86H290.05V286.9H290.77V288.62ZM292.21 288.62V287.09H292.93V288.62ZM293.65 288.62V282.14H294.37V282.04H295.09V282.18H295.81V282.24H296.53V282.16H297.25V281.99H297.97V282.1H298.69V282H299.41V281.97H300.13V282.06H300.85V282.2H301.57V282.07H302.29V282.04H303V283.42H303.72V282.25H304.44V281.97H305.16V282.14H305.88V283.32H306.6V288.62ZM307.32 288.62V283.92H308.04V288.62ZM308.76 288.62V283.34H309.48V288.62ZM310.2 288.62V286.98H310.92V286.53H311.64V282.07H312.36V284.93H313.08V288.33H313.8V288.26H314.52V286.62H315.24V281.94H315.96V288.34H316.68V288.62ZM317.4 288.62V283.4H318.12V286.28H318.84V286.84H319.56V287.08H320.28V282.54H321V288.62ZM248.3 297.46V296.24H249.02V297.46ZM250.46 297.46V296.2H251.18V291.12H251.9V291.12H252.62V296.57H253.34V292.5H254.06V297.46ZM254.78 297.46V291.03H255.5V297.46ZM256.22 297.46V292.19H256.94V297.46ZM258.38 297.46V293.78H259.1V295.67H259.82V293.67H260.54V291.61H261.26V296.79H261.98V296.71H262.7V296.99H263.42V295.25H264.14V292.8H264.86V295.97H265.58V290.97H266.3V290.92H267.01V291.03H267.73V291.08H268.45V290.8H269.17V294.23H269.89V290.94H270.61V290.97H271.33V292.94H272.05V297.46ZM272.77 297.46V293.34H273.49V296.82H274.21V293.36H274.93V290.8H275.65V296.61H276.37V293.53H277.09V293.13H277.81V296.86H278.53V296.47H279.25V296H279.97V295.39H280.69V291.29H281.41V292.7H282.13V296.79H282.85V297.46ZM283.57 297.46V292.23H284.29V292.17H285.01V297.17H285.73V292.49H286.45V296.22H287.17V292.2H287.89V291.19H288.61V296.43H289.33V291.07H290.05V293.41H290.77V297.46ZM291.49 297.46V292.45H292.21V296.77H292.93V292.06H293.65V290.9H294.37V290.83H295.09V290.94H295.81V291.02H296.53V291.01H297.25V290.81H297.97V290.85H298.69V290.81H299.41V290.82H300.13V291.04H300.85V290.94H301.57V290.9H302.29V290.97H303V290.87H303.72V290.98H304.44V290.9H305.16V290.95H305.88V292.64H306.6V292.52H307.32V296.66H308.04V296.23H308.76V291.8H309.48V297.2H310.2V293.29H310.92V297.21H311.64V296.78H312.36V296.27H313.08V296.3H313.8V296.28H314.52V295.42H315.24V297.23H315.96V297.46ZM316.68 297.46V295.49H317.4V293.22H318.12V297.46ZM318.84 297.46V293.58H319.56V293.28H320.28V297.46ZM248.3 306.29V302.38H249.02V305.76H249.74V299.83H250.46V306.29ZM251.18 306.29V301.79H251.9V300.55H252.62V305.12H253.34V306.29ZM254.06 306.29V305.68H254.78V305.98H255.5V306H256.22V305.79H256.94V305.71H257.66V304.07H258.38V306.29ZM259.1 306.29V301.21H259.82V306.29ZM261.26 306.29V305.74H261.98V306.29ZM262.7 306.29V306.05H263.42V301.46H264.14V306.29ZM264.86 306.29V306.04H265.58V299.77H266.3V299.85H267.01V299.86H267.73V301.25H268.45V299.83H269.17V299.61H269.89V299.79H270.61V302.48H271.33V299.68H272.05V305.63H272.77V302.9H273.49V301.28H274.21V302.72H274.93V302.65H275.65V304.96H276.37V304.08H277.09V301.32H277.81V304.94H278.53V306.29ZM279.25 306.29V299.72H279.97V302.04H280.69V306.29ZM281.41 306.29V305.6H282.13V304.55H282.85V301.7H283.57V299.83H284.29V304.82H285.01V300.44H285.73V302.73H286.45V301.58H287.17V300.34H287.89V305.41H288.61V300.7H289.33V302.03H290.05V301.27H290.77V304.18H291.49V305.04H292.21V302.59H292.93V305.85H293.65V299.84H294.37V299.7H295.09V299.84H295.81V299.62H296.53V299.74H297.25V299.68H297.97V301.71H298.69V299.83H299.41V299.75H300.13V299.91H300.85V299.71H301.57V299.59H302.29V299.79H303V299.73H303.72V299.61H304.44V299.76H305.16V299.63H305.88V302.22H306.6V304.81H307.32V305.25H308.04V304.88H308.76V306.29ZM309.48 306.29V305.06H310.2V301.14H310.92V302.79H311.64V305.32H312.36V305.75H313.08V305.36H313.8V305.48H314.52V305.65H315.24V301.98H315.96V301.33H316.68V305.07H317.4V300.12H318.12V305.86H318.84V300.36H319.56V301.23H320.28V302.91H321V306.29ZM248.3 315.12V309.17H249.02V310.22H249.74V309.09H250.46V309.83H251.18V313.18H251.9V315.12ZM252.62 315.12V312.92H253.34V309.95H254.06V311.21H254.78V314.36H255.5V314.52H256.22V313.84H256.94V315.12ZM257.66 315.12V310.16H258.38V314.35H259.1V309.28H259.82V311.48H260.54V311.57H261.26V309.8H261.98V311.32H262.7V312.86H263.42V309.85H264.14V311.51H264.86V311.33H265.58V308.73H266.3V308.47H267.01V308.51H267.73V308.62H268.45V308.74H269.17V308.59H269.89V308.46H270.61V308.75H271.33V310.76H272.05V313.74H272.77V314.85H273.49V314.26H274.21V313.83H274.93V314.61H275.65V311.63H276.37V309.92H277.09V314.86H277.81V311.43H278.53V314.92H279.25V314.52H279.97V310.96H280.69V314.67H281.41V310.65H282.13V314.73H282.85V314.78H283.57V314.04H284.29V310.42H285.01V314.15H285.73V308.63H286.45V312.79H287.17V311.09H287.89V311.33H288.61V314.63H289.33V310.01H290.05V315.12ZM291.49 315.12V314.16H292.21V308.57H292.93V311.73H293.65V308.48H294.37V308.61H295.09V308.6H295.81V308.54H296.53V308.49H297.25V308.45H297.97V308.46H298.69V308.46H299.41V308.69H300.13V308.42H300.85V308.56H301.57V308.54H302.29V308.51H303V308.74H303.72V308.72H304.44V308.61H305.16V308.62H305.88V313.95H306.6V313.52H307.32V310.52H308.04V310.72H308.76V309.52H309.48V314.18H310.2V309.17H310.92V315.12ZM311.64 315.12V308.62H312.36V309.72H313.08V310.07H313.8V314.57H314.52V315.12ZM315.24 315.12V314.81H315.96V312.82H316.68V310.07H317.4V314.28H318.12V314.19H318.84V314.7H319.56V313.62H320.28V311.56H321V315.12ZM248.3 323.95V322.9H249.02V323.95ZM249.74 323.95V318.5H250.46V318.11H251.18V322.33H251.9V323.95ZM252.62 323.95V322.78H253.34V321.9H254.06V323.95ZM254.78 323.95V321.82H255.5V323.53H256.22V319.78H256.94V323.52H257.66V322.71H258.38V319.56H259.1V323.63H259.82V323.19H260.54V322.83H261.26V323.32H261.98V323.95ZM262.7 323.95V320.45H263.42V319.36H264.14V322.07H264.86V323.95ZM265.58 323.95V317.26H266.3V317.5H267.01V318.77H267.73V317.3H268.45V317.49H269.17V317.57H269.89V317.57H270.61V317.4H271.33V318.43H272.05V318.34H272.77V322.15H273.49V319.21H274.21V318.88H274.93V318.94H275.65V322.92H276.37V323.61H277.09V319.47H277.81V319.42H278.53V317.84H279.25V320.2H279.97V320.11H280.69V323.95ZM281.41 323.95V317.72H282.13V322.53H282.85V319.95H283.57V319.87H284.29V320.28H285.01V323.95ZM285.73 323.95V322.51H286.45V319.62H287.17V319.33H287.89V322.4H288.61V317.59H289.33V318.95H290.05V323.95ZM290.77 323.95V317.55H291.49V323.02H292.21V318.56H292.93V318.88H293.65V317.55H294.37V317.48H295.09V317.36H295.81V317.5H296.53V317.4H297.25V317.3H297.97V317.53H298.69V317.38H299.41V317.55H300.13V317.3H300.85V317.52H301.57V317.58H302.29V317.47H303V317.3H303.72V317.36H304.44V317.4H305.16V317.5H305.88V317.37H306.6V322.95H307.32V322.53H308.04V323.95ZM308.76 323.95V323.62H309.48V322.77H310.2V323.33H310.92V318.06H311.64V323.95ZM312.36 323.95V319.03H313.08V322.89H313.8V317.53H314.52V323.95ZM315.24 323.95V322.03H315.96V319.65H316.68V323.73H317.4V317.97H318.12V323.49H318.84V323.95ZM319.56 323.95V323.37H320.28V321.73H321V323.95ZM248.3 332.78V331.65H249.02V327.8H249.74V326.38H250.46V328.71H251.18V326.54H251.9V331.14H252.62V331.44H253.34V326.77H254.06V328.5H254.78V332.78ZM255.5 332.78V331.95H256.22V332.78ZM256.94 332.78V332.48H257.66V332.39H258.38V331.71H259.1V331.61H259.82V327.32H260.54V332.78ZM261.26 332.78V330.6H261.98V327.2H262.7V328.02H263.42V332.19H264.14V330.9H264.86V332H265.58V326.15H266.3V328.93H267.01V326.09H267.73V326.21H268.45V326.28H269.17V326.08H269.89V330.41H270.61V326.27H271.33V329.4H272.05V332.78ZM273.49 332.78V326.2H274.21V332.09H274.93V328.92H275.65V331.16H276.37V328.99H277.09V328.59H277.81V329.22H278.53V327.94H279.25V328.31H279.97V326.73H280.69V327.87H281.41V331.78H282.13V327.92H282.85V326.98H283.57V326.69H284.29V328.88H285.01V332.78ZM285.73 332.78V327.64H286.45V327.26H287.17V326.1H287.89V326.92H288.61V327.45H289.33V332.29H290.05V328.68H290.77V332.78ZM291.49 332.78V328.39H292.21V328.74H292.93V328.27H293.65V326.29H294.37V326.38H295.09V326.28H295.81V326.09H296.53V326.34H297.25V326.13H297.97V326.25H298.69V326.18H299.41V326.4H300.13V326.1H300.85V326.32H301.57V326.41H302.29V326.2H303V326.28H303.72V326.1H304.44V326.3H305.16V326.37H305.88V332.78ZM306.6 332.78V327.34H307.32V326.36H308.04V331.24H308.76V330.79H309.48V332.78ZM310.2 332.78V328.28H310.92V326.51H311.64V330.58H312.36V327.46H313.08V332.3H313.8V331.96H314.52V331.02H315.24V327.33H315.96V331.45H316.68V332.19H317.4V327.14H318.12V332.78ZM318.84 332.78V330.85H319.56V329H320.28V332.06H321V332.78ZM248.3 341.61V337.61H249.02V340.26H249.74V335.03H250.46V335.95H251.18V339.7H251.9V335.94H252.62V337.85H253.34V337.83H254.06V337.09H254.78V340.67H255.5V336.6H256.22V336.08H256.94V336.99H257.66V335.83H258.38V341.08H259.1V335.46H259.82V341.61ZM261.26 341.61V337.01H261.98V337.36H262.7V341.61ZM263.42 341.61V336.46H264.14V341.61ZM264.86 341.61V341.32H265.58V335.2H266.3V335.04H267.01V335.13H267.73V335.04H268.45V334.96H269.17V335.21H269.89V335.22H270.61V334.94H271.33V335.19H272.05V338.59H272.77V335.03H273.49V335.16H274.21V335H274.93V339.13H275.65V334.92H276.37V335.09H277.09V341.61ZM277.81 341.61V337.34H278.53V337.34H279.25V336.84H279.97V337.68H280.69V335.35H281.41V335.78H282.13V341.39H282.85V336.85H283.57V341.61ZM284.29 341.61V337.54H285.01V341.61ZM285.73 341.61V337.06H286.45V335.21H287.17V335.69H287.89V335.21H288.61V339.96H289.33V335.43H290.05V336.28H290.77V337.7H291.49V336.05H292.21V335.32H292.93V337.03H293.65V338.1H294.37V335.15H295.09V334.99H295.81V335.12H296.53V335.19H297.25V335.01H297.97V335.22H298.69V334.96H299.41V334.92H300.13V334.93H300.85V335.22H301.57V336.51H302.29V334.94H303V334.95H303.72V334.94H304.44V335.21H305.16V335.02H305.88V334.95H306.6V335.13H307.32V335.14H308.04V336.47H308.76V337.75H309.48V339.88H310.2V340.77H310.92V341.22H311.64V339.47H312.36V336.53H313.08V336.83H313.8V336.02H314.52V341.61ZM315.96 341.61V339.82H316.68V340.96H317.4V341.3H318.12V341.09H318.84V339.97H319.56V339.67H320.28V340.5H321V341.61ZM248.3 350.44V344.08H249.02V344.22H249.74V350.08H250.46V345.2H251.18V349.72H251.9V350.44ZM252.62 350.44V346.82H253.34V350.08H254.06V349.12H254.78V349.96H255.5V344.16H256.22V344.48H256.94V349.88H257.66V346.95H258.38V349.65H259.1V350.13H259.82V346.71H260.54V350.13H261.26V349.61H261.98V350.44ZM262.7 350.44V348.83H263.42V346.12H264.14V346.77H264.86V343.98H265.58V345.73H266.3V345.04H267.01V343.81H267.73V343.79H268.45V343.84H269.17V343.96H269.89V344.08H270.61V343.84H271.33V343.89H272.05V345.28H272.77V343.84H273.49V343.86H274.21V347.28H274.93V344H275.65V348.73H276.37V343.82H277.09V349.56H277.81V350.44ZM278.53 350.44V345.47H279.25V345.2H279.97V344.52H280.69V349.77H281.41V346.75H282.13V346.7H282.85V349.92H283.57V350.44ZM284.29 350.44V345.1H285.01V343.87H285.73V349.9H286.45V346.18H287.17V344.18H287.89V346.03H288.61V345.99H289.33V346.4H290.05V344.65H290.77V344H291.49V346.54H292.21V345.73H292.93V344.46H293.65V346.6H294.37V343.99H295.09V343.75H295.81V343.78H296.53V343.97H297.25V343.8H297.97V343.89H298.69V343.79H299.41V343.84H300.13V343.94H300.85V343.97H301.57V343.94H302.29V343.98H303V343.74H303.72V344H304.44V343.83H305.16V343.87H305.88V343.81H306.6V343.79H307.32V343.93H308.04V348.89H308.76V349.07H309.48V346.3H310.2V344.36H310.92V350.44ZM311.64 350.44V346.46H312.36V349.24H313.08V350.15H313.8V346H314.52V343.75H315.24V350.17H315.96V344.29H316.68V350.44ZM317.4 350.44V345.53H318.12V348.4H318.84V349.97H319.56V346.09H320.28V343.82H321V350.44ZM248.3 359.27V358.79H249.02V354.41H249.74V359.27ZM250.46 359.27V353.12H251.18V358.28H251.9V359.27ZM252.62 359.27V354.54H253.34V355.59H254.06V352.97H254.78V354.27H255.5V357.98H256.22V354.81H256.94V353.61H257.66V355.7H258.38V355.81H259.1V357.48H259.82V353.78H260.54V354.59H261.26V353.33H261.98V352.6H262.7V353.19H263.42V354.03H264.14V355.39H264.86V357.89H265.58V352.73H266.3V352.6H267.01V352.66H267.73V352.84H268.45V352.76H269.17V352.79H269.89V352.76H270.61V356.13H271.33V352.74H272.05V356.8H272.77V352.63H273.49V352.74H274.21V352.7H274.93V356.67H275.65V352.59H276.37V352.59H277.09V354.55H277.81V352.65H278.53V355.49H279.25V352.76H279.97V353.55H280.69V357.63H281.41V353.11H282.13V358.81H282.85V355.02H283.57V354.62H284.29V355.58H285.01V359.27ZM285.73 359.27V352.99H286.45V355.6H287.17V359.27ZM287.89 359.27V353.35H288.61V355.28H289.33V355.38H290.05V353.83H290.77V355.55H291.49V354.65H292.21V354.35H292.93V353.66H293.65V352.82H294.37V352.78H295.09V352.82H295.81V352.58H296.53V352.69H297.25V352.72H297.97V352.72H298.69V352.71H299.41V352.86H300.13V352.75H300.85V352.71H301.57V352.61H302.29V352.7H303V352.62H303.72V352.67H304.44V352.73H305.16V352.63H305.88V352.86H306.6V352.89H307.32V352.75H308.04V359.06H308.76V359.27ZM309.48 359.27V358.84H310.2V358.31H310.92V358.92H311.64V357.35H312.36V352.84H313.08V358.62H313.8V353.94H314.52V355.26H315.24V358.68H315.96V353.83H316.68V357.6H317.4V358.01H318.12V358.68H318.84V359.04H319.56V355.47H320.28V358.61H321V359.27ZM248.3 368.1V361.51H249.02V366.83H249.74V364.57H250.46V362.39H251.18V367.81H251.9V367.18H252.62V367.56H253.34V363.94H254.06V363.77H254.78V362.44H255.5V364.17H256.22V368.1ZM256.94 368.1V367.7H257.66V362.58H258.38V362.89H259.1V368.1ZM259.82 368.1V362.94H260.54V363.19H261.26V364.56H261.98V363.63H262.7V367.07H263.42V366.95H264.14V367.79H264.86V367.73H265.58V365.2H266.3V361.43H267.01V361.48H267.73V361.7H268.45V361.41H269.17V361.48H269.89V361.6H270.61V362.76H271.33V361.42H272.05V361.6H272.77V361.68H273.49V361.54H274.21V361.67H274.93V361.71H275.65V361.7H276.37V361.62H277.09V368.1ZM277.81 368.1V364.73H278.53V364.44H279.25V367.9H279.97V363.51H280.69V364.22H281.41V363.1H282.13V366.98H282.85V367.21H283.57V362.86H284.29V361.95H285.01V366.26H285.73V363.17H286.45V368.1ZM287.17 368.1V361.43H287.89V363.49H288.61V367.68H289.33V364.6H290.05V362.15H290.77V363.04H291.49V367.35H292.21V364.53H292.93V363.78H293.65V363.38H294.37V361.58H295.09V361.57H295.81V362.77H296.53V361.74H297.25V361.45H297.97V361.73H298.69V361.71H299.41V361.44H300.13V361.62H300.85V361.57H301.57V361.47H302.29V361.4H303V364.86H303.72V361.72H304.44V361.73H305.16V361.7H305.88V361.57H306.6V361.73H307.32V361.5H308.04V363.34H308.76V368.1ZM310.2 368.1V367.17H310.92V364.07H311.64V362.19H312.36V368.1ZM313.08 368.1V362.41H313.8V367.88H314.52V362.73H315.24V363.07H315.96V361.43H316.68V368.1ZM317.4 368.1V367.41H318.12V368.1ZM318.84 368.1V367.18H319.56V366.65H320.28V366.89H321V368.1ZM248.3 376.93V373.53H249.02V375.74H249.74V376.93ZM250.46 376.93V370.47H251.18V371.6H251.9V375.96H252.62V371.42H253.34V376.13H254.06V376.93ZM254.78 376.93V373.09H255.5V371.45H256.22V373.1H256.94V376.02H257.66V376.71H258.38V372.64H259.1V371.46H259.82V376.93ZM260.54 376.93V371.61H261.26V376.7H261.98V370.46H262.7V376.93ZM263.42 376.93V371.76H264.14V372.6H264.86V375.93H265.58V370.54H266.3V372.48H267.01V374.87H267.73V370.42H268.45V370.47H269.17V374.5H269.89V370.27H270.61V370.39H271.33V370.42H272.05V370.25H272.77V370.51H273.49V370.25H274.21V370.43H274.93V374.08H275.65V370.5H276.37V370.47H277.09V370.39H277.81V372.78H278.53V372.25H279.25V371.94H279.97V373.07H280.69V376.93ZM281.41 376.93V370.52H282.13V370.56H282.85V373.16H283.57V373.53H284.29V370.34H285.01V370.26H285.73V374.71H286.45V372.6H287.17V371.73H287.89V370.8H288.61V373.57H289.33V374.91H290.05V370.65H290.77V371.62H291.49V376.44H292.21V375.57H292.93V376.93ZM293.65 376.93V371.45H294.37V370.45H295.09V370.57H295.81V370.41H296.53V370.44H297.25V370.47H297.97V370.24H298.69V370.33H299.41V370.35H300.13V370.31H300.85V370.4H301.57V370.55H302.29V370.37H303V370.34H303.72V370.54H304.44V373.32H305.16V370.26H305.88V370.24H306.6V370.56H307.32V370.55H308.04V371.85H308.76V373.31H309.48V376.93ZM310.92 376.93V372.26H311.64V372.81H312.36V376.47H313.08V376.93ZM313.8 376.93V376.3H314.52V376.93ZM315.24 376.93V372.9H315.96V376.47H316.68V375.05H317.4V375.58H318.12V375.03H318.84V371.91H319.56V376.56H320.28V372.79H321V376.93ZM248.3 385.77V384.8H249.02V379.96H249.74V383.46H250.46V385.2H251.18V385.55H251.9V380.74H252.62V385.55H253.34V381.05H254.06V385.77ZM254.78 385.77V381.55H255.5V384.64H256.22V379.15H256.94V379.13H257.66V381.14H258.38V382.35H259.1V382.12H259.82V380.69H260.54V383.53H261.26V380.02H261.98V380.99H262.7V379.41H263.42V385.77ZM264.14 385.77V379.62H264.86V379.17H265.58V379.23H266.3V379.17H267.01V379.35H267.73V379.17H268.45V379.14H269.17V379.32H269.89V379.11H270.61V379.3H271.33V383.75H272.05V379.14H272.77V379.27H273.49V379.14H274.21V379.12H274.93V382.69H275.65V379.3H276.37V379.38H277.09V385.77ZM278.53 385.77V381.79H279.25V380.72H279.97V380.61H280.69V381.84H281.41V385.11H282.13V380.85H282.85V382.03H283.57V381.15H284.29V380.09H285.01V380.24H285.73V385.51H286.45V379.37H287.17V379.3H287.89V383.54H288.61V380.93H289.33V381.41H290.05V385.77ZM290.77 385.77V379.49H291.49V380.83H292.21V384.9H292.93V381.66H293.65V381.39H294.37V379.31H295.09V379.15H295.81V379.38H296.53V379.27H297.25V379.12H297.97V379.4H298.69V379.13H299.41V379.2H300.13V381.58H300.85V379.3H301.57V379.11H302.29V379.34H303V379.27H303.72V383.04H304.44V379.23H305.16V379.23H305.88V379.32H306.6V379.24H307.32V379.22H308.04V379.69H308.76V381.42H309.48V380.37H310.2V381.06H310.92V385.77ZM311.64 385.77V383.51H312.36V381.49H313.08V381.2H313.8V385.77ZM314.52 385.77V385.16H315.24V380.25H315.96V381.57H316.68V381.36H317.4V384.94H318.12V385.07H318.84V379.61H319.56V380.77H320.28V381.75H321V385.77ZM249.02 394.6V388.65H249.74V394.6ZM250.46 394.6V389.1H251.18V389.16H251.9V388.6H252.62V388.58H253.34V390.36H254.06V391.14H254.78V389.03H255.5V392.97H256.22V388.71H256.94V389.23H257.66V394.33H258.38V388.5H259.1V388.69H259.82V394.14H260.54V393.25H261.26V390.42H261.98V390.61H262.7V394.27H263.42V394.6ZM264.14 394.6V388.19H264.86V389.99H265.58V388.13H266.3V387.94H267.01V387.91H267.73V388.13H268.45V387.93H269.17V388.08H269.89V387.94H270.61V388.07H271.33V388.1H272.05V387.94H272.77V388.11H273.49V388.13H274.21V388.22H274.93V387.94H275.65V388.08H276.37V387.95H277.09V393.34H277.81V391.08H278.53V389.02H279.25V394.6ZM279.97 394.6V391.06H280.69V388.66H281.41V390.24H282.13V388.94H282.85V389.48H283.57V389.91H284.29V390.85H285.01V392.3H285.73V392.41H286.45V390.66H287.17V394.06H287.89V390.01H288.61V394.6ZM289.33 394.6V388.38H290.05V389.67H290.77V393.02H291.49V390.62H292.21V392.39H292.93V394.6ZM293.65 394.6V388.18H294.37V388.1H295.09V388.02H295.81V388.01H296.53V387.96H297.25V387.97H297.97V387.97H298.69V388.22H299.41V388.01H300.13V388.16H300.85V387.91H301.57V388.02H302.29V387.92H303V388.14H303.72V387.96H304.44V388.06H305.16V388.04H305.88V388.08H306.6V387.92H307.32V388.17H308.04V393.78H308.76V391.16H309.48V394.06H310.2V393.35H310.92V392.49H311.64V389.58H312.36V394.3H313.08V389.61H313.8V394.6ZM314.52 394.6V394.09H315.24V390.98H315.96V388.84H316.68V390.92H317.4V391.05H318.12V393.36H318.84V393.08H319.56V388.34H320.28V391.05H321V394.6ZM248.3 403.43V402.59H249.02V399.46H249.74V402.94H250.46V397.2H251.18V397.95H251.9V397.33H252.62V399.84H253.34V403.03H254.06V402.39H254.78V403.43ZM255.5 403.43V402.74H256.22V399.31H256.94V403.43ZM257.66 403.43V397.92H258.38V403.43ZM259.1 403.43V402.78H259.82V402.45H260.54V397.05H261.26V403.43ZM261.98 403.43V402.33H262.7V403.43ZM264.86 403.43V401.34H265.58V401.43H266.3V396.89H267.01V396.89H267.73V396.81H268.45V399.2H269.17V396.88H269.89V396.75H270.61V396.77H271.33V396.93H272.05V396.97H272.77V399.33H273.49V398.06H274.21V401.95H274.93V401.38H275.65V396.75H276.37V397.87H277.09V401.45H277.81V402.26H278.53V398.1H279.25V398.72H279.97V403.43ZM280.69 403.43V396.75H281.41V401.46H282.13V401.54H282.85V403.1H283.57V399.75H284.29V398.33H285.01V399.84H285.73V402.53H286.45V397.79H287.17V403.43ZM287.89 403.43V402.77H288.61V402.69H289.33V403.43ZM290.05 403.43V402.31H290.77V399.65H291.49V399.58H292.21V399.36H292.93V401.1H293.65V401.38H294.37V397H295.09V396.74H295.81V396.92H296.53V396.84H297.25V397.03H297.97V397.05H298.69V397H299.41V396.9H300.13V396.84H300.85V396.98H301.57V396.96H302.29V397.02H303V397.02H303.72V396.79H304.44V396.9H305.16V397.03H305.88V396.92H306.6V402.48H307.32V402.02H308.04V401.18H308.76V402.83H309.48V403.21H310.2V403.43ZM310.92 403.43V399.69H311.64V397.11H312.36V398.9H313.08V399.73H313.8V399.35H314.52V403.43ZM315.24 403.43V397.63H315.96V403.03H316.68V401.71H317.4V403.43ZM318.12 403.43V402.79H318.84V401.1H319.56V399.42H320.28V401.41H321V403.43ZM249.02 412.26V411.99H249.74V406.98H250.46V411.47H251.18V406.34H251.9V412.26ZM252.62 412.26V406.13H253.34V407.5H254.06V411.7H254.78V411.58H255.5V412.26ZM256.94 412.26V411.72H257.66V412.26ZM258.38 412.26V406.9H259.1V412.26ZM259.82 412.26V410.24H260.54V412H261.26V412.26ZM261.98 412.26V410.65H262.7V408.56H263.42V408.88H264.14V410.71H264.86V408.36H265.58V405.86H266.3V405.71H267.01V405.72H267.73V410.25H268.45V405.83H269.17V405.74H269.89V408.35H270.61V405.79H271.33V408.4H272.05V405.65H272.77V407.01H273.49V405.9H274.21V406.84H274.93V411.01H275.65V406.53H276.37V408.67H277.09V411.51H277.81V409.91H278.53V408.56H279.25V406.84H279.97V412.26ZM280.69 412.26V411.34H281.41V410.49H282.13V405.93H282.85V410.96H283.57V407.05H284.29V411.22H285.01V411.14H285.73V406.95H286.45V407.51H287.17V411.21H287.89V411.12H288.61V412.26ZM289.33 412.26V409.93H290.05V405.56H290.77V406.05H291.49V412.26ZM292.93 412.26V405.73H293.65V411.19H294.37V405.81H295.09V405.85H295.81V405.8H296.53V405.71H297.25V405.58H297.97V408.03H298.69V405.85H299.41V405.77H300.13V405.75H300.85V410.45H301.57V405.68H302.29V406.93H303V405.87H303.72V405.86H304.44V405.74H305.16V408.28H305.88V405.72H306.6V412.26ZM307.32 412.26V406.56H308.04V412.26ZM308.76 412.26V405.99H309.48V407.17H310.2V407.3H310.92V406.31H311.64V408.04H312.36V411.32H313.08V412.26ZM313.8 412.26V405.76H314.52V405.67H315.24V411.91H315.96V407.09H316.68V406.07H317.4V410.09H318.12V411.06H318.84V411.66H319.56V405.85H320.28V410.85H321V412.26ZM248.3 421.09V419.53H249.02V417.15H249.74V415.49H250.46V420.02H251.18V420.37H251.9V415.83H252.62V415.11H253.34V420.61H254.06V421.09ZM254.78 421.09V414.96H255.5V415.15H256.22V420.42H256.94V420.4H257.66V420.23H258.38V419.31H259.1V418.84H259.82V415.58H260.54V414.51H261.26V415.77H261.98V420.12H262.7V419.76H263.42V419.85H264.14V421.09ZM265.58 421.09V414.69H266.3V414.52H267.01V414.55H267.73V414.4H268.45V418.08H269.17V414.52H269.89V414.51H270.61V414.47H271.33V414.4H272.05V414.56H272.77V420.29H273.49V420.24H274.21V417.02H274.93V419.17H275.65V420.54H276.37V415.4H277.09V416.34H277.81V420.51H278.53V415.32H279.25V414.84H279.97V417.25H280.69V415.6H281.41V421.09ZM282.13 421.09V415.97H282.85V417.26H283.57V421.09ZM284.29 421.09V416.34H285.01V415.44H285.73V417.18H286.45V420H287.17V420.78H287.89V417.03H288.61V416.59H289.33V415.35H290.05V415.43H290.77V417.18H291.49V417.44H292.21V415.97H292.93V414.6H293.65V416.9H294.37V414.61H295.09V414.7H295.81V414.51H296.53V414.61H297.25V414.5H297.97V414.51H298.69V414.52H299.41V414.71H300.13V414.64H300.85V414.61H301.57V414.41H302.29V416.45H303V414.47H303.72V414.58H304.44V414.54H305.16V414.42H305.88V414.49H306.6V420.78H307.32V419.75H308.04V416.25H308.76V419.59H309.48V420.77H310.2V421.09ZM310.92 421.09V415.78H311.64V414.64H312.36V417.58H313.08V414.48H313.8V420.84H314.52V419.51H315.24V419.32H315.96V419.48H316.68V421.09ZM317.4 421.09V416.1H318.12V421.09ZM319.56 421.09V414.43H320.28V420.71H321V421.09ZM248.3 429.92V424.33H249.02V429.68H249.74V423.39H250.46V429.07H251.18V425H251.9V427.98H252.62V425.26H253.34V429.11H254.06V429.72H254.78V423.84H255.5V424.69H256.22V429.61H256.94V429.38H257.66V426.06H258.38V423.42H259.1V428.33H259.82V428.92H260.54V429.92ZM261.26 429.92V426.02H261.98V429.66H262.7V429.11H263.42V425.4H264.14V423.66H264.86V423.99H265.58V426.91H266.3V423.25H267.01V423.27H267.73V425.49H268.45V426.03H269.17V423.47H269.89V423.29H270.61V423.31H271.33V423.32H272.05V427.09H272.77V426.31H273.49V423.85H274.21V425.46H274.93V429.29H275.65V428.41H276.37V426.16H277.09V427.95H277.81V425.95H278.53V424.57H279.25V429.92ZM279.97 429.92V423.23H280.69V429.65H281.41V425.7H282.13V429.92ZM283.57 429.92V429.16H284.29V429.92ZM285.01 429.92V423.51H285.73V425.51H286.45V424.65H287.17V424.26H287.89V425.47H288.61V425.34H289.33V424.49H290.05V429.92ZM290.77 429.92V423.38H291.49V429.05H292.21V423.23H292.93V423.88H293.65V429.13H294.37V423.34H295.09V423.29H295.81V423.24H296.53V423.47H297.25V423.39H297.97V423.54H298.69V423.36H299.41V423.47H300.13V427.59H300.85V423.47H301.57V423.28H302.29V423.27H303V426.81H303.72V423.55H304.44V423.48H305.16V423.47H305.88V423.29H306.6V423.68H307.32V429.92ZM308.76 429.92V428.56H309.48V429.5H310.2V429.56H310.92V425.87H311.64V429.26H312.36V424.38H313.08V424.31H313.8V423.39H314.52V429.92ZM315.24 429.92V423.53H315.96V423.75H316.68V429.09H317.4V429.65H318.12V429.31H318.84V425.79H319.56V428.6H320.28V424.02H321V429.92ZM248.3 438.75V433.48H249.02V432.11H249.74V435.15H250.46V432.27H251.18V438.34H251.9V433.37H252.62V437.87H253.34V433.14H254.06V438.75ZM254.78 438.75V437.41H255.5V438.75ZM256.22 438.75V432.83H256.94V438.25H257.66V438.26H258.38V434.21H259.1V433.35H259.82V438.37H260.54V434.02H261.26V437.93H261.98V434.17H262.7V438.22H263.42V433.53H264.14V438.75ZM265.58 438.75V432.21H266.3V435.1H267.01V432.16H267.73V432.11H268.45V432.08H269.17V433.58H269.89V432.15H270.61V432.13H271.33V432.07H272.05V432.29H272.77V438.75ZM273.49 438.75V438.04H274.21V432.72H274.93V432.83H275.65V434.01H276.37V437.42H277.09V432.68H277.81V433.31H278.53V438.15H279.25V436.92H279.97V438.75ZM280.69 438.75V433.57H281.41V438.75ZM282.13 438.75V435.18H282.85V438.75ZM283.57 438.75V435.19H284.29V438.53H285.01V432.25H285.73V433.21H286.45V438.25H287.17V434.36H287.89V432.17H288.61V438.75ZM289.33 438.75V434.83H290.05V432.65H290.77V434.31H291.49V432.22H292.21V432.14H292.93V432.32H293.65V437.83H294.37V432.27H295.09V432.26H295.81V432.11H296.53V432.3H297.25V432.36H297.97V432.22H298.69V432.07H299.41V432.17H300.13V432.22H300.85V432.16H301.57V432.19H302.29V432.2H303V432.1H303.72V432.18H304.44V432.29H305.16V434.78H305.88V432.24H306.6V437.97H307.32V432.36H308.04V437.18H308.76V433.07H309.48V436.44H310.2V433.18H310.92V436.97H311.64V438.75ZM312.36 438.75V433.91H313.08V432.47H313.8V433.11H314.52V437.05H315.24V437.46H315.96V434.78H316.68V438.18H317.4V432.71H318.12V437.59H318.84V433.92H319.56V437.01H320.28V434.7H321V438.75ZM248.3 447.58V442.57H249.02V446.69H249.74V441.1H250.46V443.59H251.18V447.15H251.9V447.58ZM253.34 447.58V446.55H254.06V447.58ZM254.78 447.58V446.41H255.5V441.25H256.22V442.83H256.94V447.58ZM257.66 447.58V446.17H258.38V447.37H259.1V442.7H259.82V441.09H260.54V447.58ZM261.26 447.58V442.32H261.98V446.35H262.7V446.13H263.42V446.58H264.14V445.61H264.86V447.58ZM265.58 447.58V442.35H266.3V440.96H267.01V446.89H267.73V445.94H268.45V447.58ZM269.17 447.58V441.99H269.89V446.89H270.61V443.75H271.33V447.58ZM272.05 447.58V442.29H272.77V447.2H273.49V447.58ZM274.21 447.58V443.75H274.93V447.28H275.65V441.68H276.37V445.39H277.09V445.67H277.81V443.1H278.53V447.58ZM279.25 447.58V444.18H279.97V443.52H280.69V447.18H281.41V445.42H282.13V442.36H282.85V447.58ZM283.57 447.58V443.89H284.29V440.94H285.01V442.59H285.73V443.47H286.45V444.02H287.17V447.58ZM287.89 447.58V446.91H288.61V442.28H289.33V442.09H290.05V446.84H290.77V445.79H291.49V443.26H292.21V445.34H292.93V442.42H293.65V447.3H294.37V447.58ZM295.81 447.58V443.12H296.53V442.7H297.25V440.92H297.97V443.98H298.69V441.15H299.41V442.66H300.13V442.47H300.85V440.96H301.57V441.07H302.29V441.17H303V440.94H303.72V443.71H304.44V441.13H305.16V440.92H305.88V441.1H306.6V447.15H307.32V441.67H308.04V446.34H308.76V442.27H309.48V442.23H310.2V445.57H310.92V447.58ZM311.64 447.58V441.16H312.36V441.93H313.08V442.09H313.8V447.58ZM314.52 447.58V441.91H315.24V446.22H315.96V446.77H316.68V446.34H317.4V447.58ZM318.12 447.58V447.24H318.84V447.58ZM319.56 447.58V447.35H320.28V441.39H321V447.58ZM248.3 456.41V454.22H249.02V449.76H249.74V456.41ZM250.46 456.41V451.38H251.18V455.36H251.9V450.91H252.62V452.77H253.34V452.94H254.06V451.57H254.78V456.41ZM255.5 456.41V450.59H256.22V451.26H256.94V454.4H257.66V451.63H258.38V456.41ZM259.1 456.41V454.72H259.82V456.18H260.54V454.28H261.26V450.13H261.98V451.41H262.7V449.83H263.42V452.85H264.14V451.62H264.86V455.16H265.58V452.26H266.3V454.76H267.01V455.36H267.73V452.72H268.45V450.65H269.17V455.8H269.89V451.74H270.61V456.09H271.33V456.16H272.05V451.81H272.77V449.82H273.49V453.01H274.21V456.41ZM274.93 456.41V456.05H275.65V456.41ZM276.37 456.41V454.35H277.09V455.86H277.81V456.41ZM278.53 456.41V452.95H279.25V454.33H279.97V452.68H280.69V455.15H281.41V454.28H282.13V452.28H282.85V450.88H283.57V451.56H284.29V456.41ZM285.01 456.41V454.45H285.73V454.94H286.45V450.72H287.17V456.41ZM287.89 456.41V450.74H288.61V455.71H289.33V452.25H290.05V456.41ZM291.49 456.41V455.53H292.21V452.97H292.93V455.04H293.65V455.17H294.37V450.06H295.09V451.74H295.81V454.19H296.53V449.87H297.25V449.82H297.97V449.76H298.69V451.99H299.41V454.4H300.13V452.72H300.85V451.54H301.57V449.74H302.29V449.91H303V449.81H303.72V449.93H304.44V449.94H305.16V449.9H305.88V450.95H306.6V450.27H307.32V455.39H308.04V454.76H308.76V456.2H309.48V450.06H310.2V456.41ZM310.92 456.41V454.96H311.64V455.74H312.36V454.48H313.08V451.01H313.8V455.94H314.52V456H315.24V455.52H315.96V455.09H316.68V454.12H317.4V451.77H318.12V454.94H318.84V456.41ZM320.28 456.41V456.08H321V456.41ZM248.3 465.24V460.17H249.02V460.43H249.74V459.78H250.46V463.9H251.18V459.83H251.9V464.95H252.62V461.39H253.34V464.46H254.06V464.44H254.78V465.24ZM255.5 465.24V459.59H256.22V464.55H256.94V465.24ZM257.66 465.24V463.88H258.38V465.24ZM259.1 465.24V459.52H259.82V464.75H260.54V464.04H261.26V460.43H261.98V458.6H262.7V464.31H263.42V458.85H264.14V461.34H264.86V458.74H265.58V464.55H266.3V465.24ZM267.01 465.24V459.04H267.73V458.87H268.45V464.89H269.17V459.89H269.89V464.25H270.61V461.02H271.33V463.46H272.05V460.72H272.77V461.32H273.49V460.26H274.21V460.92H274.93V460.36H275.65V458.84H276.37V463.22H277.09V459.17H277.81V465.24ZM278.53 465.24V458.84H279.25V463.44H279.97V464.24H280.69V463.72H281.41V459.03H282.13V459.76H282.85V460.94H283.57V465.24ZM284.29 465.24V459.54H285.01V460.17H285.73V462.94H286.45V464.9H287.17V464.98H287.89V464.8H288.61V465.24ZM290.05 465.24V461.22H290.77V464.82H291.49V461.38H292.21V463.54H292.93V464.08H293.65V463.98H294.37V465.24ZM295.09 465.24V459.54H295.81V463.12H296.53V458.78H297.25V462.38H297.97V458.65H298.69V458.62H299.41V458.87H300.13V460.34H300.85V458.55H301.57V458.76H302.29V458.7H303V458.59H303.72V458.87H304.44V462.79H305.16V458.75H305.88V458.82H306.6V465.24ZM307.32 465.24V464.75H308.04V463.82H308.76V464.83H309.48V464.69H310.2V465.24ZM310.92 465.24V461.23H311.64V465.24ZM312.36 465.24V463.24H313.08V464.01H313.8V463.63H314.52V465.01H315.24V463.57H315.96V464.89H316.68V463.44H317.4V463.24H318.12V464.43H318.84V464.03H319.56V463.26H320.28V464.24H321V465.24ZM248.3 474.08V468.59H249.02V473.19H249.74V468.37H250.46V474.08ZM251.18 474.08V471.89H251.9V473.84H252.62V474.08ZM253.34 474.08V471.77H254.06V474.08ZM254.78 474.08V472.44H255.5V472.53H256.22V474.08ZM256.94 474.08V472.11H257.66V467.38H258.38V470.28H259.1V468.03H259.82V473.49H260.54V468.7H261.26V473.51H261.98V474.08ZM262.7 474.08V473.77H263.42V472H264.14V473.81H264.86V468.6H265.58V469.86H266.3V472.62H267.01V472.39H267.73V474.08ZM269.17 474.08V471.83H269.89V468.36H270.61V467.85H271.33V467.96H272.05V468.83H272.77V473.83H273.49V467.92H274.21V473.07H274.93V474.08ZM275.65 474.08V473.49H276.37V468.28H277.09V469.42H277.81V473.51H278.53V471.83H279.25V473.5H279.97V474.08ZM280.69 474.08V469.95H281.41V473.45H282.13V474.08ZM282.85 474.08V473.16H283.57V474.08ZM285.01 474.08V473.65H285.73V473.31H286.45V474.08ZM287.17 474.08V472.46H287.89V473.38H288.61V470.63H289.33V468.76H290.05V473.41H290.77V472.26H291.49V470.05H292.21V471.83H292.93V468.57H293.65V472.83H294.37V473.51H295.09V473.03H295.81V470.05H296.53V467.67H297.25V467.65H297.97V470.3H298.69V472.03H299.41V472.4H300.13V469.79H300.85V467.62H301.57V469.01H302.29V471.42H303V467.41H303.72V467.52H304.44V469.37H305.16V467.51H305.88V467.41H306.6V467.97H307.32V472.8H308.04V468.32H308.76V473.25H309.48V473.53H310.2V469.39H310.92V474.08ZM311.64 474.08V470H312.36V473.09H313.08V472.58H313.8V473.57H314.52V468.5H315.24V469.81H315.96V468.02H316.68V473.81H317.4V471.87H318.12V474.08ZM318.84 474.08V473.22H319.56V473.71H320.28V473.82H321V474.08ZM248.3 482.91V482.67H249.02V482.91ZM249.74 482.91V479.71H250.46V481.39H251.18V482.67H251.9V481.78H252.62V481.84H253.34V479.16H254.06V481.52H254.78V478.45H255.5V482.91ZM256.22 482.91V480.96H256.94V482.91ZM257.66 482.91V482.15H258.38V482.91ZM260.54 482.91V482.58H261.26V481.74H261.98V482.7H262.7V481.8H263.42V479.98H264.14V478.89H264.86V482.13H265.58V477.83H266.3V477.08H267.01V482.22H267.73V482.91ZM268.45 482.91V477.44H269.17V481.92H269.89V480.8H270.61V482.91ZM271.33 482.91V482.6H272.05V482.45H272.77V482.68H273.49V482.91ZM274.21 482.91V482.64H274.93V481.63H275.65V482.91ZM277.81 482.91V482.51H278.53V481.37H279.25V482.91ZM279.97 482.91V482.62H280.69V482.61H281.41V482.55H282.13V482.19H282.85V478.28H283.57V481.55H284.29V482.91ZM285.01 482.91V481.54H285.73V482.91ZM286.45 482.91V479.92H287.17V482.26H287.89V482.62H288.61V482.91ZM289.33 482.91V482.53H290.05V482H290.77V477.75H291.49V480.93H292.21V479.5H292.93V482.59H293.65V482.65H294.37V482.49H295.09V482.91ZM296.53 482.91V476.72H297.25V477.7H297.97V482.91ZM298.69 482.91V476.26H299.41V482.91ZM300.13 482.91V477.54H300.85V478.48H301.57V481.95H302.29V479.37H303V476.9H303.72V481.27H304.44V477.63H305.16V477.45H305.88V481.2H306.6V482.91ZM308.04 482.91V481.88H308.76V481.4H309.48V481.54H310.2V478.7H310.92V482.91ZM311.64 482.91V478.14H312.36V478.22H313.08V481.76H313.8V481.4H314.52V477.6H315.24V481.98H315.96V482.65H316.68V482.52H317.4V482.28H318.12V482.91ZM318.84 482.91V481.72H319.56V482.2H320.28V482.21H321V482.91ZM248.3 491.74V490H249.02V491.11H249.74V490.32H250.46V491.74ZM251.9 491.74V490.33H252.62V491.5H253.34V491.18H254.06V491.14H254.78V490.8H255.5V490.35H256.22V491.74ZM256.94 491.74V489.93H257.66V490.76H258.38V491.74ZM259.1 491.74V490.22H259.82V488.4H260.54V487.94H261.26V491.74ZM261.98 491.74V491.38H262.7V490.12H263.42V491.74ZM264.14 491.74V490.55H264.86V489.75H265.58V491.74ZM266.3 491.74V486.07H267.01V488.06H267.73V491.17H268.45V491.74ZM269.17 491.74V486.19H269.89V485.95H270.61V485.44H271.33V490.04H272.05V491.12H272.77V491.26H273.49V491.28H274.21V491.74ZM275.65 491.74V489.9H276.37V487.93H277.09V491.74ZM277.81 491.74V488.28H278.53V487.24H279.25V490.23H279.97V490.06H280.69V486.24H281.41V490.89H282.13V491.74ZM282.85 491.74V490.62H283.57V489.99H284.29V490.8H285.01V491.74ZM285.73 491.74V489.95H286.45V491.13H287.17V491.43H287.89V491.19H288.61V491.21H289.33V490.55H290.05V490.05H290.77V491.74ZM291.49 491.74V487.54H292.21V488.76H292.93V487.07H293.65V491.39H294.37V487.73H295.09V491H295.81V490.27H296.53V491.5H297.25V486.87H297.97V486.59H298.69V491.74ZM299.41 491.74V491.49H300.13V491.18H300.85V490.66H301.57V486.59H302.29V489.53H303V485.39H303.72V487.09H304.44V487.03H305.16V488.34H305.88V487.31H306.6V487.72H307.32V491.28H308.04V491.74ZM308.76 491.74V487.57H309.48V490.77H310.2V487.21H310.92V490.95H311.64V491.08H312.36V488.06H313.08V490.46H313.8V491.15H314.52V491.74ZM315.24 491.74V491.27H315.96V491.74ZM317.4 491.74V491.39H318.12V490.09H318.84V490.86H319.56V490.44H320.28V490.45H321V491.74ZM248.3 500.57V496.14H249.02V499.09H249.74V499.63H250.46V500.57ZM251.18 500.57V500.31H251.9V498.61H252.62V500.02H253.34V500.57ZM254.06 500.57V499H254.78V499.22H255.5V500.06H256.22V498.8H256.94V495.61H257.66V499.8H258.38V496.08H259.1V500.57ZM260.54 500.57V499.04H261.26V495.67H261.98V499.43H262.7V499.1H263.42V500.18H264.14V499.46H264.86V500.57ZM265.58 500.57V494.51H266.3V500.25H267.01V499.92H267.73V500.57ZM268.45 500.57V499.99H269.17V496.65H269.89V500.57ZM270.61 500.57V499.11H271.33V500.3H272.05V499.29H272.77V500.57ZM273.49 500.57V499.41H274.21V500.57ZM274.93 500.57V499.98H275.65V500.03H276.37V500.57ZM277.09 500.57V498.92H277.81V500.25H278.53V497.36H279.25V500.57ZM279.97 500.57V499.26H280.69V497.39H281.41V496.15H282.13V499.73H282.85V496.54H283.57V500.57ZM284.29 500.57V499.07H285.01V499.15H285.73V500.57ZM286.45 500.57V499.78H287.17V495.25H287.89V495.7H288.61V496.34H289.33V500.57ZM290.05 500.57V499.66H290.77V496.1H291.49V496.39H292.21V499.13H292.93V500.57ZM294.37 500.57V499.69H295.09V500.57ZM295.81 500.57V499.65H296.53V495.31H297.25V495.71H297.97V500.02H298.69V500.27H299.41V499.17H300.13V500.57ZM300.85 500.57V496.21H301.57V500.34H302.29V499.92H303V494.4H303.72V493.9H304.44V494.98H305.16V498.7H305.88V500.31H306.6V498.73H307.32V499.29H308.04V499.2H308.76V499.48H309.48V500.03H310.2V500.57ZM310.92 500.57V495.55H311.64V500.3H312.36V499.64H313.08V500.57ZM315.24 500.57V499.53H315.96V499.55H316.68V499.31H317.4V500.57ZM318.12 500.57V499.99H318.84V499.51H319.56V499.98H320.28V500.57ZM249.02 509.4V508.84H249.74V509.4ZM250.46 509.4V508.29H251.18V509.11H251.9V505.06H252.62V507.92H253.34V508.57H254.06V504.84H254.78V508H255.5V507.49H256.22V509.4ZM256.94 509.4V505.58H257.66V509.14H258.38V508.31H259.1V508.31H259.82V508.09H260.54V506.05H261.26V505.27H261.98V508.26H262.7V508.66H263.42V509H264.14V508.84H264.86V509.4ZM265.58 509.4V505.55H266.3V509.07H267.01V502.76H267.73V503.84H268.45V503.16H269.17V503.77H269.89V505.24H270.61V507.12H271.33V503.97H272.05V504.67H272.77V509.4ZM274.21 509.4V508.25H274.93V507.86H275.65V504.09H276.37V509.4ZM277.09 509.4V504.73H277.81V508.61H278.53V509.15H279.25V508.86H279.97V507.63H280.69V507.92H281.41V508.92H282.13V509.4ZM282.85 509.4V508.85H283.57V509.4ZM284.29 509.4V508.32H285.01V508.51H285.73V508.55H286.45V505.69H287.17V504.72H287.89V507.6H288.61V509.17H289.33V508.36H290.05V505.03H290.77V508.74H291.49V506.39H292.21V509.4ZM292.93 509.4V508.68H293.65V508.42H294.37V508.43H295.09V508.68H295.81V509.4ZM296.53 509.4V504.33H297.25V509.4ZM297.97 509.4V508.18H298.69V505.3H299.41V503.32H300.13V504.31H300.85V503.19H301.57V504.17H302.29V509.4ZM303 509.4V508.07H303.72V509.4ZM304.44 509.4V507.32H305.16V507.11H305.88V503.63H306.6V509.4ZM307.32 509.4V508.35H308.04V509.4ZM308.76 509.4V504.1H309.48V508.89H310.2V506.6H310.92V509.15H311.64V508.92H312.36V508.95H313.08V509.12H313.8V508.48H314.52V509.02H315.24V509.4ZM316.68 509.4V509.15H317.4V509.4ZM318.12 509.4V505.43H318.84V509.4ZM319.56 509.4V508.47H320.28V509H321V509.4Z" fill="#2d2d2d"/>
<text x="345.5" y="210.7" font-size="19" text-anchor="start" font-weight="bold" font-style="normal" fill="#111">d</text>
<rect x="446.7" y="343.81" width="16.6" height="50.09" fill="#fff" stroke="#8a8a8a" stroke-width="0.9"/>
<rect x="472.5" y="347.94" width="16.6" height="45.96" fill="#fff" stroke="#8a8a8a" stroke-width="0.9"/>
<rect x="524" y="323.67" width="16.6" height="70.23" fill="#fff" stroke="#8a8a8a" stroke-width="0.9"/>
<rect x="549.9" y="357.75" width="16.6" height="36.15" fill="#fff" stroke="#8a8a8a" stroke-width="0.9"/>
<line x1="455" y1="316.27" x2="455" y2="371.35" stroke="#777" stroke-width="0.9"/>
<line x1="451.7" y1="316.27" x2="458.3" y2="316.27" stroke="#777" stroke-width="0.9"/>
<line x1="451.7" y1="371.35" x2="458.3" y2="371.35" stroke="#777" stroke-width="0.9"/>
<line x1="480.8" y1="327.29" x2="480.8" y2="368.6" stroke="#777" stroke-width="0.9"/>
<line x1="477.5" y1="327.29" x2="484.1" y2="327.29" stroke="#777" stroke-width="0.9"/>
<line x1="477.5" y1="368.6" x2="484.1" y2="368.6" stroke="#777" stroke-width="0.9"/>
<line x1="532.3" y1="304.74" x2="532.3" y2="342.61" stroke="#777" stroke-width="0.9"/>
<line x1="529" y1="304.74" x2="535.6" y2="304.74" stroke="#777" stroke-width="0.9"/>
<line x1="529" y1="342.61" x2="535.6" y2="342.61" stroke="#777" stroke-width="0.9"/>
<line x1="558.2" y1="336.24" x2="558.2" y2="379.27" stroke="#777" stroke-width="0.9"/>
<line x1="554.9" y1="336.24" x2="561.5" y2="336.24" stroke="#777" stroke-width="0.9"/>
<line x1="554.9" y1="379.27" x2="561.5" y2="379.27" stroke="#777" stroke-width="0.9"/>
<g fill="#000">
<circle cx="455" cy="271.69" r="2.95"/>
<circle cx="455" cy="281.67" r="2.95"/>
<circle cx="455" cy="293.9" r="2.95"/>
<circle cx="455" cy="310.08" r="2.95"/>
<circle cx="453.8" cy="317.48" r="2.95"/>
<circle cx="456.3" cy="320.75" r="2.95"/>
<circle cx="453.8" cy="324.02" r="2.95"/>
<circle cx="458.8" cy="338.82" r="2.95"/>
<circle cx="456.3" cy="342.95" r="2.95"/>
<circle cx="452.2" cy="345.36" r="2.95"/>
<circle cx="455.5" cy="347.77" r="2.95"/>
<circle cx="451.4" cy="350.35" r="2.95"/>
<circle cx="458.8" cy="351.9" r="2.95"/>
<circle cx="449" cy="354.48" r="2.95"/>
<circle cx="461.2" cy="355.34" r="2.95"/>
<circle cx="456.3" cy="356.89" r="2.95"/>
<circle cx="453" cy="358.61" r="2.95"/>
<circle cx="459.6" cy="360.16" r="2.95"/>
<circle cx="449.7" cy="362.75" r="2.95"/>
<circle cx="456.3" cy="363.43" r="2.95"/>
<circle cx="453.8" cy="365.16" r="2.95"/>
<circle cx="451.4" cy="368.43" r="2.95"/>
<circle cx="458" cy="372.56" r="2.95"/>
<circle cx="451.4" cy="374.97" r="2.95"/>
<circle cx="455.5" cy="374.97" r="2.95"/>
</g>
<g fill="#000">
<rect x="478.15" y="306.04" width="5.31" height="5.31"/>
<rect x="478.15" y="314.65" width="5.31" height="5.31"/>
<rect x="476.65" y="322.39" width="5.31" height="5.31"/>
<rect x="473.15" y="324.98" width="5.31" height="5.31"/>
<rect x="482.15" y="326.18" width="5.31" height="5.31"/>
<rect x="475.15" y="327.21" width="5.31" height="5.31"/>
<rect x="484.15" y="328.42" width="5.31" height="5.31"/>
<rect x="478.15" y="329.28" width="5.31" height="5.31"/>
<rect x="472.15" y="330.14" width="5.31" height="5.31"/>
<rect x="481.15" y="331" width="5.31" height="5.31"/>
<rect x="476.15" y="331.86" width="5.31" height="5.31"/>
<rect x="485.15" y="332.72" width="5.31" height="5.31"/>
<rect x="474.15" y="333.07" width="5.31" height="5.31"/>
<rect x="479.15" y="333.58" width="5.31" height="5.31"/>
<rect x="483.15" y="334.44" width="5.31" height="5.31"/>
<rect x="477.15" y="335.3" width="5.31" height="5.31"/>
<rect x="481.15" y="336.17" width="5.31" height="5.31"/>
<rect x="475.15" y="337.89" width="5.31" height="5.31"/>
<rect x="479.15" y="339.61" width="5.31" height="5.31"/>
<rect x="478.15" y="340.98" width="5.31" height="5.31"/>
<rect x="476.15" y="342.53" width="5.31" height="5.31"/>
<rect x="482.15" y="346.15" width="5.31" height="5.31"/>
<rect x="474.15" y="347.35" width="5.31" height="5.31"/>
<rect x="483.15" y="350.28" width="5.31" height="5.31"/>
<rect x="475.15" y="354.24" width="5.31" height="5.31"/>
<rect x="481.15" y="354.75" width="5.31" height="5.31"/>
<rect x="478.15" y="361.64" width="5.31" height="5.31"/>
<rect x="478.15" y="365.43" width="5.31" height="5.31"/>
<rect x="478.15" y="376.61" width="5.31" height="5.31"/>
<rect x="477.15" y="378.34" width="5.31" height="5.31"/>
<rect x="479.15" y="380.57" width="5.31" height="5.31"/>
<rect x="478.15" y="385.22" width="5.31" height="5.31"/>
<rect x="477.15" y="388.15" width="5.31" height="5.31"/>
</g>
<g fill="#000">
<path d="M529.2 285.36L535.4 285.36L532.3 290.97Z"/>
<path d="M529.2 291.04L535.4 291.04L532.3 296.65Z"/>
<path d="M529.2 296.04L535.4 296.04L532.3 301.64Z"/>
<path d="M529.2 300.85L535.4 300.85L532.3 306.46Z"/>
<path d="M527.9 304.99L534.1 304.99L531 310.59Z"/>
<path d="M530.5 304.99L536.7 304.99L533.6 310.59Z"/>
<path d="M525.2 311.53L531.4 311.53L528.3 317.13Z"/>
<path d="M528.7 311.53L534.9 311.53L531.8 317.13Z"/>
<path d="M534.2 311.53L540.4 311.53L537.3 317.13Z"/>
<path d="M523.2 314.11L529.4 314.11L526.3 319.71Z"/>
<path d="M527.7 314.11L533.9 314.11L530.8 319.71Z"/>
<path d="M532.7 314.11L538.9 314.11L535.8 319.71Z"/>
<path d="M527.2 319.1L533.4 319.1L530.3 324.7Z"/>
<path d="M531.2 319.1L537.4 319.1L534.3 324.7Z"/>
<path d="M528.2 323.06L534.4 323.06L531.3 328.66Z"/>
<path d="M531.7 323.06L537.9 323.06L534.8 328.66Z"/>
<path d="M527.7 328.05L533.9 328.05L530.8 333.66Z"/>
<path d="M531.7 328.05L537.9 328.05L534.8 333.66Z"/>
<path d="M526.7 334.59L532.9 334.59L529.8 340.2Z"/>
<path d="M530.7 334.59L536.9 334.59L533.8 340.2Z"/>
<path d="M528.2 339.58L534.4 339.58L531.3 345.19Z"/>
<path d="M532.2 339.58L538.4 339.58L535.3 345.19Z"/>
<path d="M526.7 347.84L532.9 347.84L529.8 353.45Z"/>
<path d="M530.7 347.84L536.9 347.84L533.8 353.45Z"/>
<path d="M529.2 357.66L535.4 357.66L532.3 363.26Z"/>
<path d="M529.2 307.05L535.4 307.05L532.3 312.66Z"/>
<path d="M527.2 308.77L533.4 308.77L530.3 314.38Z"/>
<path d="M531.2 309.63L537.4 309.63L534.3 315.24Z"/>
<path d="M529.2 315.66L535.4 315.66L532.3 321.26Z"/>
<path d="M526.2 317.38L532.4 317.38L529.3 322.98Z"/>
<path d="M532.2 320.82L538.4 320.82L535.3 326.43Z"/>
<path d="M529.2 325.99L535.4 325.99L532.3 331.59Z"/>
</g>
<g fill="#000">
<path d="M558.2 318.19L561.62 321.61L558.2 325.03L554.78 321.61Z"/>
<path d="M559.2 324.73L562.62 328.15L559.2 331.57L555.78 328.15Z"/>
<path d="M561.2 326.28L564.62 329.7L561.2 333.12L557.78 329.7Z"/>
<path d="M555.7 329.72L559.12 333.14L555.7 336.56L552.28 333.14Z"/>
<path d="M560.2 336.26L563.62 339.68L560.2 343.1L556.78 339.68Z"/>
<path d="M556.7 336.95L560.12 340.37L556.7 343.79L553.28 340.37Z"/>
<path d="M555.2 347.79L558.62 351.21L555.2 354.63L551.78 351.21Z"/>
<path d="M563.2 347.79L566.62 351.21L563.2 354.63L559.78 351.21Z"/>
<path d="M553.2 353.47L556.62 356.89L553.2 360.32L549.78 356.89Z"/>
<path d="M558.2 353.47L561.62 356.89L558.2 360.32L554.78 356.89Z"/>
<path d="M564.2 353.47L567.62 356.89L564.2 360.32L560.78 356.89Z"/>
<path d="M556.7 356.05L560.12 359.47L556.7 362.9L553.28 359.47Z"/>
<path d="M560.7 356.05L564.12 359.47L560.7 362.9L557.28 359.47Z"/>
<path d="M556.7 363.45L560.12 366.88L556.7 370.3L553.28 366.88Z"/>
<path d="M558.2 365.86L561.62 369.29L558.2 372.71L554.78 369.29Z"/>
<path d="M560.2 373.95L563.62 377.38L560.2 380.8L556.78 377.38Z"/>
<path d="M557.7 373.27L561.12 376.69L557.7 380.11L554.28 376.69Z"/>
<path d="M559.2 379.81L562.62 383.23L559.2 386.65L555.78 383.23Z"/>
<path d="M556.7 386.35L560.12 389.77L556.7 393.19L553.28 389.77Z"/>
<path d="M560.7 386.35L564.12 389.77L560.7 393.19L557.28 389.77Z"/>
<path d="M558.2 333.68L561.62 337.1L558.2 340.52L554.78 337.1Z"/>
<path d="M558.2 342.28L561.62 345.7L558.2 349.13L554.78 345.7Z"/>
<path d="M558.2 350.89L561.62 354.31L558.2 357.73L554.78 354.31Z"/>
</g>
<line x1="438.4" y1="256.2" x2="438.4" y2="394.6" stroke="#111" stroke-width="1.5"/>
<line x1="437.7" y1="393.9" x2="576.3" y2="393.9" stroke="#111" stroke-width="1.5"/>
<line x1="432.1" y1="393.9" x2="438.4" y2="393.9" stroke="#111" stroke-width="1.2"/>
<text x="430.3" y="397.4" font-size="10.3" text-anchor="end" font-weight="bold" font-style="normal" fill="#111">0</text>
<line x1="432.1" y1="359.47" x2="438.4" y2="359.47" stroke="#111" stroke-width="1.2"/>
<text x="430.3" y="362.97" font-size="10.3" text-anchor="end" font-weight="bold" font-style="normal" fill="#111">200</text>
<line x1="432.1" y1="325.05" x2="438.4" y2="325.05" stroke="#111" stroke-width="1.2"/>
<text x="430.3" y="328.55" font-size="10.3" text-anchor="end" font-weight="bold" font-style="normal" fill="#111">400</text>
<line x1="432.1" y1="290.62" x2="438.4" y2="290.62" stroke="#111" stroke-width="1.2"/>
<text x="430.3" y="294.12" font-size="10.3" text-anchor="end" font-weight="bold" font-style="normal" fill="#111">600</text>
<line x1="432.1" y1="256.2" x2="438.4" y2="256.2" stroke="#111" stroke-width="1.2"/>
<text x="430.3" y="259.7" font-size="10.3" text-anchor="end" font-weight="bold" font-style="normal" fill="#111">800</text>
<line x1="455" y1="393.9" x2="455" y2="399.2" stroke="#111" stroke-width="1.2"/>
<line x1="480.8" y1="393.9" x2="480.8" y2="399.2" stroke="#111" stroke-width="1.2"/>
<line x1="532.3" y1="393.9" x2="532.3" y2="399.2" stroke="#111" stroke-width="1.2"/>
<line x1="558.2" y1="393.9" x2="558.2" y2="399.2" stroke="#111" stroke-width="1.2"/>
<line x1="507" y1="393.9" x2="507" y2="399.2" stroke="#111" stroke-width="1.2"/>
<line x1="532.1" y1="283.3" x2="557.9" y2="283.3" stroke="#333" stroke-width="1.1"/>
<text x="545" y="285.8" font-size="13.8" text-anchor="middle" font-weight="normal" font-style="normal" fill="#222">****</text>
<text x="408.4" y="327.5" font-size="9.4" text-anchor="middle" font-weight="bold" font-style="normal" fill="#111" transform="rotate(-90 408.4 327.5)">Average activity/day (min)</text>
<text x="458.1" y="405.1" font-size="9.35" text-anchor="end" font-weight="bold" font-style="normal" fill="#111" transform="rotate(-49 458.1 405.1)">Sterile Water Injected</text>
<text x="483.9" y="405.1" font-size="9.35" text-anchor="end" font-weight="bold" font-style="normal" fill="#111" transform="rotate(-49 483.9 405.1)">EBV DNA Injected</text>
<text x="535.4" y="405.1" font-size="9.35" text-anchor="end" font-weight="bold" font-style="normal" fill="#111" transform="rotate(-49 535.4 405.1)">PBS Injected</text>
<text x="561.3" y="405.1" font-size="9.35" font-weight="bold" fill="#111" text-anchor="end" transform="rotate(-49 561.3 405.1)">EBV <tspan font-size="6.3" font-weight="normal" fill="#000" dy="2.9" textLength="32.2" lengthAdjust="spacingAndGlyphs">70 viral particles</tspan><tspan dy="-2.9"> Injected</tspan></text>
<line x1="450.4" y1="479.5" x2="556.1" y2="479.5" stroke="#222" stroke-width="1"/>
<g fill="none" stroke="#666" stroke-width="0.92">
<circle cx="487.79" cy="490.68" r="3.02"/>
<path d="M489.93 488.54L492.11 483.33M489.3 483.55L492.11 483.33L492.33 486.14"/>
</g>
<text x="497.65" y="491.8" font-size="11.8" text-anchor="start" font-weight="bold" font-style="italic" fill="#111">W</text>
<text x="509.45" y="487.6" font-size="6.5" text-anchor="start" font-weight="bold" font-style="italic" fill="#111">1118</text>
<text x="3" y="589.1" font-size="19" text-anchor="start" font-weight="bold" font-style="normal" fill="#111">e</text>
<rect x="91.18" y="626.8" width="96.48" height="128.6" fill="#ffffa0" stroke="none" stroke-width="1"/>
<polyline fill="none" stroke="#40e0c0" stroke-width="1.45" stroke-linejoin="round" points="34.9,646.39 35.57,644.12 36.24,644.79 36.91,646.38 37.58,645.52 38.25,644.69 38.92,644.1 39.59,645.62 40.26,645.61 40.93,647.81 41.6,646.56 42.27,642.93 42.94,647.86 43.61,645.66 44.28,644.57 44.95,645.45 45.62,646.08 46.29,645.01 46.96,644.8 47.63,645.25 48.3,647.68 48.97,645.51 49.64,646.2 50.31,645.72 50.98,644.4 51.65,643.57 52.32,643.37 52.99,645.18 53.66,643.23 54.33,642.58 55,642.54 55.67,642.46 56.34,644.76 57.01,644.9 57.68,643.8 58.35,646.65 59.02,644.81 59.69,645.61 60.36,645.76 61.03,647.66 61.7,646.46 62.37,644.8 63.04,643.23 63.71,643.1 64.38,644.74 65.05,645.23 65.72,645.99 66.39,644.36 67.06,644.95 67.73,643.55 68.4,641.98 69.07,644.77 69.74,647.22 70.41,646.64 71.08,647.38 71.75,646.64 72.42,643.04 73.09,644.65 73.76,647.25 74.43,644.33 75.1,643.53 75.77,646.21 76.44,647.25 77.11,647.03 77.78,646.34 78.45,646 79.12,645.58 79.79,645.95 80.46,646.5 81.13,646.97 81.8,649.06 82.47,652.96 83.14,651.87 83.81,651.82 84.48,653.36 85.15,652.6 85.82,655.29 86.49,656.87 87.16,654.48 87.83,656.31 88.5,658.06 89.17,658.13 89.84,659.06 90.51,661.84 91.18,667.13 91.85,685.95 92.52,706.43 93.19,712.48 93.86,705.92 94.53,700.06 95.2,698.34 95.87,695.07 96.54,687.09 97.21,686.89 97.88,684.97 98.55,679.77 99.22,676.58 99.89,675.36 100.56,671.15 101.23,670.74 101.9,669.5 102.57,666.08 103.24,663.76 103.91,664.3 104.58,662.11 105.25,661.16 105.92,656.84 106.59,660.88 107.26,658.47 107.93,660.22 108.6,660.39 109.27,659.03 109.94,658.48 110.61,658 111.28,659.49 111.95,661.02 112.62,660.85 113.29,659.17 113.96,658.65 114.63,657.52 115.3,658.69 115.97,657.75 116.64,657.14 117.31,659.38 117.98,662.04 118.65,661.89 119.32,661.59 119.99,657.43 120.66,660.12 121.33,657.48 122,657.81 122.67,656.29 123.34,657.32 124.01,659.1 124.68,659.36 125.35,658.87 126.02,658.76 126.69,659.67 127.36,658.68 128.03,656.66 128.7,660.97 129.37,658.78 130.04,659.92 130.71,658.3 131.38,657.21 132.05,658.24 132.72,657.54 133.39,660.42 134.06,657.03 134.73,658.84 135.4,657.33 136.07,658.24 136.74,662.15 137.41,659.64 138.08,657.49 138.75,655.46 139.42,657.09 140.09,657.64 140.76,659.6 141.43,655.46 142.1,654.63 142.77,657.26 143.44,658.2 144.11,659.85 144.78,655.9 145.45,652.97 146.12,655.49 146.79,655.12 147.46,656.36 148.13,658.4 148.8,655.67 149.47,659.01 150.14,657.9 150.81,656.92 151.48,656.09 152.15,656.81 152.82,657.3 153.49,659.33 154.16,660.3 154.83,658.73 155.5,660.04 156.17,661.41 156.84,661.69 157.51,661.2 158.18,663.53 158.85,663.65 159.52,664.3 160.19,662.33 160.86,662.22 161.53,661.4 162.2,667.4 162.87,667.74 163.54,666.73 164.21,669.66 164.88,671.29 165.55,670.36 166.22,675.17 166.89,678.89 167.56,681.17 168.23,680.99 168.9,683.46 169.57,688.46 170.24,690.48 170.91,690.72 171.58,693.25 172.25,697.52 172.92,698.47 173.59,701.34 174.26,707.17 174.93,707.66 175.6,708.76 176.27,712.62 176.94,716.89 177.61,716.08 178.28,715.76 178.95,716.65 179.62,722.82 180.29,718.28 180.96,723.9 181.63,722.49 182.3,722.71 182.97,724.09 183.64,726.45 184.31,728.97 184.98,727.37 185.65,729.98 186.32,732.46 186.99,725.47 187.66,727.85 188.33,706.77 189,694.88 189.67,680.08 190.34,670.62 191.01,664.26 191.68,661.83 192.35,659.9 193.02,656.04 193.69,656.64 194.36,654.25 195.03,650.36 195.7,650.56 196.37,648.77 197.04,647.59 197.71,644.17 198.38,644.69 199.05,646.38 199.72,644.92 200.39,647.5 201.06,646.86 201.73,645.2 202.4,648.01 203.07,647.1 203.74,648.2 204.41,645.89 205.08,643.74 205.75,646.89 206.42,646.05 207.09,647.62 207.76,648.23 208.43,647.89 209.1,643.62 209.77,642.08 210.44,645 211.11,646.92 211.78,645.17 212.45,646.27 213.12,644.83 213.79,645.4 214.46,645.45 215.13,645.18 215.8,646.89 216.47,647.1 217.14,648.83 217.81,647.32 218.48,648.33 219.15,646.72 219.82,647.52 220.49,645.99 221.16,645.61 221.83,648.28 222.5,647.74 223.17,647.5 223.84,644.76 224.51,643.14 225.18,644.49 225.85,646.14 226.52,644.17 227.19,647.79 227.86,644.17"/>
<polyline fill="none" stroke="#22ee22" stroke-width="1.45" stroke-linejoin="round" points="34.9,635.86 35.57,636.77 36.24,640.04 36.91,638.99 37.58,639.24 38.25,639.15 38.92,640.97 39.59,640.03 40.26,638.49 40.93,638.47 41.6,637.45 42.27,638.35 42.94,636.15 43.61,639.5 44.28,639.1 44.95,641.59 45.62,640.68 46.29,637.68 46.96,639.91 47.63,638.5 48.3,639.17 48.97,640.39 49.64,639.7 50.31,639.79 50.98,639.59 51.65,638.03 52.32,638.16 52.99,639.78 53.66,640.2 54.33,638.81 55,638.93 55.67,637.31 56.34,635.37 57.01,637.53 57.68,638.95 58.35,639.37 59.02,640.26 59.69,640.45 60.36,640.48 61.03,639.74 61.7,639.49 62.37,638.2 63.04,639.43 63.71,639.52 64.38,640.32 65.05,637.05 65.72,637.83 66.39,636.55 67.06,637.49 67.73,637.05 68.4,638.98 69.07,637.72 69.74,635.68 70.41,639.94 71.08,637.45 71.75,636.63 72.42,638.13 73.09,637.87 73.76,637.54 74.43,639.84 75.1,639.09 75.77,640.66 76.44,640.76 77.11,640.75 77.78,640.27 78.45,639.98 79.12,640.06 79.79,642.13 80.46,638.45 81.13,639.32 81.8,640.49 82.47,642.25 83.14,642.32 83.81,641.84 84.48,642.64 85.15,645.38 85.82,642.67 86.49,640.68 87.16,646.5 87.83,644.18 88.5,645.12 89.17,646.13 89.84,645.24 90.51,648.66 91.18,647.71 91.85,664.19 92.52,684.29 93.19,689.7 93.86,685.47 94.53,682.33 95.2,677 95.87,676.55 96.54,672.19 97.21,671.76 97.88,667.37 98.55,666.32 99.22,667.3 99.89,662.82 100.56,662.18 101.23,659.94 101.9,656.64 102.57,658.9 103.24,658.23 103.91,654.73 104.58,655.57 105.25,654.07 105.92,655.57 106.59,657.15 107.26,656.03 107.93,654.22 108.6,654.49 109.27,655.7 109.94,655.78 110.61,656.01 111.28,656.18 111.95,653.27 112.62,655.5 113.29,657.14 113.96,656.23 114.63,654.53 115.3,654.53 115.97,655.59 116.64,656.25 117.31,655.67 117.98,657.65 118.65,657.06 119.32,654.43 119.99,655.57 120.66,654.48 121.33,653.3 122,653.96 122.67,654.48 123.34,652.04 124.01,653.71 124.68,655.05 125.35,653.81 126.02,654.22 126.69,655.71 127.36,654.7 128.03,655.11 128.7,657.15 129.37,655.08 130.04,654.92 130.71,655.29 131.38,656.62 132.05,655.05 132.72,654.36 133.39,654.28 134.06,655.53 134.73,653.69 135.4,655.6 136.07,654.31 136.74,652.45 137.41,654.72 138.08,654.5 138.75,652.61 139.42,654.18 140.09,654.18 140.76,653.31 141.43,652.63 142.1,656.45 142.77,655.18 143.44,655.15 144.11,655.2 144.78,654.86 145.45,654.58 146.12,653.24 146.79,654.39 147.46,653.18 148.13,652.81 148.8,654.06 149.47,652.86 150.14,650.97 150.81,652.56 151.48,653.91 152.15,653.46 152.82,654.28 153.49,652.8 154.16,652.14 154.83,654.15 155.5,653.47 156.17,651.99 156.84,653.83 157.51,653.5 158.18,655.06 158.85,655.1 159.52,654.45 160.19,651.68 160.86,654.87 161.53,655.82 162.2,656.26 162.87,656.15 163.54,655.71 164.21,656.54 164.88,655.31 165.55,658.01 166.22,657.9 166.89,660.2 167.56,661.48 168.23,665.11 168.9,665.16 169.57,666.41 170.24,668.52 170.91,672.13 171.58,670.52 172.25,673.39 172.92,675.37 173.59,676.87 174.26,678.39 174.93,679.47 175.6,682.97 176.27,684.06 176.94,683.83 177.61,685.14 178.28,686.97 178.95,688.35 179.62,689.49 180.29,689.16 180.96,688.53 181.63,691.37 182.3,689.12 182.97,690.24 183.64,692.2 184.31,691.55 184.98,694.53 185.65,695.41 186.32,694.98 186.99,693.98 187.66,693.92 188.33,680.72 189,670.22 189.67,664.87 190.34,656.41 191.01,653.9 191.68,649.88 192.35,647.05 193.02,646.07 193.69,644.96 194.36,643.28 195.03,641.04 195.7,639.5 196.37,639.21 197.04,640.79 197.71,640.52 198.38,640.23 199.05,638.76 199.72,641.05 200.39,637.49 201.06,639.12 201.73,639.54 202.4,638.03 203.07,637.05 203.74,637.68 204.41,637.02 205.08,637.88 205.75,636.63 206.42,636.65 207.09,638.09 207.76,636.56 208.43,637.93 209.1,638.39 209.77,639.57 210.44,638.76 211.11,637.65 211.78,639.8 212.45,637.71 213.12,637.79 213.79,638.32 214.46,641.13 215.13,638.75 215.8,637.69 216.47,639.22 217.14,638.75 217.81,641.25 218.48,638 219.15,638.96 219.82,637.67 220.49,640.45 221.16,637.83 221.83,638.43 222.5,637.54 223.17,639.51 223.84,638.94 224.51,635.77 225.18,639.18 225.85,639.44 226.52,638.99 227.19,639.52 227.86,636.76"/>
<polyline fill="none" stroke="#ff1a1a" stroke-width="1.45" stroke-linejoin="round" points="34.9,637.59 35.57,634.01 36.24,633.67 36.91,634 37.58,633.94 38.25,636.39 38.92,636.01 39.59,637.48 40.26,637.33 40.93,634.5 41.6,635.77 42.27,632.57 42.94,635.07 43.61,636.12 44.28,634.21 44.95,632.89 45.62,634.7 46.29,636.87 46.96,634.92 47.63,633.67 48.3,635.97 48.97,636.35 49.64,634.21 50.31,635.26 50.98,636.9 51.65,636.22 52.32,636.42 52.99,635.15 53.66,635.05 54.33,633.81 55,634.58 55.67,637.28 56.34,635.01 57.01,634.13 57.68,634.53 58.35,634.11 59.02,636.13 59.69,636.6 60.36,634.55 61.03,637.01 61.7,638.24 62.37,634.57 63.04,636.25 63.71,636.17 64.38,637.51 65.05,637.56 65.72,637.2 66.39,636.02 67.06,635.38 67.73,638.23 68.4,635.02 69.07,637.01 69.74,636.89 70.41,634.74 71.08,635.67 71.75,637.15 72.42,633.51 73.09,636.38 73.76,635.53 74.43,635.39 75.1,634.35 75.77,636.59 76.44,635.57 77.11,637.63 77.78,636.18 78.45,638.67 79.12,638.54 79.79,636.29 80.46,638.54 81.13,639.29 81.8,637.47 82.47,640.4 83.14,642.66 83.81,641.88 84.48,644.5 85.15,642.61 85.82,643.27 86.49,646.45 87.16,647.6 87.83,647.56 88.5,648.8 89.17,650.9 89.84,650.56 90.51,654.55 91.18,654.04 91.85,673.97 92.52,693.95 93.19,698.23 93.86,694.55 94.53,687.56 95.2,683.61 95.87,680 96.54,676.79 97.21,672.51 97.88,667.05 98.55,664.99 99.22,660.62 99.89,656.35 100.56,653.59 101.23,650.94 101.9,651.4 102.57,650.66 103.24,646.72 103.91,645.97 104.58,644.28 105.25,644.75 105.92,643.07 106.59,643.25 107.26,643.48 107.93,643.77 108.6,643.95 109.27,644.16 109.94,644.05 110.61,643.28 111.28,644.71 111.95,642.32 112.62,644.14 113.29,643.18 113.96,644.4 114.63,644.38 115.3,641.81 115.97,644.61 116.64,646.13 117.31,645.47 117.98,644.44 118.65,641.46 119.32,643.45 119.99,643.11 120.66,645.26 121.33,643.75 122,642.91 122.67,641.77 123.34,644.59 124.01,643.34 124.68,643.71 125.35,645.29 126.02,644.22 126.69,644.69 127.36,646.9 128.03,643.43 128.7,643.17 129.37,644.57 130.04,645.42 130.71,642.09 131.38,643.06 132.05,642.19 132.72,641.85 133.39,644.05 134.06,642.79 134.73,643.88 135.4,643.8 136.07,643.77 136.74,643.46 137.41,642.14 138.08,643.26 138.75,643.78 139.42,643.86 140.09,643.26 140.76,644.67 141.43,644.27 142.1,643.68 142.77,644.18 143.44,643.74 144.11,643.86 144.78,640.64 145.45,641.21 146.12,642.51 146.79,642.92 147.46,640.38 148.13,642.53 148.8,643.34 149.47,642.95 150.14,642.76 150.81,641.63 151.48,643.05 152.15,641.13 152.82,644.52 153.49,643.39 154.16,645.05 154.83,642.23 155.5,644.76 156.17,644.89 156.84,643.85 157.51,644.04 158.18,647.38 158.85,647.47 159.52,649.06 160.19,647.99 160.86,648.91 161.53,650.24 162.2,651.72 162.87,652.62 163.54,654.15 164.21,653.86 164.88,654.56 165.55,660.37 166.22,660.59 166.89,662.67 167.56,664.07 168.23,668.11 168.9,670.03 169.57,673.47 170.24,674.26 170.91,677.65 171.58,680.89 172.25,683.24 172.92,687.02 173.59,691.26 174.26,691.43 174.93,694.14 175.6,697.03 176.27,697.88 176.94,699.89 177.61,704.77 178.28,706.15 178.95,704.73 179.62,706.34 180.29,710.55 180.96,712.56 181.63,712.95 182.3,713.78 182.97,715.71 183.64,714.72 184.31,716.77 184.98,717.1 185.65,715.06 186.32,717.11 186.99,716.82 187.66,716.09 188.33,695.83 189,682 189.67,670.3 190.34,662.21 191.01,652.58 191.68,648.86 192.35,647.33 193.02,643.19 193.69,639.95 194.36,638.27 195.03,635.38 195.7,635.12 196.37,636.88 197.04,636.26 197.71,637.07 198.38,634.98 199.05,634.21 199.72,631.16 200.39,634.35 201.06,637.28 201.73,635.59 202.4,634.5 203.07,636.04 203.74,635.64 204.41,634.79 205.08,633.85 205.75,634.5 206.42,635.24 207.09,633.39 207.76,634.82 208.43,635.12 209.1,636.16 209.77,635.3 210.44,633.7 211.11,636.16 211.78,634.39 212.45,633.3 213.12,634.49 213.79,634.08 214.46,635.35 215.13,632.46 215.8,632.47 216.47,633.95 217.14,636.56 217.81,635.63 218.48,632.78 219.15,631.72 219.82,633.29 220.49,632.58 221.16,634.77 221.83,634.49 222.5,634.11 223.17,633.85 223.84,635.91 224.51,632.96 225.18,632.47 225.85,635.65 226.52,636.04 227.19,634.02 227.86,635.33"/>
<polyline fill="none" stroke="#ff7d18" stroke-width="1.45" stroke-linejoin="round" points="34.9,633.03 35.57,633.47 36.24,630.91 36.91,632.91 37.58,634.08 38.25,633.39 38.92,634.53 39.59,634.21 40.26,633 40.93,633.89 41.6,633.61 42.27,631.31 42.94,631.93 43.61,632.15 44.28,632.47 44.95,632.43 45.62,631.54 46.29,632.81 46.96,631.29 47.63,634.11 48.3,633.87 48.97,634.9 49.64,633.77 50.31,632.51 50.98,631.63 51.65,633.8 52.32,633.39 52.99,633.77 53.66,634.31 54.33,634.7 55,633.6 55.67,635.19 56.34,633.37 57.01,633.31 57.68,634.14 58.35,634.69 59.02,634.7 59.69,631.52 60.36,634.29 61.03,631.6 61.7,632.41 62.37,633.75 63.04,634.47 63.71,631.99 64.38,631.28 65.05,634.11 65.72,633.58 66.39,632.06 67.06,632.44 67.73,631.02 68.4,633.54 69.07,632.9 69.74,634.3 70.41,631.16 71.08,634.1 71.75,635.89 72.42,633.78 73.09,633.28 73.76,631.37 74.43,633.71 75.1,633.72 75.77,633.02 76.44,632.25 77.11,634.05 77.78,633.36 78.45,634.2 79.12,635.45 79.79,635.49 80.46,635.99 81.13,637.16 81.8,635.66 82.47,638.39 83.14,636.36 83.81,636.89 84.48,638.73 85.15,640.12 85.82,640.09 86.49,639.79 87.16,640.08 87.83,641.12 88.5,641.3 89.17,643.56 89.84,643.88 90.51,646.25 91.18,644.74 91.85,665.97 92.52,687.26 93.19,690.67 93.86,686.26 94.53,684.94 95.2,677.74 95.87,674.26 96.54,667.28 97.21,661.87 97.88,661.39 98.55,657.86 99.22,655.01 99.89,651.54 100.56,648.52 101.23,645.83 101.9,645.98 102.57,642.05 103.24,642.92 103.91,640.6 104.58,638.57 105.25,638.54 105.92,640.07 106.59,639.89 107.26,639.5 107.93,638.81 108.6,637.72 109.27,640.04 109.94,638.35 110.61,637.92 111.28,637.95 111.95,637.89 112.62,636.84 113.29,637.78 113.96,637.53 114.63,637.61 115.3,636.76 115.97,640.29 116.64,637.41 117.31,638.69 117.98,639 118.65,639.89 119.32,640.77 119.99,639.23 120.66,639.18 121.33,638.14 122,639.77 122.67,636.9 123.34,637.85 124.01,638.65 124.68,639.23 125.35,639.41 126.02,639.7 126.69,638.99 127.36,638.28 128.03,638.57 128.7,639.81 129.37,638.75 130.04,639.12 130.71,637.76 131.38,635.83 132.05,637.1 132.72,638.5 133.39,640.07 134.06,640.03 134.73,639.95 135.4,637.44 136.07,638.65 136.74,637.99 137.41,638.53 138.08,637.61 138.75,636.3 139.42,638.4 140.09,638.35 140.76,638.57 141.43,636.98 142.1,638.89 142.77,639.29 143.44,639.57 144.11,639.34 144.78,636.9 145.45,634.74 146.12,638.18 146.79,636.55 147.46,637.24 148.13,638.75 148.8,637.99 149.47,637.88 150.14,638.02 150.81,635.66 151.48,639.32 152.15,637.3 152.82,637.18 153.49,638.14 154.16,637.37 154.83,636.59 155.5,637.33 156.17,637.17 156.84,637.3 157.51,639.96 158.18,636.39 158.85,635.33 159.52,636.88 160.19,637.63 160.86,640.48 161.53,639.81 162.2,640.79 162.87,640.9 163.54,639.91 164.21,642.25 164.88,642.75 165.55,645.29 166.22,644.53 166.89,645.26 167.56,647.44 168.23,648.69 168.9,647.86 169.57,652.86 170.24,655.18 170.91,656.9 171.58,656.98 172.25,658.65 172.92,663.58 173.59,668.04 174.26,670.84 174.93,672.66 175.6,677.68 176.27,678.61 176.94,681.78 177.61,686.42 178.28,689.01 178.95,691.6 179.62,693.76 180.29,698.8 180.96,699.17 181.63,702.76 182.3,705.19 182.97,705.99 183.64,707.82 184.31,710.14 184.98,712 185.65,712.01 186.32,710 186.99,710.02 187.66,712.01 188.33,692.91 189,680.37 189.67,669.2 190.34,660.7 191.01,655.95 191.68,651.17 192.35,646.41 193.02,644.13 193.69,642.77 194.36,639.77 195.03,638.95 195.7,636.84 196.37,637.19 197.04,637.09 197.71,636.31 198.38,636.36 199.05,636.71 199.72,636.14 200.39,634.69 201.06,634.45 201.73,634.09 202.4,637.14 203.07,636.05 203.74,635.77 204.41,635.18 205.08,635.79 205.75,635.75 206.42,634.37 207.09,635.05 207.76,636.3 208.43,633.7 209.1,633.95 209.77,635.57 210.44,634.42 211.11,635.73 211.78,634.04 212.45,635.38 213.12,636.17 213.79,635.82 214.46,636.07 215.13,635.04 215.8,634.94 216.47,635.19 217.14,636.32 217.81,639.39 218.48,635.86 219.15,637.28 219.82,635.01 220.49,633.82 221.16,634.76 221.83,635.6 222.5,635.45 223.17,635.43 223.84,635.9 224.51,636.04 225.18,636.14 225.85,633.96 226.52,634.89 227.19,634.13 227.86,635.31"/>
<line x1="91.18" y1="626.5" x2="91.18" y2="755.4" stroke="#222" stroke-width="0.8" stroke-dasharray="1.2,1.2"/>
<line x1="187.66" y1="626.5" x2="187.66" y2="755.4" stroke="#222" stroke-width="0.8" stroke-dasharray="1.2,1.2"/>
<line x1="34.9" y1="627.5" x2="34.9" y2="756.1" stroke="#111" stroke-width="1.4"/>
<line x1="29.8" y1="755.4" x2="34.9" y2="755.4" stroke="#111" stroke-width="1.1"/>
<line x1="32.3" y1="749" x2="34.9" y2="749" stroke="#111" stroke-width="1.1"/>
<line x1="32.3" y1="742.61" x2="34.9" y2="742.61" stroke="#111" stroke-width="1.1"/>
<line x1="32.3" y1="736.22" x2="34.9" y2="736.22" stroke="#111" stroke-width="1.1"/>
<line x1="32.3" y1="729.82" x2="34.9" y2="729.82" stroke="#111" stroke-width="1.1"/>
<line x1="32.3" y1="723.42" x2="34.9" y2="723.42" stroke="#111" stroke-width="1.1"/>
<line x1="32.3" y1="717.03" x2="34.9" y2="717.03" stroke="#111" stroke-width="1.1"/>
<line x1="32.3" y1="710.63" x2="34.9" y2="710.63" stroke="#111" stroke-width="1.1"/>
<line x1="32.3" y1="704.24" x2="34.9" y2="704.24" stroke="#111" stroke-width="1.1"/>
<line x1="32.3" y1="697.85" x2="34.9" y2="697.85" stroke="#111" stroke-width="1.1"/>
<line x1="29.8" y1="691.45" x2="34.9" y2="691.45" stroke="#111" stroke-width="1.1"/>
<line x1="32.3" y1="685.05" x2="34.9" y2="685.05" stroke="#111" stroke-width="1.1"/>
<line x1="32.3" y1="678.66" x2="34.9" y2="678.66" stroke="#111" stroke-width="1.1"/>
<line x1="32.3" y1="672.26" x2="34.9" y2="672.26" stroke="#111" stroke-width="1.1"/>
<line x1="32.3" y1="665.87" x2="34.9" y2="665.87" stroke="#111" stroke-width="1.1"/>
<line x1="32.3" y1="659.48" x2="34.9" y2="659.48" stroke="#111" stroke-width="1.1"/>
<line x1="32.3" y1="653.08" x2="34.9" y2="653.08" stroke="#111" stroke-width="1.1"/>
<line x1="32.3" y1="646.68" x2="34.9" y2="646.68" stroke="#111" stroke-width="1.1"/>
<line x1="32.3" y1="640.29" x2="34.9" y2="640.29" stroke="#111" stroke-width="1.1"/>
<line x1="32.3" y1="633.89" x2="34.9" y2="633.89" stroke="#111" stroke-width="1.1"/>
<line x1="29.8" y1="627.5" x2="34.9" y2="627.5" stroke="#111" stroke-width="1.1"/>
<text x="27.8" y="758.7" font-size="9.3" text-anchor="end" font-weight="bold" font-style="normal" fill="#111">0</text>
<text x="27.8" y="694.75" font-size="9.3" text-anchor="end" font-weight="bold" font-style="normal" fill="#111">50</text>
<text x="27.8" y="630.8" font-size="9.3" text-anchor="end" font-weight="bold" font-style="normal" fill="#111">100</text>
<line x1="34.2" y1="755.4" x2="228.36" y2="755.4" stroke="#111" stroke-width="1.4"/>
<line x1="91.18" y1="756.1" x2="187.66" y2="756.1" stroke="#f8f000" stroke-width="1.7"/>
<line x1="34.9" y1="755.4" x2="34.9" y2="760.9" stroke="#111" stroke-width="1.3"/>
<line x1="42.94" y1="755.4" x2="42.94" y2="758" stroke="#111" stroke-width="1"/>
<line x1="50.98" y1="755.4" x2="50.98" y2="758" stroke="#111" stroke-width="1"/>
<line x1="59.02" y1="755.4" x2="59.02" y2="758" stroke="#111" stroke-width="1"/>
<line x1="67.06" y1="755.4" x2="67.06" y2="758" stroke="#111" stroke-width="1"/>
<line x1="75.1" y1="755.4" x2="75.1" y2="758" stroke="#111" stroke-width="1"/>
<line x1="83.14" y1="755.4" x2="83.14" y2="758" stroke="#111" stroke-width="1"/>
<line x1="99.22" y1="755.4" x2="99.22" y2="758" stroke="#111" stroke-width="1"/>
<line x1="107.26" y1="755.4" x2="107.26" y2="758" stroke="#111" stroke-width="1"/>
<line x1="115.3" y1="755.4" x2="115.3" y2="760.9" stroke="#111" stroke-width="1.3"/>
<line x1="123.34" y1="755.4" x2="123.34" y2="758" stroke="#111" stroke-width="1"/>
<line x1="131.38" y1="755.4" x2="131.38" y2="758" stroke="#111" stroke-width="1"/>
<line x1="139.42" y1="755.4" x2="139.42" y2="758" stroke="#111" stroke-width="1"/>
<line x1="147.46" y1="755.4" x2="147.46" y2="758" stroke="#111" stroke-width="1"/>
<line x1="155.5" y1="755.4" x2="155.5" y2="758" stroke="#111" stroke-width="1"/>
<line x1="163.54" y1="755.4" x2="163.54" y2="758" stroke="#111" stroke-width="1"/>
<line x1="171.58" y1="755.4" x2="171.58" y2="758" stroke="#111" stroke-width="1"/>
<line x1="179.62" y1="755.4" x2="179.62" y2="758" stroke="#111" stroke-width="1"/>
<line x1="195.7" y1="755.4" x2="195.7" y2="760.9" stroke="#111" stroke-width="1.3"/>
<line x1="203.74" y1="755.4" x2="203.74" y2="758" stroke="#111" stroke-width="1"/>
<line x1="211.78" y1="755.4" x2="211.78" y2="758" stroke="#111" stroke-width="1"/>
<line x1="219.82" y1="755.4" x2="219.82" y2="758" stroke="#111" stroke-width="1"/>
<line x1="227.86" y1="755.4" x2="227.86" y2="758" stroke="#111" stroke-width="1"/>
<line x1="91.18" y1="749.4" x2="91.18" y2="760.9" stroke="#f8f000" stroke-width="1.4"/>
<line x1="187.66" y1="749.4" x2="187.66" y2="760.9" stroke="#f8f000" stroke-width="1.4"/>
<text x="34.9" y="770.9" font-size="9.3" text-anchor="middle" font-weight="bold" font-style="normal" fill="#111">0</text>
<text x="115.3" y="770.9" font-size="9.3" text-anchor="middle" font-weight="bold" font-style="normal" fill="#111">10</text>
<text x="195.7" y="770.9" font-size="9.3" text-anchor="middle" font-weight="bold" font-style="normal" fill="#111">20</text>
<text x="91.18" y="769.5" font-size="6.6" text-anchor="middle" font-weight="normal" font-style="normal" fill="#222" textLength="9.6" lengthAdjust="spacingAndGlyphs">ZT0</text>
<text x="188.86" y="769.5" font-size="6.6" text-anchor="end" font-weight="normal" font-style="normal" fill="#222" textLength="12.8" lengthAdjust="spacingAndGlyphs">ZT12</text>
<text x="141.1" y="771.2" font-size="9.2" text-anchor="middle" font-weight="bold" font-style="normal" fill="#111">Hours</text>
<text x="8.8" y="696.3" font-size="9.47" text-anchor="middle" font-weight="bold" font-style="normal" fill="#111" transform="rotate(-90 8.8 696.3)">% of flies sleeping</text>
<line x1="192.1" y1="554.2" x2="203.4" y2="554.2" stroke="#f4232b" stroke-width="1.7"/>
<g fill="none" stroke="#777" stroke-width="0.71">
<circle cx="211.72" cy="554.35" r="2.35"/>
<path d="M213.38 552.69L215.08 548.64M212.9 548.8L215.08 548.64L215.25 550.82"/>
</g>
<text x="219.6" y="555" font-size="9" text-anchor="start" font-weight="bold" font-style="italic" fill="#111">W</text>
<text x="228.6" y="552.2" font-size="5.5" text-anchor="start" font-weight="bold" font-style="italic" fill="#111">1118</text>
<text x="242.1" y="555" font-size="9.35" text-anchor="start" font-weight="bold" font-style="normal" fill="#111">Sterile Water Injected</text>
<line x1="192.1" y1="574.1" x2="203.4" y2="574.1" stroke="#25e325" stroke-width="1.7"/>
<g fill="none" stroke="#777" stroke-width="0.71">
<circle cx="211.72" cy="574.75" r="2.35"/>
<path d="M213.38 573.09L215.08 569.04M212.9 569.2L215.08 569.04L215.25 571.22"/>
</g>
<text x="219.6" y="575.4" font-size="9" text-anchor="start" font-weight="bold" font-style="italic" fill="#111">W</text>
<text x="228.6" y="572.6" font-size="5.5" text-anchor="start" font-weight="bold" font-style="italic" fill="#111">1118</text>
<text x="242.1" y="575.4" font-size="9.35" text-anchor="start" font-weight="bold" font-style="normal" fill="#111">EBV DNA Injected</text>
<line x1="192.1" y1="595" x2="203.4" y2="595" stroke="#3fe2ad" stroke-width="1.7"/>
<g fill="none" stroke="#777" stroke-width="0.71">
<circle cx="211.72" cy="594.15" r="2.35"/>
<path d="M213.38 592.49L215.08 588.44M212.9 588.6L215.08 588.44L215.25 590.62"/>
</g>
<text x="219.6" y="594.8" font-size="9" text-anchor="start" font-weight="bold" font-style="italic" fill="#111">W</text>
<text x="228.6" y="592" font-size="5.5" text-anchor="start" font-weight="bold" font-style="italic" fill="#111">1118</text>
<text x="242.1" y="594.8" font-size="9.35" text-anchor="start" font-weight="bold" font-style="normal" fill="#111">PBS Injected</text>
<line x1="192.1" y1="613.7" x2="203.4" y2="613.7" stroke="#f95b2a" stroke-width="1.5"/>
<g fill="none" stroke="#777" stroke-width="0.71">
<circle cx="211.72" cy="612.45" r="2.35"/>
<path d="M213.38 610.79L215.08 606.74M212.9 606.9L215.08 606.74L215.25 608.92"/>
</g>
<text x="219.6" y="613.1" font-size="9" text-anchor="start" font-weight="bold" font-style="italic" fill="#111">W</text>
<text x="228.6" y="610.3" font-size="5.5" text-anchor="start" font-weight="bold" font-style="italic" fill="#111">1118</text>
<text x="242.1" y="613.1" font-size="9.35" text-anchor="start" font-weight="bold" font-style="normal" fill="#111">EBV</text>
<text x="263.7" y="616.1" font-size="6.3" text-anchor="start" font-weight="normal" font-style="normal" fill="#000" textLength="32.2" lengthAdjust="spacingAndGlyphs">70 viral particles</text>
<text x="299.3" y="613.1" font-size="9.35" text-anchor="start" font-weight="bold" font-style="normal" fill="#111">Injected</text>
<text x="346.8" y="589.7" font-size="19" text-anchor="start" font-weight="bold" font-style="normal" fill="#111">f</text>
<rect x="385.7" y="707.55" width="15.6" height="47.25" fill="#fff" stroke="#8a8a8a" stroke-width="0.9"/>
<rect x="409.9" y="711.45" width="15.6" height="43.35" fill="#fff" stroke="#8a8a8a" stroke-width="0.9"/>
<rect x="458.8" y="688.55" width="15.6" height="66.25" fill="#fff" stroke="#8a8a8a" stroke-width="0.9"/>
<rect x="483" y="720.7" width="15.6" height="34.1" fill="#fff" stroke="#8a8a8a" stroke-width="0.9"/>
<line x1="393.5" y1="681.57" x2="393.5" y2="733.53" stroke="#777" stroke-width="0.9"/>
<line x1="390.37" y1="681.57" x2="396.63" y2="681.57" stroke="#777" stroke-width="0.9"/>
<line x1="390.37" y1="733.53" x2="396.63" y2="733.53" stroke="#777" stroke-width="0.9"/>
<line x1="417.7" y1="691.96" x2="417.7" y2="730.93" stroke="#777" stroke-width="0.9"/>
<line x1="414.57" y1="691.96" x2="420.83" y2="691.96" stroke="#777" stroke-width="0.9"/>
<line x1="414.57" y1="730.93" x2="420.83" y2="730.93" stroke="#777" stroke-width="0.9"/>
<line x1="466.6" y1="670.69" x2="466.6" y2="706.41" stroke="#777" stroke-width="0.9"/>
<line x1="463.47" y1="670.69" x2="469.73" y2="670.69" stroke="#777" stroke-width="0.9"/>
<line x1="463.47" y1="706.41" x2="469.73" y2="706.41" stroke="#777" stroke-width="0.9"/>
<line x1="490.8" y1="700.4" x2="490.8" y2="741" stroke="#777" stroke-width="0.9"/>
<line x1="487.67" y1="700.4" x2="493.93" y2="700.4" stroke="#777" stroke-width="0.9"/>
<line x1="487.67" y1="741" x2="493.93" y2="741" stroke="#777" stroke-width="0.9"/>
<g fill="#000">
<circle cx="393.5" cy="639.51" r="2.79"/>
<circle cx="393.5" cy="648.93" r="2.79"/>
<circle cx="393.5" cy="660.46" r="2.79"/>
<circle cx="393.5" cy="675.72" r="2.79"/>
<circle cx="392.36" cy="682.71" r="2.79"/>
<circle cx="394.73" cy="685.79" r="2.79"/>
<circle cx="392.36" cy="688.88" r="2.79"/>
<circle cx="397.1" cy="702.84" r="2.79"/>
<circle cx="394.73" cy="706.74" r="2.79"/>
<circle cx="390.85" cy="709.01" r="2.79"/>
<circle cx="393.97" cy="711.28" r="2.79"/>
<circle cx="390.09" cy="713.72" r="2.79"/>
<circle cx="397.1" cy="715.18" r="2.79"/>
<circle cx="387.82" cy="717.62" r="2.79"/>
<circle cx="399.37" cy="718.43" r="2.79"/>
<circle cx="394.73" cy="719.89" r="2.79"/>
<circle cx="391.61" cy="721.51" r="2.79"/>
<circle cx="397.86" cy="722.97" r="2.79"/>
<circle cx="388.48" cy="725.41" r="2.79"/>
<circle cx="394.73" cy="726.06" r="2.79"/>
<circle cx="392.36" cy="727.68" r="2.79"/>
<circle cx="390.09" cy="730.77" r="2.79"/>
<circle cx="396.34" cy="734.67" r="2.79"/>
<circle cx="390.09" cy="736.94" r="2.79"/>
<circle cx="393.97" cy="736.94" r="2.79"/>
</g>
<g fill="#000">
<rect x="415.19" y="671.91" width="5.03" height="5.03"/>
<rect x="415.19" y="680.03" width="5.03" height="5.03"/>
<rect x="413.77" y="687.34" width="5.03" height="5.03"/>
<rect x="410.45" y="689.77" width="5.03" height="5.03"/>
<rect x="418.97" y="690.91" width="5.03" height="5.03"/>
<rect x="412.34" y="691.88" width="5.03" height="5.03"/>
<rect x="420.87" y="693.02" width="5.03" height="5.03"/>
<rect x="415.19" y="693.83" width="5.03" height="5.03"/>
<rect x="409.5" y="694.64" width="5.03" height="5.03"/>
<rect x="418.03" y="695.45" width="5.03" height="5.03"/>
<rect x="413.29" y="696.27" width="5.03" height="5.03"/>
<rect x="421.81" y="697.08" width="5.03" height="5.03"/>
<rect x="411.4" y="697.4" width="5.03" height="5.03"/>
<rect x="416.13" y="697.89" width="5.03" height="5.03"/>
<rect x="419.92" y="698.7" width="5.03" height="5.03"/>
<rect x="414.24" y="699.51" width="5.03" height="5.03"/>
<rect x="418.03" y="700.33" width="5.03" height="5.03"/>
<rect x="412.34" y="701.95" width="5.03" height="5.03"/>
<rect x="416.13" y="703.57" width="5.03" height="5.03"/>
<rect x="415.19" y="704.87" width="5.03" height="5.03"/>
<rect x="413.29" y="706.33" width="5.03" height="5.03"/>
<rect x="418.97" y="709.74" width="5.03" height="5.03"/>
<rect x="411.4" y="710.88" width="5.03" height="5.03"/>
<rect x="419.92" y="713.64" width="5.03" height="5.03"/>
<rect x="412.34" y="717.38" width="5.03" height="5.03"/>
<rect x="418.03" y="717.86" width="5.03" height="5.03"/>
<rect x="415.19" y="724.36" width="5.03" height="5.03"/>
<rect x="415.19" y="727.93" width="5.03" height="5.03"/>
<rect x="415.19" y="738.48" width="5.03" height="5.03"/>
<rect x="414.24" y="740.11" width="5.03" height="5.03"/>
<rect x="416.13" y="742.22" width="5.03" height="5.03"/>
<rect x="415.19" y="746.6" width="5.03" height="5.03"/>
<rect x="414.24" y="749.36" width="5.03" height="5.03"/>
</g>
<g fill="#000">
<path d="M463.67 652.4L469.53 652.4L466.6 657.71Z"/>
<path d="M463.67 657.76L469.53 657.76L466.6 663.07Z"/>
<path d="M463.67 662.47L469.53 662.47L466.6 667.78Z"/>
<path d="M463.67 667.02L469.53 667.02L466.6 672.32Z"/>
<path d="M462.44 670.91L468.3 670.91L465.37 676.22Z"/>
<path d="M464.9 670.91L470.76 670.91L467.83 676.22Z"/>
<path d="M459.88 677.08L465.75 677.08L462.81 682.39Z"/>
<path d="M463.19 677.08L469.06 677.08L466.13 682.39Z"/>
<path d="M468.4 677.08L474.27 677.08L471.34 682.39Z"/>
<path d="M457.98 679.52L463.85 679.52L460.92 684.83Z"/>
<path d="M462.25 679.52L468.11 679.52L465.18 684.83Z"/>
<path d="M466.98 679.52L472.85 679.52L469.91 684.83Z"/>
<path d="M461.77 684.23L467.64 684.23L464.71 689.54Z"/>
<path d="M465.56 684.23L471.43 684.23L468.49 689.54Z"/>
<path d="M462.72 687.96L468.59 687.96L465.65 693.27Z"/>
<path d="M466.03 687.96L471.9 687.96L468.97 693.27Z"/>
<path d="M462.25 692.67L468.11 692.67L465.18 697.98Z"/>
<path d="M466.03 692.67L471.9 692.67L468.97 697.98Z"/>
<path d="M461.3 698.84L467.17 698.84L464.23 704.15Z"/>
<path d="M465.09 698.84L470.95 698.84L468.02 704.15Z"/>
<path d="M462.72 703.55L468.59 703.55L465.65 708.86Z"/>
<path d="M466.51 703.55L472.37 703.55L469.44 708.86Z"/>
<path d="M461.3 711.34L467.17 711.34L464.23 716.65Z"/>
<path d="M465.09 711.34L470.95 711.34L468.02 716.65Z"/>
<path d="M463.67 720.6L469.53 720.6L466.6 725.91Z"/>
<path d="M463.67 672.86L469.53 672.86L466.6 678.17Z"/>
<path d="M461.77 674.49L467.64 674.49L464.71 679.79Z"/>
<path d="M465.56 675.3L471.43 675.3L468.49 680.61Z"/>
<path d="M463.67 680.98L469.53 680.98L466.6 686.29Z"/>
<path d="M460.83 682.6L466.69 682.6L463.76 687.91Z"/>
<path d="M466.51 685.85L472.37 685.85L469.44 691.16Z"/>
<path d="M463.67 690.72L469.53 690.72L466.6 696.03Z"/>
</g>
<g fill="#000">
<path d="M490.8 683.36L494.04 686.6L490.8 689.84L487.56 686.6Z"/>
<path d="M491.75 689.53L494.99 692.77L491.75 696.01L488.51 692.77Z"/>
<path d="M493.64 690.99L496.88 694.23L493.64 697.47L490.4 694.23Z"/>
<path d="M488.43 694.24L491.67 697.48L488.43 700.72L485.19 697.48Z"/>
<path d="M492.69 700.41L495.93 703.65L492.69 706.89L489.45 703.65Z"/>
<path d="M489.38 701.06L492.62 704.3L489.38 707.54L486.14 704.3Z"/>
<path d="M487.96 711.29L491.2 714.53L487.96 717.77L484.72 714.53Z"/>
<path d="M495.54 711.29L498.78 714.53L495.54 717.77L492.29 714.53Z"/>
<path d="M486.06 716.65L489.31 719.89L486.06 723.13L482.82 719.89Z"/>
<path d="M490.8 716.65L494.04 719.89L490.8 723.13L487.56 719.89Z"/>
<path d="M496.48 716.65L499.72 719.89L496.48 723.13L493.24 719.89Z"/>
<path d="M489.38 719.08L492.62 722.32L489.38 725.57L486.14 722.32Z"/>
<path d="M493.17 719.08L496.41 722.32L493.17 725.57L489.93 722.32Z"/>
<path d="M489.38 726.07L492.62 729.31L489.38 732.55L486.14 729.31Z"/>
<path d="M490.8 728.34L494.04 731.58L490.8 734.82L487.56 731.58Z"/>
<path d="M492.69 735.97L495.93 739.21L492.69 742.45L489.45 739.21Z"/>
<path d="M490.33 735.32L493.57 738.56L490.33 741.8L487.09 738.56Z"/>
<path d="M491.75 741.49L494.99 744.73L491.75 747.97L488.51 744.73Z"/>
<path d="M489.38 747.66L492.62 750.9L489.38 754.14L486.14 750.9Z"/>
<path d="M493.17 747.66L496.41 750.9L493.17 754.14L489.93 750.9Z"/>
<path d="M490.8 697.98L494.04 701.22L490.8 704.46L487.56 701.22Z"/>
<path d="M490.8 706.09L494.04 709.33L490.8 712.58L487.56 709.33Z"/>
<path d="M490.8 714.21L494.04 717.45L490.8 720.69L487.56 717.45Z"/>
</g>
<line x1="377.2" y1="624.9" x2="377.2" y2="755.5" stroke="#111" stroke-width="1.5"/>
<line x1="376.5" y1="754.8" x2="507.4" y2="754.8" stroke="#111" stroke-width="1.5"/>
<line x1="370.9" y1="754.8" x2="377.2" y2="754.8" stroke="#111" stroke-width="1.2"/>
<text x="369.4" y="758.3" font-size="9.6" text-anchor="end" font-weight="bold" font-style="normal" fill="#111">0</text>
<line x1="370.9" y1="722.32" x2="377.2" y2="722.32" stroke="#111" stroke-width="1.2"/>
<text x="369.4" y="725.82" font-size="9.6" text-anchor="end" font-weight="bold" font-style="normal" fill="#111">200</text>
<line x1="370.9" y1="689.85" x2="377.2" y2="689.85" stroke="#111" stroke-width="1.2"/>
<text x="369.4" y="693.35" font-size="9.6" text-anchor="end" font-weight="bold" font-style="normal" fill="#111">400</text>
<line x1="370.9" y1="657.38" x2="377.2" y2="657.38" stroke="#111" stroke-width="1.2"/>
<text x="369.4" y="660.88" font-size="9.6" text-anchor="end" font-weight="bold" font-style="normal" fill="#111">600</text>
<line x1="370.9" y1="624.9" x2="377.2" y2="624.9" stroke="#111" stroke-width="1.2"/>
<text x="369.4" y="628.4" font-size="9.6" text-anchor="end" font-weight="bold" font-style="normal" fill="#111">800</text>
<line x1="393.5" y1="754.8" x2="393.5" y2="760.1" stroke="#111" stroke-width="1.2"/>
<line x1="417.7" y1="754.8" x2="417.7" y2="760.1" stroke="#111" stroke-width="1.2"/>
<line x1="466.6" y1="754.8" x2="466.6" y2="760.1" stroke="#111" stroke-width="1.2"/>
<line x1="490.8" y1="754.8" x2="490.8" y2="760.1" stroke="#111" stroke-width="1.2"/>
<line x1="442" y1="754.8" x2="442" y2="760.1" stroke="#111" stroke-width="1.2"/>
<line x1="464" y1="646.6" x2="490.1" y2="646.6" stroke="#333" stroke-width="1.1"/>
<text x="477.05" y="649.5" font-size="13.8" text-anchor="middle" font-weight="normal" font-style="normal" fill="#222">****</text>
<text x="349.6" y="688.5" font-size="9.4" text-anchor="middle" font-weight="bold" font-style="normal" fill="#111" transform="rotate(-90 349.6 688.5)">Average sleep/day (min)</text>
<text x="396.6" y="766" font-size="9.35" text-anchor="end" font-weight="bold" font-style="normal" fill="#111" transform="rotate(-49 396.6 766)">Sterile Water Injected</text>
<text x="420.8" y="766" font-size="9.35" text-anchor="end" font-weight="bold" font-style="normal" fill="#111" transform="rotate(-49 420.8 766)">EBV DNA Injected</text>
<text x="469.7" y="766" font-size="9.35" text-anchor="end" font-weight="bold" font-style="normal" fill="#111" transform="rotate(-49 469.7 766)">PBS Injected</text>
<text x="493.9" y="766" font-size="9.35" font-weight="bold" fill="#111" text-anchor="end" transform="rotate(-49 493.9 766)">EBV <tspan font-size="6.3" font-weight="normal" fill="#000" dy="2.9" textLength="32.2" lengthAdjust="spacingAndGlyphs">70 viral particles</tspan><tspan dy="-2.9"> Injected</tspan></text>
<line x1="391.4" y1="839.5" x2="481.9" y2="839.5" stroke="#222" stroke-width="1"/>
<g fill="none" stroke="#666" stroke-width="0.92">
<circle cx="421.34" cy="849.88" r="3.02"/>
<path d="M423.48 847.74L425.66 842.53M422.85 842.75L425.66 842.53L425.88 845.34"/>
</g>
<text x="431.2" y="851" font-size="11.8" text-anchor="start" font-weight="bold" font-style="italic" fill="#111">W</text>
<text x="443" y="846.8" font-size="6.5" text-anchor="start" font-weight="bold" font-style="italic" fill="#111">1118</text>
<text x="513.8" y="586.4" font-size="19" text-anchor="start" font-weight="bold" font-style="normal" fill="#111">g</text>
<rect x="561.4" y="706.27" width="20.2" height="48.33" fill="#fff" stroke="#8a8a8a" stroke-width="0.9"/>
<rect x="591.6" y="697.01" width="20.2" height="57.59" fill="#fff" stroke="#8a8a8a" stroke-width="0.9"/>
<rect x="622.3" y="670.53" width="20.2" height="84.07" fill="#fff" stroke="#8a8a8a" stroke-width="0.9"/>
<rect x="653.4" y="714.22" width="20.2" height="40.38" fill="#fff" stroke="#8a8a8a" stroke-width="0.9"/>
<line x1="571.5" y1="683.77" x2="571.5" y2="728.78" stroke="#777" stroke-width="0.9"/>
<line x1="568.2" y1="683.77" x2="574.8" y2="683.77" stroke="#777" stroke-width="0.9"/>
<line x1="568.2" y1="728.78" x2="574.8" y2="728.78" stroke="#777" stroke-width="0.9"/>
<line x1="601.7" y1="672.84" x2="601.7" y2="721.17" stroke="#777" stroke-width="0.9"/>
<line x1="598.4" y1="672.84" x2="605" y2="672.84" stroke="#777" stroke-width="0.9"/>
<line x1="598.4" y1="721.17" x2="605" y2="721.17" stroke="#777" stroke-width="0.9"/>
<line x1="632.4" y1="651.99" x2="632.4" y2="689.06" stroke="#777" stroke-width="0.9"/>
<line x1="629.1" y1="651.99" x2="635.7" y2="651.99" stroke="#777" stroke-width="0.9"/>
<line x1="629.1" y1="689.06" x2="635.7" y2="689.06" stroke="#777" stroke-width="0.9"/>
<line x1="663.5" y1="694.03" x2="663.5" y2="734.41" stroke="#777" stroke-width="0.9"/>
<line x1="660.2" y1="694.03" x2="666.8" y2="694.03" stroke="#777" stroke-width="0.9"/>
<line x1="660.2" y1="734.41" x2="666.8" y2="734.41" stroke="#777" stroke-width="0.9"/>
<g fill="#000">
<circle cx="571.5" cy="656.62" r="2.95"/>
<circle cx="571.5" cy="663.58" r="2.95"/>
<circle cx="571.5" cy="669.86" r="2.95"/>
<circle cx="571.5" cy="685.42" r="2.95"/>
<circle cx="569" cy="688.07" r="2.95"/>
<circle cx="573" cy="691.38" r="2.95"/>
<circle cx="571.5" cy="695.02" r="2.95"/>
<circle cx="565.5" cy="706.94" r="2.95"/>
<circle cx="577.5" cy="708.26" r="2.95"/>
<circle cx="568.5" cy="709.58" r="2.95"/>
<circle cx="574.5" cy="710.91" r="2.95"/>
<circle cx="565.5" cy="712.23" r="2.95"/>
<circle cx="577.5" cy="713.56" r="2.95"/>
<circle cx="571.5" cy="714.88" r="2.95"/>
<circle cx="568.5" cy="716.2" r="2.95"/>
<circle cx="574.5" cy="717.53" r="2.95"/>
<circle cx="570.5" cy="718.85" r="2.95"/>
<circle cx="572.5" cy="720.51" r="2.95"/>
<circle cx="564.5" cy="728.78" r="2.95"/>
<circle cx="567.5" cy="729.44" r="2.95"/>
<circle cx="571.5" cy="730.11" r="2.95"/>
<circle cx="575.5" cy="730.44" r="2.95"/>
<circle cx="578.5" cy="730.77" r="2.95"/>
<circle cx="570.5" cy="731.43" r="2.95"/>
<circle cx="571.5" cy="708.92" r="2.95"/>
<circle cx="571.5" cy="714.22" r="2.95"/>
</g>
<g fill="#000">
<rect x="599.05" y="652.98" width="5.31" height="5.31"/>
<rect x="599.05" y="666.55" width="5.31" height="5.31"/>
<rect x="593.55" y="670.85" width="5.31" height="5.31"/>
<rect x="603.55" y="670.85" width="5.31" height="5.31"/>
<rect x="596.55" y="676.81" width="5.31" height="5.31"/>
<rect x="601.55" y="676.81" width="5.31" height="5.31"/>
<rect x="592.05" y="680.78" width="5.31" height="5.31"/>
<rect x="595.05" y="681.77" width="5.31" height="5.31"/>
<rect x="599.05" y="682.44" width="5.31" height="5.31"/>
<rect x="603.05" y="683.76" width="5.31" height="5.31"/>
<rect x="606.05" y="684.75" width="5.31" height="5.31"/>
<rect x="597.05" y="685.75" width="5.31" height="5.31"/>
<rect x="601.05" y="679.79" width="5.31" height="5.31"/>
<rect x="601.55" y="695.68" width="5.31" height="5.31"/>
<rect x="598.05" y="698.99" width="5.31" height="5.31"/>
<rect x="598.05" y="704.28" width="5.31" height="5.31"/>
<rect x="599.05" y="712.56" width="5.31" height="5.31"/>
<rect x="599.05" y="723.81" width="5.31" height="5.31"/>
<rect x="599.05" y="734.07" width="5.31" height="5.31"/>
<rect x="600.55" y="738.37" width="5.31" height="5.31"/>
<rect x="599.05" y="742.68" width="5.31" height="5.31"/>
<rect x="599.05" y="747.64" width="5.31" height="5.31"/>
<rect x="602.05" y="687.4" width="5.31" height="5.31"/>
<rect x="598.05" y="679.12" width="5.31" height="5.31"/>
</g>
<g fill="#000">
<path d="M622.8 647.88L629 647.88L625.9 642.27Z"/>
<path d="M626.3 647.88L632.5 647.88L629.4 642.27Z"/>
<path d="M629.8 647.88L636 647.88L632.9 642.27Z"/>
<path d="M633.8 647.88L640 647.88L636.9 642.27Z"/>
<path d="M636.3 647.88L642.5 647.88L639.4 642.27Z"/>
<path d="M629.3 653.84L635.5 653.84L632.4 648.23Z"/>
<path d="M633.3 657.48L639.5 657.48L636.4 651.87Z"/>
<path d="M626.8 659.13L633 659.13L629.9 653.53Z"/>
<path d="M622.3 662.44L628.5 662.44L625.4 656.84Z"/>
<path d="M628.8 662.44L635 662.44L631.9 656.84Z"/>
<path d="M635.8 662.44L642 662.44L638.9 656.84Z"/>
<path d="M637.3 662.44L643.5 662.44L640.4 656.84Z"/>
<path d="M624.8 666.74L631 666.74L627.9 661.14Z"/>
<path d="M630.8 666.74L637 666.74L633.9 661.14Z"/>
<path d="M633.3 666.74L639.5 666.74L636.4 661.14Z"/>
<path d="M627.8 670.39L634 670.39L630.9 664.78Z"/>
<path d="M632.3 670.39L638.5 670.39L635.4 664.78Z"/>
<path d="M629.3 676.01L635.5 676.01L632.4 670.41Z"/>
<path d="M630.8 681.31L637 681.31L633.9 675.7Z"/>
<path d="M636.3 681.31L642.5 681.31L639.4 675.7Z"/>
<path d="M622.8 685.28L629 685.28L625.9 679.68Z"/>
<path d="M628.8 685.28L635 685.28L631.9 679.68Z"/>
<path d="M635.8 687.27L642 687.27L638.9 681.66Z"/>
<path d="M622.8 690.58L629 690.58L625.9 684.97Z"/>
<path d="M628.8 690.58L635 690.58L631.9 684.97Z"/>
<path d="M633.8 690.58L640 690.58L636.9 684.97Z"/>
<path d="M637.3 690.58L643.5 690.58L640.4 684.97Z"/>
<path d="M631.3 696.53L637.5 696.53L634.4 690.93Z"/>
<path d="M628.3 700.84L634.5 700.84L631.4 695.23Z"/>
<path d="M631.3 700.84L637.5 700.84L634.4 695.23Z"/>
<path d="M628.8 706.8L635 706.8L631.9 701.19Z"/>
</g>
<g fill="#000">
<path d="M660.4 671L666.6 671L663.5 676.6Z"/>
<path d="M660.4 679.6L666.6 679.6L663.5 685.21Z"/>
<path d="M657.4 691.85L663.6 691.85L660.5 697.46Z"/>
<path d="M662.9 693.84L669.1 693.84L666 699.44Z"/>
<path d="M667.9 695.16L674.1 695.16L671 700.77Z"/>
<path d="M652.9 695.82L659.1 695.82L656 701.43Z"/>
<path d="M657.9 697.48L664.1 697.48L661 703.08Z"/>
<path d="M662.9 697.48L669.1 697.48L666 703.08Z"/>
<path d="M652.9 702.44L659.1 702.44L656 708.05Z"/>
<path d="M662.4 706.08L668.6 706.08L665.5 711.69Z"/>
<path d="M667.4 706.75L673.6 706.75L670.5 712.35Z"/>
<path d="M653.4 709.72L659.6 709.72L656.5 715.33Z"/>
<path d="M662.4 711.38L668.6 711.38L665.5 716.98Z"/>
<path d="M667.4 711.71L673.6 711.71L670.5 717.32Z"/>
<path d="M656.4 712.37L662.6 712.37L659.5 717.98Z"/>
<path d="M657.4 718L663.6 718L660.5 723.6Z"/>
<path d="M653.4 728.26L659.6 728.26L656.5 733.87Z"/>
<path d="M657.4 729.25L663.6 729.25L660.5 734.86Z"/>
<path d="M662.9 730.58L669.1 730.58L666 736.18Z"/>
<path d="M657.4 738.52L663.6 738.52L660.5 744.13Z"/>
<path d="M662.4 738.52L668.6 738.52L665.5 744.13Z"/>
<path d="M662.4 743.49L668.6 743.49L665.5 749.09Z"/>
<path d="M660.4 749.44L666.6 749.44L663.5 755.05Z"/>
</g>
<line x1="550.8" y1="622.2" x2="550.8" y2="755.3" stroke="#111" stroke-width="1.5"/>
<line x1="550.1" y1="754.6" x2="677.4" y2="754.6" stroke="#111" stroke-width="1.5"/>
<line x1="544.5" y1="754.6" x2="550.8" y2="754.6" stroke="#111" stroke-width="1.2"/>
<text x="543.4" y="758.1" font-size="10" text-anchor="end" font-weight="bold" font-style="normal" fill="#111">0</text>
<line x1="544.5" y1="721.5" x2="550.8" y2="721.5" stroke="#111" stroke-width="1.2"/>
<text x="543.4" y="725" font-size="10" text-anchor="end" font-weight="bold" font-style="normal" fill="#111">10</text>
<line x1="544.5" y1="688.4" x2="550.8" y2="688.4" stroke="#111" stroke-width="1.2"/>
<text x="543.4" y="691.9" font-size="10" text-anchor="end" font-weight="bold" font-style="normal" fill="#111">20</text>
<line x1="544.5" y1="655.3" x2="550.8" y2="655.3" stroke="#111" stroke-width="1.2"/>
<text x="543.4" y="658.8" font-size="10" text-anchor="end" font-weight="bold" font-style="normal" fill="#111">30</text>
<line x1="544.5" y1="622.2" x2="550.8" y2="622.2" stroke="#111" stroke-width="1.2"/>
<text x="543.4" y="625.7" font-size="10" text-anchor="end" font-weight="bold" font-style="normal" fill="#111">40</text>
<line x1="571.5" y1="754.6" x2="571.5" y2="759.9" stroke="#111" stroke-width="1.2"/>
<line x1="601.7" y1="754.6" x2="601.7" y2="759.9" stroke="#111" stroke-width="1.2"/>
<line x1="632.4" y1="754.6" x2="632.4" y2="759.9" stroke="#111" stroke-width="1.2"/>
<line x1="663.5" y1="754.6" x2="663.5" y2="759.9" stroke="#111" stroke-width="1.2"/>
<line x1="602.8" y1="622.9" x2="659.6" y2="622.9" stroke="#333" stroke-width="1.1"/>
<text x="631.2" y="625.8" font-size="13.8" text-anchor="middle" font-weight="normal" font-style="normal" fill="#222">*</text>
<line x1="633.4" y1="634.8" x2="658.9" y2="634.8" stroke="#333" stroke-width="1.1"/>
<text x="646.15" y="639" font-size="13.8" text-anchor="middle" font-weight="normal" font-style="normal" fill="#222">****</text>
<text x="528" y="690" font-size="9.4" text-anchor="middle" font-weight="bold" font-style="normal" fill="#111" transform="rotate(-90 528 690)">Number of Bouts/24 hrs</text>
<text x="574.6" y="765.8" font-size="9.35" text-anchor="end" font-weight="bold" font-style="normal" fill="#111" transform="rotate(-49 574.6 765.8)">Sterile Water Injected</text>
<text x="604.8" y="765.8" font-size="9.35" text-anchor="end" font-weight="bold" font-style="normal" fill="#111" transform="rotate(-49 604.8 765.8)">EBV DNA Injected</text>
<text x="635.5" y="765.8" font-size="9.35" text-anchor="end" font-weight="bold" font-style="normal" fill="#111" transform="rotate(-49 635.5 765.8)">PBS Injected</text>
<text x="666.6" y="765.8" font-size="9.35" font-weight="bold" fill="#111" text-anchor="end" transform="rotate(-49 666.6 765.8)">EBV <tspan font-size="6.3" font-weight="normal" fill="#000" dy="2.9" textLength="32.2" lengthAdjust="spacingAndGlyphs">70 viral particles</tspan><tspan dy="-2.9"> Injected</tspan></text>
<line x1="569.5" y1="839.5" x2="659.7" y2="839.5" stroke="#222" stroke-width="1"/>
<g fill="none" stroke="#666" stroke-width="0.92">
<circle cx="594.14" cy="849.88" r="3.02"/>
<path d="M596.28 847.74L598.46 842.53M595.65 842.75L598.46 842.53L598.68 845.34"/>
</g>
<text x="604" y="851" font-size="11.8" text-anchor="start" font-weight="bold" font-style="italic" fill="#111">W</text>
<text x="615.8" y="846.8" font-size="6.5" text-anchor="start" font-weight="bold" font-style="italic" fill="#111">1118</text>
</svg></body></html>
